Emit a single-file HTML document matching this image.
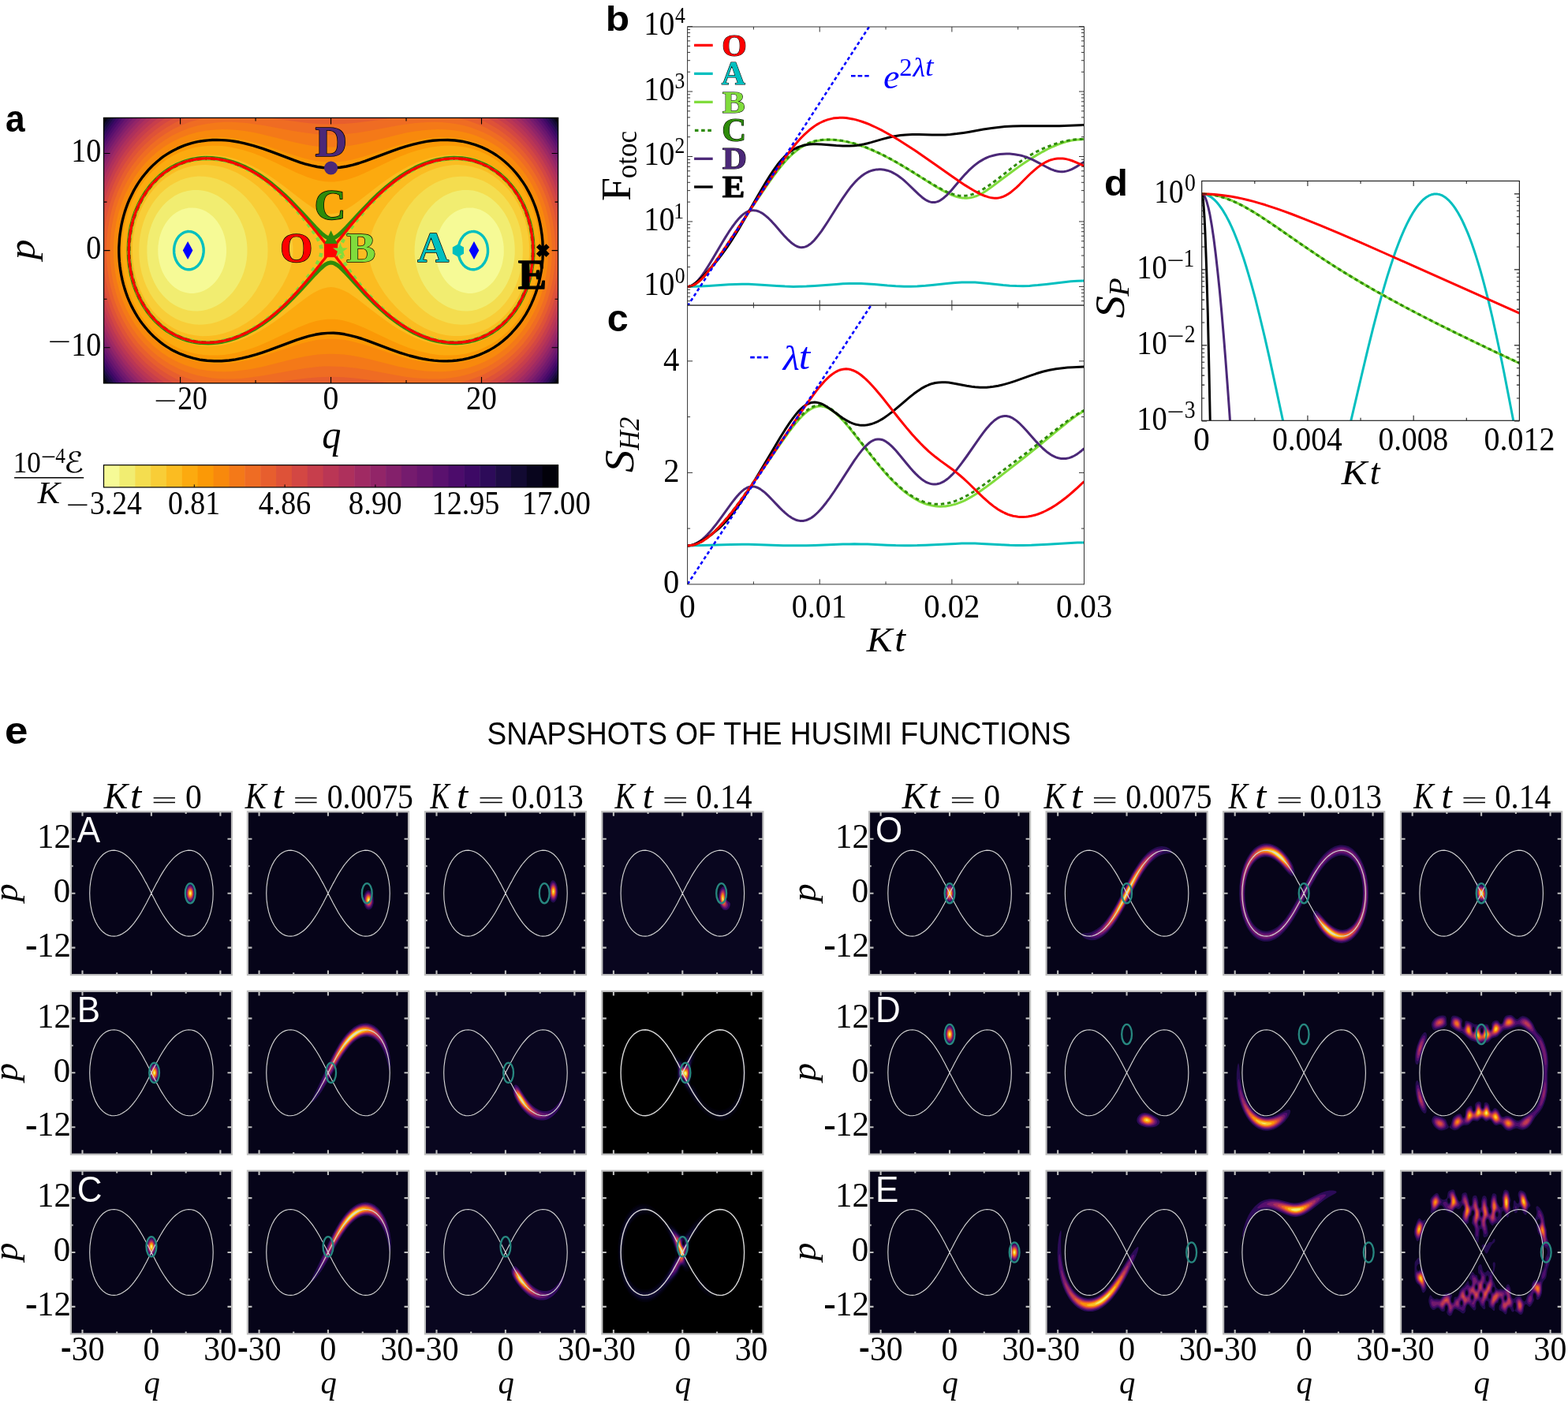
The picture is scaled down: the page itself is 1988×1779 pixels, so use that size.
<!DOCTYPE html>
<html lang="en"><head><meta charset="utf-8"><title>Figure</title>
<style>html,body{margin:0;padding:0;background:#fff;overflow:hidden}svg{display:block}</style></head>
<body><svg width="1988" height="1779" viewBox="0 0 1988 1779">
<rect width="1988" height="1779" fill="#fff"/>
<g id="pa">
<clipPath id="ca"><rect x="131.50" y="149.40" width="576.10" height="336.50"/></clipPath>
<g clip-path="url(#ca)">
<rect x="131.50" y="149.40" width="576.10" height="336.50" fill="#02010a"/>
<g transform="translate(131.50 149.40) scale(.1)" fill-rule="evenodd">
<path fill="#08051d" d="M20 15l10-15 5701 0 30 44 0 3277-30 44-5701 0-30-44 0-3277z"/>
<path fill="#120a32" d="M51 15l11-15 5637 0 62 89 0 3187-62 89-5637 0-62-89 0-3187z"/>
<path fill="#1e0c45" d="M84 15l11-15 5571 0 95 136 0 3093-95 136-5571 0-95-136 0-3093z"/>
<path fill="#2d0b59" d="M118 15l12-15 5501 0 70 95 60 90 0 2995-60 90-70 95-5501 0-70-95-60-90 0-2995 60-90z"/>
<path fill="#3d0965" d="M154 15l12-15 5429 0 90 120 76 116 0 2893-76 116-90 120-5429 0-90-120-76-116 0-2893 75-114z"/>
<path fill="#4c0c6b" d="M192 15l12-15 5353 0 54 68 60 82 90 140 0 2785-90 140-60 82-54 68-5353 0-54-68-60-82-90-140 0-2785 90-140 45-62z"/>
<path fill="#5a116e" d="M231 15l13-15 5273 0 64 78 64 87 56 82 60 98 0 2675-60 98-56 82-64 87-64 78-5273 0-64-78-64-87-56-82-60-98 0-2675 45-75 60-90 60-82z"/>
<path fill="#69166e" d="M273 15l13-15 5189 0 76 91 75 99 74 110 61 104 0 2557-61 104-74 110-75 99-76 91-5189 0-76-91-75-99-74-110-61-104 0-2557 61-104 71-105 67-90z"/>
<path fill="#751b6e" d="M317 15l14-15 5099 0 91 105 90 118 75 113 75 130 0 2433-75 130-75 113-90 118-91 105-5099 0-91-105-90-118-75-113-75-130 0-2433 75-130 74-111 79-105z"/>
<path fill="#84206b" d="M365 15l14-15 5003 0 56 60 53 61 59 74 44 60 88 136 79 141 0 2301-15 29-75 131-90 135-91 117-52 60-56 60-5003 0-56-60-53-61-59-74-44-60-88-136-79-141 0-2301 75-135 45-72 45-67 94-123 56-66z"/>
<path fill="#922568" d="M416 15l15-15 4899 0 71 73 56 62 49 60 60 79 59 87 46 74 45 79 45 88 0 2161-45 88-81 138-40 61-54 75-97 120-58 63-56 57-4899 0-71-73-56-62-49-60-60-79-59-87-46-74-45-79-45-88 0-2161 45-88 44-78 46-74 45-67 60-81 51-64 54-61z"/>
<path fill="#a02a63" d="M471 15l16-15 4787 0 67 64 75 80 68 81 67 88 60 89 57 94 48 89 45 93 0 2009-60 122-45 81-45 73-48 72-57 77-59 73-53 60-57 60-63 60-4787 0-67-64-75-80-68-81-67-88-60-89-57-94-48-89-45-93 0-2009 45-93 48-89 57-94 58-87 62-81 60-73 75-81z"/>
<path fill="#ae305c" d="M531 15l18-15 4663 0 84 76 75 76 75 85 75 97 69 102 64 105 55 105 52 115 0 1843-45 100-45 88-45 80-55 87-50 72-60 78-60 71-60 65-60 59-69 61-4663 0-84-76-75-76-75-85-75-97-69-102-64-105-55-105-52-115 0-1843 45-100 60-116 60-101 60-89 75-99 75-88 75-78z"/>
<path fill="#ba3655" d="M598 15l19-15 4527 0 106 90 91 89 90 102 75 97 75 112 65 111 60 120 55 132 0 1659-55 132-65 129-47 81-58 90-60 83-60 75-60 68-74 75-65 60-73 60-4527 0-106-90-91-89-90-102-75-97-75-112-65-111-60-120-55-132 0-1659 55-132 60-120 65-111 75-112 75-97 89-101 91-89z"/>
<path fill="#c73e4c" d="M674 15l21-15 4371 0 110 84 106 96 59 60 45 51 91 115 44 62 45 70 75 134 65 139 55 146 0 1451-31 86-37 90-37 79-45 86-53 90-60 90-67 90-60 72-75 80-75 71-75 63-80 60-4371 0-110-84-106-96-59-60-45-51-91-115-44-62-45-70-75-134-65-139-55-146 0-1451 55-146 63-135 75-135 77-116 90-116 90-100 105-99 60-50z"/>
<path fill="#d34743" d="M761 15l24-15 4191 0 69 45 71 52 60 49 60 53 60 59 60 65 57 68 48 63 45 65 45 72 45 79 41 81 34 75 31 75 29 82 30 97 0 1205-37 119-40 105-47 105-56 108-60 101-63 91-72 93-75 84-79 79-86 74-80 61-90 60-4191 0-69-45-71-52-60-49-60-53-60-59-60-65-57-68-48-63-45-65-45-72-45-79-41-81-34-75-31-75-29-82-30-97 0-1205 30-97 29-82 31-75 60-127 75-133 45-69 45-63 46-58 59-70 48-51 57-56 60-53 60-49 60-44z"/>
<path fill="#de5238" d="M867 15l28-15 3971 0 70 39 75 46 75 53 72 57 63 56 60 59 60 66 60 72 57 78 48 72 46 78 44 83 45 97 36 90 31 91 27 90 22 90 4 20 0 891-19 80-20 75-24 76-27 75-60 141-34 69-41 73-60 96-75 104-75 90-85 88-83 75-97 75-95 63-100 57-3971 0-70-39-60-36-60-41-105-82-48-42-57-55-90-98-45-55-45-60-80-123-70-128-32-67-32-75-28-75-29-91-25-90-19-80 0-891 26-110 27-90 31-91 36-90 45-97 45-85 45-76 60-90 60-79 60-71 60-63 75-71 75-63 75-55 75-49z"/>
<path fill="#e75e2e" d="M1004 15l37-15 3679 0 111 49 105 56 75 47 61 43 74 58 60 54 60 59 60 65 53 65 52 71 45 67 51 87 39 75 42 90 33 82 30 86 26 88 22 90 26 135 16 135 0 361-15 127-17 98-20 90-25 90-28 88-35 93-40 90-38 75-42 75-70 109-45 62-44 54-91 101-90 84-105 83-105 69-60 35-60 30-111 49-3679 0-111-49-105-56-105-67-90-69-90-80-90-93-75-91-75-106-60-99-60-116-52-120-42-121-37-135-25-120-14-90-10-90 0-361 15-127 23-128 30-120 37-118 42-108 48-106 60-111 60-96 60-83 75-91 75-79 90-82 90-70 95-63 100-56z"/>
<path fill="#ef6c23" d="M1219 15l68-15 808 0 335 47 150 18 165 13 151 3 150-5 150-13 165-20 305-43 808 0 132 32 125 43 70 30 60 29 108 61 72 48 60 46 60 50 60 56 53 56 52 60 59 75 46 67 45 72 45 82 38 79 32 75 34 91 23 75 25 90 19 90 15 90 11 90 7 90 3 90-2 91-5 90-10 90-13 90-18 90-23 90-27 90-27 76-31 75-36 79-45 86-45 75-45 67-45 61-45 56-60 66-50 50-55 50-60 49-60 44-60 40-60 35-72 38-66 30-72 28-75 25-75 21-72 16-808 0-335-47-150-18-150-12-151-4-150 4-150 12-150 18-335 47-808 0-132-32-125-43-70-30-60-29-108-61-102-70-90-74-90-87-75-84-75-99-63-97-59-105-56-120-46-121-36-120-28-120-22-135-13-135-4-136 6-135 13-120 23-135 29-120 32-105 46-121 56-120 59-105 63-97 75-99 75-84 90-87 90-74 102-70 93-53 108-52 117-44z"/>
<path fill="#f47918" d="M1430 60l100-6 90 0 90 4 105 9 105 13 105 16 390 72 150 24 165 18 150 5 76-1 90-6 165-18 150-25 375-69 195-28 90-8 90-5 90-1 90 3 90 8 90 13 90 19 90 25 79 28 86 36 90 46 75 46 60 41 60 46 60 52 60 58 60 66 45 54 45 61 45 67 45 76 38 72 35 75 30 76 32 90 22 75 22 90 15 75 14 90 8 75 5 90 2 91-3 90-7 90-12 90-12 75-20 90-20 75-29 90-28 76-33 75-36 75-38 68-45 73-48 69-57 73-45 51-60 62-60 55-60 49-60 43-75 48-71 40-64 30-75 32-75 26-75 21-75 17-75 13-90 11-90 5-105 1-90-4-105-9-105-13-105-16-390-72-150-24-165-18-151-5-75 1-90 6-165 18-150 25-375 69-195 28-90 8-90 5-90 1-90-3-90-8-90-13-90-19-90-25-79-28-86-36-90-46-75-46-90-63-90-76-90-90-75-88-75-105-60-99-59-117-50-121-40-120-31-123-24-132-14-135-5-136 5-135 14-135 24-132 31-123 40-120 49-119 54-107 62-105 64-91 75-91 90-93 90-78 90-65 105-64 105-51 105-41 120-35 110-22z"/>
<path fill="#f8890c" d="M1412 150l88-3 105 2 90 7 105 13 105 18 110 23 385 96 150 32 90 15 75 10 90 7 75 2 76-2 90-7 75-10 90-15 150-32 385-96 110-23 90-15 105-14 90-8 90-3 90 2 90 7 75 10 75 14 90 24 75 25 75 31 75 36 60 34 60 38 60 44 48 39 57 50 54 55 51 57 45 56 45 63 41 64 35 60 38 75 34 75 29 76 25 75 22 75 17 75 15 75 13 90 7 75 4 90 1 76-4 90-7 78-12 87-17 90-16 70-23 80-22 67-30 78-30 69-36 72-39 69-45 70-45 63-45 56-60 67-60 59-60 51-60 47-60 41-60 36-75 39-75 32-60 23-75 23-75 18-75 13-75 10-105 7-105-1-105-7-105-12-105-18-125-25-385-96-150-32-90-15-75-10-90-7-76-2-75 2-90 7-75 10-90 15-150 32-385 96-110 23-90 15-105 14-90 8-90 3-90-2-90-7-75-10-75-14-90-24-75-25-75-31-75-36-60-34-90-59-90-71-90-86-75-85-75-101-60-96-60-115-45-106-42-123-31-120-23-120-14-120-6-135 3-121 11-120 22-135 29-120 39-120 42-106 59-120 61-102 60-85 75-91 81-82 84-73 90-65 90-54 105-51 105-40 105-29 105-20z"/>
<path fill="#fb9906" d="M1294 255l116-8 120 1 120 11 120 20 120 28 120 34 110 35 280 95 150 44 75 18 75 15 75 9 60 4 76 1 75-5 75-9 90-18 75-19 90-26 371-124 154-46 90-23 90-18 90-15 75-8 90-5 90 1 90 7 90 13 80 18 85 26 90 35 75 36 60 34 60 39 55 41 50 41 52 49 53 54 45 53 45 58 41 60 34 55 30 54 36 71 26 61 29 75 24 75 20 72 17 78 14 75 9 75 7 75 3 75-1 76-3 75-7 75-11 75-14 75-17 75-21 75-21 63-30 77-30 68-30 59-45 79-39 60-44 60-49 60-48 52-54 53-51 44-60 46-60 40-60 36-60 30-75 33-75 26-60 17-75 17-75 11-105 9-120 0-120-10-135-22-120-28-120-34-110-35-280-95-150-44-75-18-75-15-75-9-60-4-76-1-75 5-75 9-90 18-75 19-90 26-371 124-154 46-90 23-90 18-90 15-75 8-90 5-90-1-90-7-90-13-80-18-85-26-90-35-75-36-90-53-90-65-75-64-75-76-75-91-60-86-58-99-47-96-40-100-35-106-29-119-21-120-12-120-3-121 6-120 13-120 23-120 28-105 40-118 45-105 48-93 57-92 65-88 70-82 75-73 75-63 90-62 90-51 90-42 105-36 105-27z"/>
<path fill="#fcaa0f" d="M1256 361l64-6 60-2 120 4 60 7 71 12 129 30 130 41 126 49 135 60 294 140 135 56 75 25 75 19 75 12 60 4 61-1 75-9 75-16 75-23 75-28 75-32 342-162 153-66 90-33 90-29 84-22 81-17 90-14 90-6 90-1 90 7 90 14 75 18 90 30 75 32 53 27 52 30 46 30 59 44 45 38 45 42 45 47 45 52 36 47 39 56 31 49 33 60 30 61 26 60 29 75 19 60 17 60 17 75 14 75 9 75 6 75 3 75-5 136-7 75-11 75-15 75-15 60-17 60-26 75-48 114-30 60-38 67-39 60-44 60-51 60-53 56-53 49-52 43-60 43-60 37-60 32-60 27-75 28-60 18-60 14-75 12-60 6-60 3-60 0-75-4-60-7-71-12-129-30-130-41-126-49-135-60-294-140-135-56-75-25-75-19-75-12-60-4-61 1-75 9-75 16-75 23-75 28-75 32-342 162-153 66-90 33-90 29-84 22-81 17-90 14-90 6-90 1-90-7-90-14-75-18-90-30-75-32-90-48-75-49-75-59-75-70-75-84-58-77-56-90-48-91-39-90-38-105-28-105-21-105-14-105-7-120 3-121 9-105 17-105 25-109 31-101 44-112 45-92 57-97 63-88 60-71 65-66 70-61 75-55 90-54 90-42 90-33 90-24z"/>
<path fill="#fbbc21" d="M1179 481l81-10 75-3 75 3 75 9 75 13 75 19 89 29 76 30 75 34 79 41 77 45 94 60 146 105 279 216 105 71 60 32 60 25 60 14 45 4 46-4 60-14 45-18 60-31 60-37 60-42 299-231 83-60 89-60 99-60 83-45 97-45 90-35 90-28 105-23 105-14 90-2 90 5 90 14 90 23 90 33 57 27 48 26 90 60 45 36 45 40 75 78 37 45 38 52 61 98 29 55 30 65 24 61 21 60 32 120 22 120 11 120 2 75-2 61-5 75-6 60-22 120-32 120-45 120-30 66-30 57-35 58-40 60-45 57-45 51-45 45-60 53-45 34-60 40-60 34-60 28-60 23-60 19-60 14-60 11-75 7-75 1-75-4-75-9-75-15-75-20-75-24-90-36-82-39-68-37-75-44-85-54-146-105-279-216-105-71-60-32-60-25-60-14-45-4-46 4-60 14-45 18-60 31-60 37-60 42-299 231-83 60-89 60-99 60-83 45-97 45-90 35-90 28-105 23-105 14-90 2-90-5-90-14-90-23-90-33-75-36-75-45-75-55-64-56-58-60-62-75-56-82-48-84-42-89-35-91-28-90-24-105-15-105-8-90-1-106 6-105 13-105 18-90 29-105 32-90 43-96 45-83 50-77 55-72 60-67 60-57 75-59 75-49 75-39 75-32 90-28z"/>
<path fill="#f8cd37" d="M1193 601l97-4 90 6 90 16 48 12 57 18 103 42 92 49 90 58 95 73 96 90 82 91 70 90 67 105 48 90 25 60 17 45 18 60 10 45 11 90 0 91-11 90-23 90-16 45-25 60-54 105-57 90-68 90-79 91-77 75-90 75-86 60-103 59-102 46-90 30-93 21-90 11-90 2-90-9-90-18-90-31-75-34-78-47-72-54-75-69-60-68-60-84-50-86-43-90-34-90-29-105-21-105-11-105-3-106 5-105 14-105 23-105 33-105 41-101 45-86 53-84 59-75 68-72 75-63 75-51 75-41 90-36 90-24zM4400 601l56-4 45 0 90 7 90 17 90 28 90 40 75 45 75 56 72 66 63 71 60 84 50 86 43 90 39 105 28 105 19 105 10 105 2 106-8 120-17 105-25 105-36 106-45 101-45 81-60 87-64 76-71 69-75 58-75 47-75 36-90 32-90 21-90 10-90 0-45-3-60-9-90-20-93-31-87-38-94-52-90-60-93-75-79-75-82-91-70-90-67-105-48-90-25-60-17-45-18-60-10-45-11-90 0-91 11-90 23-90 34-90 44-90 64-105 66-90 77-91 75-75 87-75 88-64 93-56 92-45 100-37 90-24z"/>
<path fill="#f4dd4f" d="M1113 751l87-9 75 2 75 10 90 23 75 29 75 37 75 48 70 55 64 60 66 76 54 75 53 90 35 75 33 90 23 90 14 90 4 90-4 91-14 90-19 75-31 90-33 75-51 90-53 75-63 75-61 61-73 60-74 49-75 39-78 32-87 24-75 11-75 4-75-5-75-14-75-23-75-33-60-34-60-43-60-53-55-59-50-65-45-71-45-89-30-76-28-90-19-90-12-90-4-90 3-106 11-90 18-90 26-90 28-75 37-78 43-72 47-67 60-68 60-56 60-45 60-36 75-36 70-23zM4428 751l88-8 75 1 75 10 75 19 75 29 74 39 61 42 60 50 60 61 57 73 48 75 38 75 37 89 28 91 19 90 12 90 4 90-3 106-11 90-18 90-26 90-35 90-37 75-46 75-52 70-60 65-60 53-60 43-75 42-75 31-75 21-75 12-75 3-90-7-75-15-75-24-75-32-75-41-75-53-60-50-60-60-61-73-53-75-43-75-35-75-33-90-23-90-14-90-4-91 4-90 14-90 19-75 31-90 33-75 42-75 50-75 61-75 58-61 70-60 63-45 76-44 75-34 75-25z"/>
<path fill="#f1ed71" d="M1128 916l72 0 60 7 60 14 60 21 60 29 54 35 58 45 47 45 51 60 42 60 34 60 29 63 27 72 19 75 13 75 6 75-1 76-7 75-14 75-21 75-29 75-30 60-36 60-44 60-48 54-56 51-49 37-60 36-60 27-60 20-60 12-60 5-60-2-60-8-60-17-60-24-48-25-57-39-45-38-45-46-45-56-31-47-33-60-33-75-25-75-18-75-11-75-5-75 0-76 7-75 12-75 17-66 23-69 26-60 31-60 40-62 45-56 45-46 45-38 60-41 54-28 51-19 60-17zM4550 916l71-1 60 7 60 15 60 22 60 30 49 33 56 46 45 46 45 56 31 47 33 60 33 75 25 75 18 75 11 75 5 75 0 76-7 75-12 75-20 75-26 75-31 68-30 53-45 66-45 52-45 43-45 36-60 38-60 28-60 21-60 12-60 5-60-2-60-8-60-16-60-24-60-31-60-41-53-45-45-45-48-60-34-50-39-70-26-60-22-60-19-75-13-75-6-75 1-76 7-75 14-75 16-60 27-72 29-63 34-60 42-60 45-53 53-52 52-41 53-35 52-26 60-24 60-16z"/>
<path fill="#f6fa96" d="M1080 1142l45-2 45 3 45 10 45 16 36 18 39 25 43 35 30 30 32 40 24 35 25 45 21 45 20 60 11 45 8 45 6 60 0 61-4 45-7 45-14 60-14 45-19 45-24 45-29 45-34 42-30 31-38 32-37 25-39 20-39 15-42 11-45 6-45 0-45-6-39-11-36-13-33-17-42-27-30-25-30-29-30-35-30-43-28-51-17-38-15-41-15-56-11-60-5-45-1-61 2-45 9-60 9-45 13-45 17-45 22-45 26-45 24-34 36-41 32-30 37-28 30-19 45-21 45-14zM4604 1142l32-2 45 2 45 8 45 14 45 21 30 19 37 28 38 36 30 35 30 43 28 51 17 38 15 41 15 56 11 60 5 45 1 61-2 45-9 60-9 45-13 45-24 60-23 45-27 44-30 38-30 32-42 36-33 23-42 22-33 13-45 13-45 6-45 0-45-6-42-11-33-12-36-18-39-25-43-35-30-30-32-40-24-35-25-45-21-45-16-45-12-45-9-45-7-60-1-61 2-45 8-55 11-50 13-45 18-45 21-45 27-45 30-40 31-35 33-30 41-30 30-18 45-21 45-14z"/>
</g>
<path d="M263.9,177.9 258.4,178.5 253.4,179.2 248.4,180.2 243.4,181.4 238.4,182.9 233.9,184.4 229,186.4 224.5,188.4 219.9,190.7 215.4,193.2 211.1,195.9 206.9,198.7 203,201.7 199,205 195.2,208.4 191.5,212 188,215.7 184.5,219.8 181,224.1 177.8,228.4 174.8,232.9 172,237.5 169.2,242.4 166.7,247.4 164.3,252.4 162,257.9 160,263.3 158.3,268.4 156.7,273.9 155.3,279.4 154,285.2 153,290.9 152.1,296.9 151.5,302.4 150.8,313.9 150.8,319.9 151,325.9 151.4,331.9 152,337.5 152.8,343.4 153.8,348.9 155,354.7 156.4,360.4 158,365.9 159.8,371.4 161.8,376.9 164,382.1 166.4,387.4 169,392.4 171.5,396.9 174.5,401.9 177.5,406.4 180.5,410.5 184,414.9 187.5,419 191.1,422.9 195,426.7 199,430.3 203,433.6 206.9,436.6 211.4,439.6 215.9,442.4 220.4,444.9 228.4,448.7 236.4,451.7 244.9,454.2 253.4,456.1 262.4,457.3 271.4,457.8 280.9,457.7 290.4,457 298.4,455.9 306.9,454.2 315.4,452.2 324.4,449.7 332.4,447.1 340.9,444.2 375.8,431.1 384.3,428.3 391.8,426.1 399.8,424.3 407.8,423 415.3,422.4 422.8,422.3 429.8,422.8 436.8,423.8 443.8,425.3 451.8,427.4 458.8,429.5 466.3,432.1 494.8,442.9 506.7,447.1 519.2,451 531.2,454 537.7,455.3 544.2,456.4 550.2,457.1 556.2,457.6 562.2,457.9 567.7,457.8 573.7,457.5 579.2,457 586.7,455.9 593.7,454.4 600.7,452.4 607.2,450.1 613.7,447.3 620.2,444.1 626.2,440.6 632.2,436.6 637.6,432.4 643.4,427.4 648.6,422.2 653.6,416.7 658.1,411.2 662.6,404.9 666.8,398.4 670.6,391.5 673.6,385.4 676.6,378.5 679.1,371.9 681.4,364.9 683.4,357.9 685,350.4 686.3,343.4 687.3,335.9 688,328.4 688.3,320.9 688.2,313.4 687.9,305.9 687.2,298.4 686.1,290.9 684.7,283.4 683.1,276.4 681.1,269.4 678.8,262.4 676.1,255.5 673.2,248.9 670.1,242.9 666.5,236.4 662.6,230.4 658.7,224.9 654.3,219.4 649.9,214.4 645.1,209.6 640.1,205 635.2,201 629.7,197 624.2,193.5 618.7,190.4 610.7,186.6 602.7,183.6 594.2,181.1 585.7,179.2 576.7,178 567.7,177.5 558.2,177.6 548.7,178.3 540.7,179.4 532.2,181.1 523.7,183.1 514.7,185.6 506.7,188.2 498.2,191.1 463.3,204.2 454.8,207 447.3,209.2 439.3,211 431.3,212.3 423.8,212.9 416.3,213 409.3,212.5 402.3,211.5 394.8,209.9 386.8,207.8 380.3,205.8 372.8,203.2 344.9,192.6 333,188.4 320.9,184.6 309.4,181.6 303.4,180.3 297.4,179.3 291.4,178.4 285.9,177.9 280.4,177.6 274.9,177.4 269.4,177.5 263.9,177.9" fill="none" stroke="#000" stroke-width="3.40" stroke-linejoin="round"/>
<path d="M260.4,200.4 255.9,200.6 251.4,201.1 246.9,201.8 242.9,202.6 238.4,203.7 234.4,204.9 230.4,206.4 226.4,208 222.4,209.9 218.4,212 214.5,214.4 210.9,216.8 207.4,219.4 203.9,222.2 197.5,228.2 194,231.9 191,235.4 185.5,242.7 180.5,250.6 176,259.2 172,268.4 168.8,277.9 166.2,287.9 164.5,297.7 163.4,307.9 163.1,318.4 163.5,328.4 164.7,338.9 166.5,348.5 169.1,358.4 170.7,363.4 172.5,368.1 176.5,377.2 181,385.5 183.5,389.6 186.4,393.9 189.4,397.9 192.2,401.4 195.3,404.9 198.5,408.1 202,411.4 205.4,414.4 212.4,419.6 216.1,421.9 219.9,424.1 223.9,426.1 227.9,427.9 232.9,429.9 237.9,431.5 242.9,432.7 247.9,433.7 252.9,434.4 258.4,434.8 263.9,434.9 269.4,434.7 274.9,434.2 280.4,433.4 285.9,432.2 291.4,430.8 296.9,429.1 302.4,427 307.9,424.7 313.4,422.1 322.4,417.3 331.7,411.4 341.4,404.4 350.7,396.9 360.8,387.9 371,377.9 381.1,367.4 399.3,347.6 405.8,341 409.8,337.5 412.8,335.3 415.8,333.8 418.3,333.1 419.8,333 421.3,333.2 422.8,333.6 424.3,334.2 427.8,336.3 431.3,339.1 434.8,342.4 439.3,347 463.7,373.4 475.2,384.9 482.7,391.9 490.2,398.4 497.1,403.9 504.5,409.4 511.7,414.2 518.7,418.4 526.2,422.4 533.2,425.6 540.3,428.4 547.7,430.8 554.7,432.6 561.7,433.8 569.7,434.7 577.7,434.9 585.7,434.5 593.7,433.3 601.2,431.5 608.8,428.9 616.2,425.7 623.2,421.8 629.7,417.4 636.1,412.3 642.1,406.6 647.7,400.4 653.1,393.4 657.6,386.4 662,378.4 665.6,370.5 667.8,364.9 669.7,359.4 671.4,353.4 672.9,347.4 674,341.4 674.9,335.4 675.6,328.9 675.9,322.9 676,316.9 675.8,310.4 675.4,303.9 674.6,297.9 673.7,291.9 672.4,285.9 670.9,279.9 669,273.9 667.1,268.4 664.6,262.4 662.1,257.1 659.4,251.9 656.4,246.9 653.1,242 649.6,237.3 646.1,233.1 642.1,228.7 638.1,224.8 634.2,221.3 629.7,217.9 625.2,214.8 620.7,212 616.2,209.6 611.2,207.4 606.2,205.4 601.2,203.8 596.2,202.6 591.2,201.6 586.2,200.9 580.7,200.5 575.7,200.4 570.2,200.6 564.7,201.1 559.2,201.9 553.7,203 548.2,204.4 542.7,206.1 537.2,208.1 531.7,210.3 526.3,212.9 517,217.9 508.2,223.4 499,229.9 490.2,236.9 479.9,245.9 469.1,256.4 458.5,267.4 439.3,288.3 432.3,295.3 428.3,298.6 425.3,300.6 422.3,301.9 420.8,302.2 419.3,302.3 416.8,301.9 413.8,300.6 410.8,298.6 407.8,296.2 404.3,292.9 399.8,288.3 382.5,269.4 374.4,260.9 367.5,253.9 360.8,247.4 352.4,239.9 344.6,233.4 336.7,227.4 328.4,221.7 319.9,216.6 311.4,212.2 302.9,208.5 294.3,205.4 285.9,203.1 277.4,201.5 268.9,200.6 260.4,200.4" fill="none" stroke="#2e8b0a" stroke-width="5.10" stroke-linejoin="round"/>
<path d="M260.4,201.4 255.4,201.6 250.4,202.2 245.8,202.9 240.9,204 235.9,205.4 231.4,206.9 226.9,208.7 222.4,210.8 217.9,213.2 213.6,215.9 209.4,218.8 205.4,221.9 201.5,225.3 198,228.7 194.5,232.4 191,236.4 187.9,240.4 184.8,244.9 181.9,249.4 179.1,254.4 176.5,259.4 174.5,263.9 172.5,268.9 170.5,274.5 168.8,279.9 167.4,285.4 166.1,291.4 165.2,296.9 164.5,302.4 163.9,308.4 163.7,314.4 163.6,319.9 163.9,325.9 164.3,331.4 165,337.1 165.9,342.9 167,348.4 168.5,354.2 170,359.4 171.9,364.9 174,370.2 176.3,375.4 178.8,380.4 181.3,384.9 184,389.2 187,393.6 190.2,397.9 193.6,401.9 197,405.6 200.9,409.4 204.4,412.6 208.4,415.8 212.4,418.6 216.8,421.4 220.9,423.7 225.4,425.9 229.9,427.8 234.4,429.5 238.9,430.8 243.9,432 248.9,432.9 253.9,433.5 258.9,433.9 263.9,433.9 268.4,433.7 273.4,433.3 278.4,432.6 283.4,431.6 288.4,430.4 293.4,429 298.4,427.3 303.4,425.3 308.4,423.1 313.4,420.6 318.5,417.9 323.4,415 328.2,411.9 333.3,408.4 343.1,400.9 349.1,395.9 354.6,390.9 360.4,385.4 366.3,379.4 371.9,373.4 377.6,366.9 383.1,360.4 388.6,353.4 393.5,346.9 397.7,340.9 400.9,335.9 403.5,331.4 405.4,327.4 406.7,323.9 407.4,320.4 407.6,317.4 407.4,314.4 406.5,310.9 405,306.9 403,302.9 400,297.9 396.3,292.4 392,286.4 386.7,279.4 381,272.4 375.4,265.9 369.6,259.4 363.9,253.4 358.3,247.9 352.5,242.4 346.8,237.4 340.6,232.4 335.4,228.4 330.5,224.9 325.4,221.5 320.4,218.5 315.4,215.7 310.4,213.2 305.4,210.9 300.4,208.8 295.4,207 290.4,205.4 285.4,204.1 280.4,203.1 275.4,202.3 270.4,201.7 265.4,201.4 260.4,201.4M574.7,201.4 570.2,201.6 565.2,202.1 560.2,202.8 555.2,203.8 550.2,205 545.2,206.5 540.2,208.2 535.2,210.2 530.3,212.4 525.2,214.9 520.6,217.4 515.6,220.4 505.8,226.9 496,234.4 490,239.4 484.5,244.4 478.7,249.9 472.8,255.9 467.2,261.9 461.5,268.4 456,274.9 450.5,281.9 445.6,288.4 441.4,294.4 438.2,299.4 435.6,303.9 433.7,307.9 432.4,311.4 431.7,314.9 431.5,317.9 431.7,320.9 432.6,324.4 434.1,328.4 436.1,332.4 439.1,337.4 442.4,342.4 447.1,348.9 452,355.4 457.7,362.4 463.2,368.9 469.1,375.4 474.7,381.4 480.3,386.9 486.1,392.4 491.8,397.4 497.8,402.4 503,406.4 507.9,409.9 513.2,413.4 518,416.4 523.2,419.3 528.2,421.9 533.2,424.2 538.2,426.3 543.2,428.1 548.2,429.7 553.2,431.1 558.2,432.1 563.2,433 568.2,433.5 573.2,433.9 578.2,433.9 583.2,433.7 588.2,433.2 593.2,432.4 597.7,431.5 602.7,430.1 607.2,428.6 611.7,426.8 616.2,424.7 620.7,422.3 624.7,419.9 629.2,416.9 633.2,413.8 637.1,410.4 640.6,407.1 644.1,403.5 647.7,399.4 651.1,395 654.1,390.7 657.1,386 659.6,381.6 662.1,376.8 664.6,371.4 666.6,366.4 668.6,360.9 670.3,355.4 671.7,349.9 673,343.9 673.9,338.4 674.6,332.9 675.2,326.9 675.4,320.9 675.5,315.4 675.2,309.4 674.8,303.9 674.1,298.2 673.2,292.4 672.1,286.9 670.6,281.1 669.1,275.9 667.2,270.4 665.1,265.1 662.8,259.9 660.3,254.9 657.6,250.1 654.7,245.4 651.6,241 648.5,236.9 645.1,233 641.6,229.2 638.1,225.8 634.2,222.3 630.2,219.2 626.2,216.3 621.7,213.5 617.7,211.3 613.2,209.2 608.7,207.3 604.2,205.7 599.7,204.4 594.7,203.2 589.7,202.3 584.7,201.7 579.7,201.4 574.7,201.4" fill="none" stroke="#80dc3c" stroke-width="4.40" stroke-dasharray="5 5.5" stroke-linejoin="round"/>
<path d="M236.4,293.8 234.4,294.4 232.9,295 229.8,296.9 226.9,299.5 224.4,303 222.5,306.9 221.2,311.4 220.6,315.9 220.7,320.4 221.4,325 222.9,329.4 224.9,333.1 227.4,336.3 228.9,337.7 230.4,338.9 233.4,340.6 234.9,341.1 236.9,341.6 238.4,341.8 240.4,341.7 242.4,341.5 244.4,340.9 246.4,340 247.9,339.1 249.6,337.9 251.2,336.4 252.5,334.9 253.9,333 255.1,330.9 256,328.9 257.4,324.4 258.1,319.9 258.2,317.4 258.1,314.9 257.3,310.4 255.8,305.9 254.8,303.9 253.6,301.9 252.1,299.9 250.7,298.4 249,296.9 247.4,295.8 245.6,294.9 243.9,294.2 242.4,293.8 240.4,293.6 238.4,293.5 236.4,293.8M596.7,293.8 594.7,294.4 593.2,295 590.1,296.9 588.7,298.1 587.2,299.7 584.7,303.2 582.9,306.9 581.6,311.4 581,315.9 581,320.4 581.8,324.9 583.2,329.1 585.2,332.9 587.7,336.2 589.2,337.6 590.7,338.8 592.5,339.9 594.2,340.7 596.2,341.3 597.7,341.6 599.7,341.8 601.2,341.7 603.1,341.4 604.7,340.9 606.7,340.1 608.2,339.2 610,337.9 611.6,336.4 614.2,333.1 616.2,329.4 617.7,324.9 618.2,322.4 618.5,319.9 618.5,317.4 618.4,314.9 617.7,310.3 616.2,305.9 615.2,303.8 614,301.9 612.7,300.1 611.2,298.5 609.3,296.9 607.7,295.8 606,294.9 604.2,294.2 602.7,293.8 600.7,293.5 598.7,293.6 596.7,293.8" fill="none" stroke="#00bfbf" stroke-width="3.40" stroke-linejoin="round"/>
<path d="M675.7,317.6 675.7,312.5 675.4,307.3 674.9,302.1 674.2,297 673.4,291.9 672.4,286.9 671.1,282 669.8,277.1 668.2,272.4 666.5,267.7 664.6,263.2 662.6,258.8 660.4,254.5 658.1,250.4 655.7,246.4 653.1,242.6 650.5,238.9 647.7,235.4 644.8,232.1 641.8,228.9 638.8,225.9 635.6,223.1 632.4,220.4 629.1,217.9 625.8,215.6 622.4,213.5 619,211.6 615.5,209.8 612.1,208.2 608.6,206.8 605,205.5 601.5,204.4 597.9,203.4 594.4,202.6 590.8,202 587.3,201.5 583.8,201.2 580.2,200.9 576.7,200.9 573.3,200.9 569.8,201.1 566.3,201.4 562.9,201.8 559.6,202.4 556.2,203 552.9,203.7 549.6,204.6 546.3,205.5 543.1,206.6 539.9,207.7 536.8,208.9 533.7,210.2 530.6,211.6 527.6,213 524.6,214.5 521.6,216.1 518.7,217.7 515.8,219.4 513,221.2 510.1,223 507.4,224.9 504.6,226.8 501.9,228.7 499.3,230.7 496.6,232.8 494,234.9 491.5,237 488.9,239.1 486.4,241.3 484,243.6 481.5,245.8 479.1,248.1 476.7,250.4 474.3,252.7 472,255.1 469.7,257.5 467.4,259.9 465.1,262.3 462.9,264.7 460.7,267.2 458.5,269.6 456.3,272.1 454.1,274.6 452,277.1 449.8,279.6 447.7,282.2 445.6,284.7 443.5,287.3 441.4,289.8 439.4,292.4 437.3,295 435.3,297.5 433.2,300.1 431.2,302.7 429.1,305.3 427.1,307.9 425.1,310.5 423.1,313.1 421.1,315.7 419,318.3 417,320.9 415,323.5 413,326.1 411,328.7 408.9,331.3 406.9,333.9 404.9,336.5 402.8,339 400.8,341.6 398.7,344.2 396.6,346.8 394.5,349.3 392.4,351.9 390.3,354.4 388.2,356.9 386.1,359.4 383.9,361.9 381.7,364.4 379.5,366.9 377.3,369.4 375.1,371.8 372.8,374.2 370.6,376.6 368.3,379 365.9,381.4 363.6,383.7 361.2,386.1 358.8,388.4 356.4,390.6 353.9,392.9 351.4,395.1 348.9,397.2 346.4,399.4 343.8,401.5 341.2,403.6 338.5,405.6 335.8,407.6 333.1,409.5 330.3,411.4 327.6,413.2 324.7,415 321.9,416.7 319,418.4 316,420 313,421.6 310,423 307,424.4 303.9,425.8 300.8,427 297.6,428.2 294.4,429.3 291.1,430.3 287.9,431.1 284.6,431.9 281.2,432.6 277.9,433.2 274.5,433.7 271,434.1 267.6,434.3 264.1,434.4 260.6,434.4 257.1,434.3 253.6,434 250,433.6 246.5,433 242.9,432.3 239.4,431.4 235.8,430.4 232.3,429.2 228.8,427.8 225.3,426.3 221.8,424.6 218.4,422.8 215,420.7 211.6,418.5 208.3,416.1 205.1,413.6 201.9,410.8 198.8,407.9 195.8,404.9 192.8,401.6 190,398.2 187.3,394.6 184.7,390.8 182.2,386.9 179.8,382.9 177.6,378.7 175.5,374.3 173.5,369.9 171.7,365.3 170.1,360.6 168.6,355.8 167.3,350.9 166.2,345.9 165.3,340.9 164.5,335.8 163.9,330.6 163.6,325.4 163.4,320.3 163.4,315 163.6,309.9 163.9,304.7 164.5,299.5 165.3,294.4 166.2,289.4 167.3,284.4 168.6,279.5 170.1,274.7 171.7,270 173.5,265.4 175.5,261 177.6,256.6 179.8,252.4 182.2,248.4 184.7,244.5 187.3,240.7 190,237.1 192.8,233.7 195.8,230.4 198.8,227.4 201.9,224.5 205.1,221.7 208.3,219.2 211.6,216.8 215,214.6 218.4,212.5 221.8,210.7 225.3,209 228.8,207.5 232.3,206.1 235.8,204.9 239.4,203.9 242.9,203 246.5,202.3 250,201.7 253.6,201.3 257.1,201 260.6,200.9 264.1,200.9 267.6,201 271,201.2 274.5,201.6 277.9,202.1 281.2,202.7 284.6,203.4 287.9,204.2 291.1,205 294.4,206 297.6,207.1 300.8,208.3 303.9,209.5 307,210.9 310,212.3 313,213.7 316,215.3 319,216.9 321.9,218.6 324.7,220.3 327.6,222.1 330.3,223.9 333.1,225.8 335.8,227.7 338.5,229.7 341.2,231.7 343.8,233.8 346.4,235.9 348.9,238.1 351.4,240.2 353.9,242.4 356.4,244.7 358.8,246.9 361.2,249.2 363.6,251.6 365.9,253.9 368.3,256.3 370.6,258.7 372.8,261.1 375.1,263.5 377.3,265.9 379.5,268.4 381.7,270.9 383.9,273.4 386.1,275.9 388.2,278.4 390.3,280.9 392.4,283.4 394.5,286 396.6,288.5 398.7,291.1 400.8,293.7 402.8,296.3 404.9,298.8 406.9,301.4 408.9,304 411,306.6 413,309.2 415,311.8 417,314.4 419,317 421.1,319.6 423.1,322.2 425.1,324.8 427.1,327.4 429.1,330 431.2,332.6 433.2,335.2 435.3,337.8 437.3,340.3 439.4,342.9 441.4,345.5 443.5,348 445.6,350.6 447.7,353.1 449.8,355.7 452,358.2 454.1,360.7 456.3,363.2 458.5,365.7 460.7,368.1 462.9,370.6 465.1,373 467.4,375.4 469.7,377.8 472,380.2 474.3,382.6 476.7,384.9 479.1,387.2 481.5,389.5 484,391.7 486.4,394 488.9,396.2 491.5,398.3 494,400.4 496.6,402.5 499.3,404.6 501.9,406.6 504.6,408.5 507.4,410.4 510.1,412.3 513,414.1 515.8,415.9 518.7,417.6 521.6,419.2 524.6,420.8 527.6,422.3 530.6,423.7 533.7,425.1 536.8,426.4 539.9,427.6 543.1,428.7 546.3,429.8 549.6,430.7 552.9,431.6 556.2,432.3 559.6,432.9 562.9,433.5 566.3,433.9 569.8,434.2 573.3,434.4 576.7,434.4 580.2,434.4 583.8,434.1 587.3,433.8 590.8,433.3 594.4,432.7 597.9,431.9 601.5,430.9 605,429.8 608.6,428.5 612.1,427.1 615.5,425.5 619,423.7 622.4,421.8 625.8,419.7 629.1,417.4 632.4,414.9 635.6,412.2 638.8,409.4 641.8,406.4 644.8,403.2 647.7,399.9 650.5,396.4 653.1,392.7 655.7,388.9 658.1,384.9 660.4,380.8 662.6,376.5 664.6,372.1 666.5,367.6 668.2,362.9 669.8,358.2 671.1,353.3 672.4,348.4 673.4,343.4 674.2,338.3 674.9,333.2 675.4,328 675.7,322.8 675.7,317.7z" fill="none" stroke="#ff0000" stroke-width="3.40" stroke-linejoin="round"/>
<polygon points="238.1,306.1 244.4,317.6 238.1,329.1 231.8,317.6" fill="#0000ff"/>
<polygon points="601.0,306.1 607.3,317.6 601.0,329.1 594.7,317.6" fill="#0000ff"/>
<polygon points="580.9,309.4 588.0,313.5 588.0,321.8 580.9,325.8 573.8,321.8 573.8,313.5" fill="#00bfbf"/>
<polygon points="419.6,292.3 428.6,310.9 410.6,310.9" fill="#2e8b0a"/>
<rect x="410.9" y="309.0" width="17.2" height="17.2" fill="#ff0000"/>
<polygon points="431.5,307.6 433.7,314.6 441.0,314.6 435.1,318.8 437.4,325.7 431.5,321.5 425.6,325.7 427.9,318.8 422.0,314.6 429.2,314.6" fill="#80dc3c"/>
<circle cx="419.6" cy="213.0" r="8.6" fill="#4b2878"/>
<polygon points="684.1,309.2 688.3,313.4 692.5,309.2 696.7,313.4 692.5,317.6 696.7,321.8 692.5,326.0 688.3,321.8 684.1,326.0 679.9,321.8 684.1,317.6 679.9,313.4" fill="#000"/>
</g>
<text transform="matrix(0.56183 0 0 0.53992 399.52 197.87)" font-family="'Liberation Serif', serif" font-size="100" font-weight="bold" fill="#4b2878" stroke="#000" stroke-width="2.6" paint-order="stroke" stroke-linejoin="round">D</text>
<text transform="matrix(0.55565 0 0 0.53829 398.46 278.26)" font-family="'Liberation Serif', serif" font-size="100" font-weight="bold" fill="#2e8b0a" stroke="#000" stroke-width="2.6" paint-order="stroke" stroke-linejoin="round">C</text>
<text transform="matrix(0.53333 0 0 0.52491 355.07 332.28)" font-family="'Liberation Serif', serif" font-size="100" font-weight="bold" fill="#ff0000" stroke="#000" stroke-width="2.6" paint-order="stroke" stroke-linejoin="round">O</text>
<text transform="matrix(0.55582 0 0 0.52776 439.33 332.07)" font-family="'Liberation Serif', serif" font-size="100" font-weight="bold" fill="#80dc3c" stroke="#000" stroke-width="2.6" paint-order="stroke" stroke-linejoin="round">B</text>
<text transform="matrix(0.55319 0 0 0.55000 529.35 332.20)" font-family="'Liberation Serif', serif" font-size="100" font-weight="bold" fill="#00bfbf" stroke="#000" stroke-width="2.6" paint-order="stroke" stroke-linejoin="round">A</text>
<text transform="matrix(0.54561 0 0 0.52977 656.65 365.80)" font-family="'Liberation Serif', serif" font-size="100" font-weight="bold" fill="#000000" stroke="#000" stroke-width="2.6" paint-order="stroke" stroke-linejoin="round">E</text>
<path d="M133.11 485.90v-4.0M133.11 149.40v4.0M228.59 485.90v-8.0M228.59 149.40v8.0M324.07 485.90v-4.0M324.07 149.40v4.0M419.55 485.90v-8.0M419.55 149.40v8.0M515.03 485.90v-4.0M515.03 149.40v4.0M610.51 485.90v-8.0M610.51 149.40v8.0M705.99 485.90v-4.0M705.99 149.40v4.0M131.50 440.75h8.0M707.60 440.75h-8.0M131.50 379.20h4.0M707.60 379.20h-4.0M131.50 317.65h8.0M707.60 317.65h-8.0M131.50 256.10h4.0M707.60 256.10h-4.0M131.50 194.55h8.0M707.60 194.55h-8.0" stroke="#000" stroke-width="1.1" fill="none"/>
<rect x="131.50" y="149.40" width="576.10" height="336.50" fill="none" stroke="#000" stroke-width="1.3"/>
<rect x="131.50" y="589.70" width="20.37" height="28.20" fill="#f6fa96"/>
<rect x="151.37" y="589.70" width="20.37" height="28.20" fill="#f1ed71"/>
<rect x="171.23" y="589.70" width="20.37" height="28.20" fill="#f4dd4f"/>
<rect x="191.10" y="589.70" width="20.37" height="28.20" fill="#f8cd37"/>
<rect x="210.96" y="589.70" width="20.37" height="28.20" fill="#fbbc21"/>
<rect x="230.83" y="589.70" width="20.37" height="28.20" fill="#fcaa0f"/>
<rect x="250.69" y="589.70" width="20.37" height="28.20" fill="#fb9906"/>
<rect x="270.56" y="589.70" width="20.37" height="28.20" fill="#f8890c"/>
<rect x="290.42" y="589.70" width="20.37" height="28.20" fill="#f47918"/>
<rect x="310.29" y="589.70" width="20.37" height="28.20" fill="#ef6c23"/>
<rect x="330.16" y="589.70" width="20.37" height="28.20" fill="#e75e2e"/>
<rect x="350.02" y="589.70" width="20.37" height="28.20" fill="#de5238"/>
<rect x="369.89" y="589.70" width="20.37" height="28.20" fill="#d34743"/>
<rect x="389.75" y="589.70" width="20.37" height="28.20" fill="#c73e4c"/>
<rect x="409.62" y="589.70" width="20.37" height="28.20" fill="#ba3655"/>
<rect x="429.48" y="589.70" width="20.37" height="28.20" fill="#ae305c"/>
<rect x="449.35" y="589.70" width="20.37" height="28.20" fill="#a02a63"/>
<rect x="469.21" y="589.70" width="20.37" height="28.20" fill="#922568"/>
<rect x="489.08" y="589.70" width="20.37" height="28.20" fill="#84206b"/>
<rect x="508.94" y="589.70" width="20.37" height="28.20" fill="#751b6e"/>
<rect x="528.81" y="589.70" width="20.37" height="28.20" fill="#69166e"/>
<rect x="548.68" y="589.70" width="20.37" height="28.20" fill="#5a116e"/>
<rect x="568.54" y="589.70" width="20.37" height="28.20" fill="#4c0c6b"/>
<rect x="588.41" y="589.70" width="20.37" height="28.20" fill="#3d0965"/>
<rect x="608.27" y="589.70" width="20.37" height="28.20" fill="#2d0b59"/>
<rect x="628.14" y="589.70" width="20.37" height="28.20" fill="#1e0c45"/>
<rect x="648.00" y="589.70" width="20.37" height="28.20" fill="#120a32"/>
<rect x="667.87" y="589.70" width="20.37" height="28.20" fill="#08051d"/>
<rect x="687.73" y="589.70" width="19.87" height="28.20" fill="#02010a"/>
<path d="M246.30 617.90v-3.5M361.10 617.90v-3.5M475.90 617.90v-3.5M590.70 617.90v-3.5" stroke="#000" stroke-width="1" fill="none"/>
<rect x="131.50" y="589.70" width="576.10" height="28.20" fill="none" stroke="#000" stroke-width="1.2"/>
</g>
<g id="pbcd">
<clipPath id="cb"><rect x="871.60" y="34.00" width="502.90" height="353.10"/></clipPath>
<g clip-path="url(#cb)">
<path d="M871.6,363.4 880,363.3 888.4,363 898.8,362.4 924,360.7 932.4,360.4 940.7,360.2 949.1,360.3 957.5,360.7 965.9,361.2 984.8,362.5 995.2,363.1 1005.7,363.4 1014.1,363.3 1022.5,363.1 1032.9,362.5 1060.2,360.4 1068.6,359.8 1077,359.5 1083.2,359.4 1091.6,359.6 1100,360 1108.4,360.6 1125.1,362.1 1135.6,362.8 1146.1,363.2 1154.5,363.2 1162.9,362.9 1173.3,362.2 1181.7,361.4 1202.7,359.3 1211.1,358.6 1219.4,358.1 1227.8,358 1236.2,358.1 1244.6,358.7 1253,359.4 1271.8,361.5 1280.2,362.2 1288.6,362.6 1297,362.7 1305.4,362.4 1309.5,362.1 1315.8,361.6 1326.3,360.5 1347.3,357.9 1357.7,356.8 1366.1,356.3 1374.5,356.1" fill="none" stroke="#00bfbf" stroke-width="3.00" stroke-linejoin="round"/>
<path d="M871.6,363.4 873.7,363.3 875.8,362.8 877.9,362.1 880,361.1 882.1,359.9 884.2,358.5 886.3,356.8 888.4,354.9 890.5,352.8 892.6,350.6 896.7,345.8 900.9,340.5 905.1,334.9 909.3,329.1 917.7,316.9 928.2,301.3 959.6,253.8 972.2,235.3 978.5,226.4 982.7,220.7 988.9,212.6 993.1,207.5 997.3,202.8 1001.5,198.5 1005.7,194.5 1009.9,191 1014.1,188 1018.3,185.3 1022.5,183.1 1026.7,181.3 1028.8,180.6 1032.9,179.3 1037.1,178.4 1041.3,177.7 1043.4,177.5 1047.6,177.2 1051.8,177.2 1056,177.3 1060.2,177.7 1064.4,178.2 1068.6,178.8 1074.9,180.1 1079,181.1 1083.2,182.2 1087.4,183.5 1093.7,185.6 1097.9,187.1 1102.1,188.8 1106.3,190.6 1112.6,193.4 1121,197.5 1131.4,203 1139.8,207.8 1150.3,214 1158.7,219.2 1177.5,231.1 1185.9,236.3 1194.3,241.1 1200.6,244.4 1204.8,246.4 1206.9,247.3 1211.1,248.8 1213.2,249.5 1217.3,250.5 1219.4,250.9 1221.5,251.1 1223.6,251.2 1225.7,251.2 1227.8,251.1 1229.9,250.8 1232,250.4 1234.1,249.9 1236.2,249.2 1238.3,248.5 1240.4,247.5 1242.5,246.5 1246.7,244.2 1250.9,241.5 1257.2,237.1 1282.3,218.2 1290.7,212.1 1297,207.7 1305.4,202.2 1313.7,197.1 1322.1,192.3 1328.4,189 1334.7,186 1341,183.4 1347.3,181.1 1351.5,179.8 1355.6,178.8 1357.7,178.3 1361.9,177.6 1364,177.3 1368.2,176.9 1374.5,176.6" fill="none" stroke="#80dc3c" stroke-width="3.00" stroke-linejoin="round"/>
<path d="M871.6,363.4 873.7,363.3 875.8,362.8 877.9,362.1 880,361.1 882.1,359.9 884.2,358.4 886.3,356.7 888.4,354.8 890.5,352.7 894.6,348 898.8,342.9 903,337.4 907.2,331.6 911.4,325.6 917.7,316.4 928.2,300.6 957.5,255.8 965.9,243.3 972.2,234.1 978.5,225.1 982.7,219.4 988.9,211.3 993.1,206.3 997.3,201.6 1001.5,197.4 1005.7,193.5 1009.9,190.1 1014.1,187.2 1018.3,184.6 1022.5,182.5 1026.7,180.8 1028.8,180.1 1032.9,178.9 1037.1,178 1041.3,177.4 1043.4,177.2 1047.6,177 1051.8,177 1056,177.1 1060.2,177.5 1064.4,178 1068.6,178.6 1072.8,179.4 1077,180.4 1081.1,181.4 1085.3,182.6 1091.6,184.6 1095.8,186.1 1100,187.7 1104.2,189.4 1110.5,192.2 1118.9,196.2 1123,198.3 1129.3,201.6 1137.7,206.3 1148.2,212.5 1156.6,217.6 1175.4,229.3 1183.8,234.4 1190.1,238 1196.4,241.3 1200.6,243.3 1202.7,244.2 1206.9,245.8 1209,246.4 1213.2,247.5 1215.2,247.9 1217.3,248.2 1219.4,248.3 1221.5,248.4 1223.6,248.3 1225.7,248.1 1227.8,247.8 1229.9,247.3 1232,246.7 1234.1,246 1236.2,245.2 1240.4,243.3 1242.5,242.2 1246.7,239.8 1253,235.8 1257.2,232.9 1261.3,229.8 1267.6,225 1284.4,211.7 1290.7,207 1294.9,204 1301.2,199.8 1307.4,196.1 1313.7,192.7 1320,189.6 1324.2,187.7 1328.4,186 1334.7,183.6 1338.9,182.1 1343.1,180.8 1349.4,179.2 1355.6,177.9 1361.9,177 1368.2,176.6 1374.5,176.6" fill="none" stroke="#2e8b0a" stroke-width="3.00" stroke-linejoin="round" stroke-dasharray="4.5 3.8"/>
<path d="M871.6,363.4 873.7,363.2 875.8,362.6 877.9,361.6 880,360.2 882.1,358.4 884.2,356.4 886.3,354 888.4,351.4 890.5,348.6 892.6,345.7 894.6,342.6 898.8,336 903,329.1 915.6,307.8 919.8,300.9 924,294.2 928.2,288 932.4,282.3 934.5,279.7 936.6,277.3 938.7,275.1 940.7,273.1 942.8,271.4 944.9,269.9 947,268.7 949.1,267.8 951.2,267.2 953.3,266.8 955.4,266.7 957.5,266.9 959.6,267.3 961.7,268 963.8,269 965.9,270.1 968,271.5 970.1,273.1 972.2,274.8 974.3,276.7 976.4,278.8 978.5,280.9 982.7,285.5 991,295.2 995.2,299.9 999.4,304.2 1001.5,306.2 1003.6,308 1005.7,309.6 1007.8,311 1009.9,312.1 1012,313 1014.1,313.5 1016.2,313.7 1018.3,313.6 1020.4,313.1 1022.5,312.4 1024.6,311.2 1026.7,309.8 1028.8,308.1 1030.9,306.2 1032.9,304 1035,301.5 1037.1,298.9 1041.3,293.3 1045.5,287.1 1049.7,280.7 1062.3,260.7 1068.6,251.1 1072.8,245.1 1074.9,242.2 1079,236.7 1081.1,234.2 1085.3,229.6 1087.4,227.5 1089.5,225.6 1091.6,223.8 1093.7,222.2 1095.8,220.8 1097.9,219.5 1100,218.4 1102.1,217.4 1104.2,216.6 1106.3,216 1108.4,215.5 1110.5,215.1 1112.6,214.9 1114.7,214.8 1116.8,214.8 1118.9,215 1121,215.3 1123,215.7 1125.1,216.2 1127.2,216.9 1129.3,217.7 1131.4,218.7 1133.5,219.8 1135.6,221 1137.7,222.3 1139.8,223.7 1144,226.9 1146.1,228.7 1150.3,232.5 1160.8,242.6 1165,246.6 1169.1,250.2 1171.2,251.8 1173.3,253.2 1175.4,254.4 1177.5,255.4 1179.6,256.1 1181.7,256.5 1183.8,256.6 1185.9,256.4 1188,255.9 1190.1,255.1 1192.2,254 1194.3,252.6 1196.4,251 1198.5,249.2 1200.6,247.3 1204.8,242.9 1209,238.1 1219.4,225.8 1223.6,221.1 1227.8,216.7 1229.9,214.7 1234.1,210.9 1236.2,209.1 1240.4,206 1242.5,204.6 1246.7,202.1 1248.8,201 1253,199.2 1255.1,198.4 1259.3,197.2 1263.4,196.2 1267.6,195.6 1271.8,195.2 1276,195 1280.2,195.1 1282.3,195.2 1286.5,195.7 1290.7,196.4 1294.9,197.3 1297,197.9 1301.2,199.2 1305.4,200.8 1309.5,202.7 1315.8,205.9 1326.3,211.5 1330.5,213.6 1332.6,214.6 1334.7,215.4 1336.8,216.2 1338.9,216.8 1341,217.3 1343.1,217.6 1345.2,217.7 1347.3,217.7 1349.4,217.5 1351.5,217.1 1353.5,216.6 1355.6,215.9 1357.7,215.1 1359.8,214.1 1364,211.9 1368.2,209.3 1374.5,205.3" fill="none" stroke="#4b2878" stroke-width="3.00" stroke-linejoin="round"/>
<path d="M871.6,363.4 873.7,363.2 875.8,362.6 877.9,361.6 880,360.3 882.1,358.8 884.2,357 886.3,355.1 890.5,351 894.6,346.7 898.8,342.3 905.1,335.3 911.4,327.7 915.6,322.2 921.9,313.4 926.1,307.2 932.4,297.3 936.6,290.4 942.8,279.7 961.7,246.7 968,236 972.2,229 976.4,222.3 980.6,216.1 982.7,213.1 986.8,207.5 991,202.5 993.1,200.2 995.2,198.1 997.3,196.1 999.4,194.3 1001.5,192.6 1003.6,191.1 1005.7,189.8 1007.8,188.6 1009.9,187.5 1012,186.6 1014.1,185.8 1016.2,185.1 1020.4,184 1024.6,183.3 1026.7,183.1 1030.9,182.8 1035,182.8 1041.3,183 1047.6,183.5 1060.2,184.6 1068.6,185 1072.8,185.1 1077,185.1 1083.2,184.7 1089.5,183.9 1095.8,182.7 1100,181.7 1104.2,180.6 1118.9,176.4 1127.2,174.2 1131.4,173.2 1135.6,172.4 1141.9,171.5 1148.2,170.9 1152.4,170.7 1156.6,170.5 1165,170.5 1181.7,171 1190.1,171.1 1198.5,170.9 1204.8,170.5 1213.2,169.6 1221.5,168.4 1227.8,167.4 1246.7,164 1257.2,162.4 1265.5,161.4 1273.9,160.6 1284.4,160 1294.9,159.7 1303.3,159.7 1328.4,159.8 1343.1,159.7 1355.6,159.3 1374.5,158.6" fill="none" stroke="#000000" stroke-width="3.00" stroke-linejoin="round"/>
<path d="M871.6,363.4 873.7,363.3 875.8,362.8 877.9,362.1 880,361.1 882.1,359.9 884.2,358.4 886.3,356.7 888.4,354.8 890.5,352.8 892.6,350.5 896.7,345.6 900.9,340.3 905.1,334.7 909.3,328.8 915.6,319.7 921.9,310.4 934.5,291.4 968,240.2 976.4,227.5 984.8,215.1 993.1,203.1 999.4,194.5 1005.7,186.4 1009.9,181.3 1014.1,176.6 1016.2,174.3 1020.4,170.1 1024.6,166.3 1026.7,164.5 1030.9,161.3 1035,158.4 1039.2,156 1043.4,154 1045.5,153.1 1049.7,151.6 1051.8,151.1 1056,150.1 1058.1,149.8 1062.3,149.4 1064.4,149.3 1068.6,149.3 1072.8,149.6 1077,150.2 1081.1,150.9 1085.3,151.9 1089.5,153.1 1093.7,154.5 1097.9,156 1102.1,157.7 1106.3,159.6 1110.5,161.5 1118.9,165.7 1123,168 1129.3,171.5 1139.8,177.8 1150.3,184.4 1160.8,191.3 1171.2,198.5 1183.8,207.2 1206.9,223.5 1215.2,229.3 1223.6,234.9 1229.9,238.8 1234.1,241.3 1238.3,243.6 1242.5,245.8 1244.6,246.8 1248.8,248.5 1250.9,249.2 1253,249.9 1255.1,250.4 1257.2,250.8 1259.3,251.1 1261.3,251.2 1263.4,251.2 1265.5,251 1267.6,250.6 1269.7,250 1271.8,249.3 1273.9,248.4 1276,247.3 1278.1,246.1 1280.2,244.7 1282.3,243.1 1286.5,239.6 1288.6,237.8 1292.8,233.8 1303.3,223.3 1307.4,219.3 1311.6,215.6 1315.8,212.1 1320,209.1 1324.2,206.5 1326.3,205.3 1328.4,204.3 1330.5,203.4 1332.6,202.7 1334.7,202.1 1336.8,201.6 1338.9,201.2 1341,201 1343.1,200.9 1345.2,200.9 1347.3,201 1349.4,201.2 1351.5,201.6 1355.6,202.6 1359.8,204 1361.9,204.8 1366.1,206.6 1374.5,210.4" fill="none" stroke="#ff0000" stroke-width="3.00" stroke-linejoin="round"/>
<path d="M871.6,388.2 1206.9,-127.4" fill="none" stroke="#0000ff" stroke-width="2.60" stroke-linejoin="round" stroke-dasharray="4.3 3.3"/>
</g>
<clipPath id="cc"><rect x="871.60" y="387.10" width="502.90" height="353.80"/></clipPath>
<g clip-path="url(#cc)">
<path d="M871.6,691.9 880,691.8 890.5,691.6 926.1,690.5 940.7,690.2 949.1,690.3 957.5,690.5 993.1,691.7 1003.6,691.8 1014.1,691.8 1022.5,691.7 1032.9,691.4 1068.6,690 1077,689.9 1083.2,689.8 1091.6,689.9 1100,690.1 1125.1,691.2 1135.6,691.6 1146.1,691.7 1154.5,691.7 1162.9,691.6 1173.3,691.2 1211.1,689.4 1219.4,689.1 1227.8,689 1236.2,689.1 1244.6,689.4 1269.7,690.8 1280.2,691.3 1288.6,691.5 1297,691.5 1307.4,691.3 1317.9,690.8 1328.4,690.2 1349.4,688.9 1357.7,688.4 1366.1,688.1 1374.5,688" fill="none" stroke="#00bfbf" stroke-width="3.00" stroke-linejoin="round"/>
<path d="M871.6,691.9 873.7,691.8 875.8,691.6 877.9,691.2 880,690.7 882.1,690.1 884.2,689.3 886.3,688.4 888.4,687.4 890.5,686.2 894.6,683.6 896.7,682.1 900.9,678.8 903,676.9 907.2,673.1 909.3,671 913.5,666.6 919.8,659.5 926.1,651.9 932.4,643.9 940.7,632.7 949.1,621.1 957.5,609.2 991,560.6 999.4,548.9 1005.7,540.6 1009.9,535.4 1014.1,530.6 1018.3,526.3 1020.4,524.3 1022.5,522.5 1024.6,520.9 1026.7,519.5 1028.8,518.2 1030.9,517.1 1032.9,516.3 1035,515.7 1037.1,515.3 1039.2,515.1 1041.3,515.1 1043.4,515.4 1045.5,515.9 1047.6,516.6 1049.7,517.5 1051.8,518.6 1053.9,519.9 1056,521.3 1058.1,522.9 1060.2,524.7 1062.3,526.6 1064.4,528.6 1068.6,533 1072.8,537.7 1077,542.7 1085.3,553.2 1100,572.2 1108.4,582.9 1114.7,590.6 1121,598 1125.1,602.7 1129.3,607.2 1135.6,613.5 1141.9,619.3 1146.1,622.8 1148.2,624.5 1152.4,627.6 1154.5,629.1 1158.7,631.8 1160.8,633 1165,635.3 1167.1,636.3 1171.2,638 1175.4,639.5 1177.5,640.1 1181.7,641.1 1185.9,641.8 1188,642 1192.2,642.2 1196.4,642.1 1198.5,641.9 1202.7,641.3 1204.8,640.9 1209,639.9 1211.1,639.3 1215.2,637.9 1217.3,637.1 1221.5,635.3 1223.6,634.3 1227.8,632.1 1234.1,628.5 1240.4,624.4 1248.8,618.6 1259.3,610.7 1273.9,599.4 1299.1,579.8 1315.8,566.4 1345.2,542.1 1351.5,537 1355.6,533.7 1361.9,529 1366.1,526.1 1370.3,523.4 1374.5,521" fill="none" stroke="#80dc3c" stroke-width="3.00" stroke-linejoin="round"/>
<path d="M871.6,691.9 873.7,691.8 875.8,691.6 877.9,691.2 880,690.7 882.1,690.1 884.2,689.3 886.3,688.4 888.4,687.3 890.5,686.2 894.6,683.4 896.7,681.9 900.9,678.5 903,676.7 907.2,672.7 909.3,670.6 913.5,666.2 919.8,659 926.1,651.3 932.4,643.2 940.7,631.9 949.1,620.1 957.5,608.1 982.7,571.2 991,559.1 999.4,547.3 1005.7,539 1009.9,533.8 1014.1,529 1018.3,524.7 1020.4,522.7 1022.5,520.9 1024.6,519.3 1026.7,517.9 1028.8,516.7 1030.9,515.6 1032.9,514.8 1035,514.2 1037.1,513.9 1039.2,513.7 1041.3,513.8 1043.4,514.1 1045.5,514.7 1047.6,515.4 1049.7,516.3 1051.8,517.5 1053.9,518.8 1056,520.3 1058.1,521.9 1062.3,525.6 1064.4,527.7 1068.6,532.1 1072.8,536.8 1077,541.8 1085.3,552.4 1100,571.4 1106.3,579.5 1114.7,589.8 1121,597.2 1127.2,604.1 1133.5,610.6 1139.8,616.5 1144,620.1 1146.1,621.8 1150.3,625 1152.4,626.5 1156.6,629.3 1160.8,631.7 1162.9,632.8 1167.1,634.7 1171.2,636.3 1173.3,637 1177.5,638.1 1181.7,638.8 1183.8,639.1 1188,639.3 1192.2,639.3 1194.3,639.1 1198.5,638.6 1202.7,637.8 1204.8,637.3 1209,636 1211.1,635.3 1215.2,633.7 1217.3,632.8 1221.5,630.8 1227.8,627.5 1234.1,623.7 1238.3,621 1242.5,618.1 1250.9,612.1 1259.3,605.9 1299.1,576 1315.8,563.1 1343.1,541.6 1353.5,533.6 1359.8,529.1 1364,526.3 1368.2,523.7 1370.3,522.5 1374.5,520.3" fill="none" stroke="#2e8b0a" stroke-width="3.00" stroke-linejoin="round" stroke-dasharray="4.5 3.8"/>
<path d="M871.6,691.9 873.7,691.7 875.8,691.4 877.9,690.9 880,690.2 882.1,689.3 884.2,688.2 886.3,686.9 888.4,685.5 890.5,683.8 892.6,682 894.6,680.1 896.7,678 900.9,673.4 903,671 907.2,665.8 913.5,657.4 924,642.8 928.2,637.1 932.4,631.8 934.5,629.3 936.6,626.9 938.7,624.8 940.7,622.8 942.8,621.1 944.9,619.7 947,618.5 949.1,617.7 951.2,617.1 953.3,616.9 955.4,616.9 957.5,617.3 959.6,618 961.7,618.9 963.8,620.1 965.9,621.6 968,623.2 970.1,624.9 974.3,628.9 978.5,633.2 988.9,644.1 993.1,648.2 995.2,650.1 997.3,651.9 999.4,653.6 1001.5,655.1 1003.6,656.5 1005.7,657.7 1007.8,658.7 1009.9,659.5 1012,660 1014.1,660.4 1016.2,660.5 1018.3,660.4 1020.4,660.1 1022.5,659.5 1024.6,658.7 1026.7,657.7 1028.8,656.5 1030.9,655 1032.9,653.4 1035,651.5 1037.1,649.5 1039.2,647.3 1041.3,645 1043.4,642.5 1047.6,637.2 1051.8,631.6 1058.1,622.5 1064.4,612.9 1077,593.4 1083.2,583.9 1087.4,578 1089.5,575.1 1093.7,569.9 1095.8,567.5 1097.9,565.3 1100,563.3 1102.1,561.5 1104.2,560 1106.3,558.8 1108.4,557.9 1110.5,557.2 1112.6,556.9 1114.7,556.9 1116.8,557.2 1118.9,557.7 1121,558.6 1123,559.8 1125.1,561.2 1127.2,562.8 1129.3,564.6 1131.4,566.6 1135.6,571 1139.8,575.9 1150.3,588.7 1154.5,593.7 1158.7,598.4 1160.8,600.6 1165,604.6 1167.1,606.4 1169.1,608.1 1171.2,609.5 1173.3,610.8 1175.4,611.9 1177.5,612.7 1179.6,613.4 1181.7,613.8 1183.8,614 1185.9,614 1188,613.7 1190.1,613.3 1192.2,612.6 1194.3,611.7 1196.4,610.6 1198.5,609.3 1200.6,607.7 1202.7,606.1 1204.8,604.2 1206.9,602.2 1209,600 1213.2,595.2 1215.2,592.6 1219.4,587.2 1225.7,578.5 1238.3,560.3 1242.5,554.3 1246.7,548.6 1250.9,543.3 1253,540.9 1255.1,538.5 1257.2,536.4 1259.3,534.5 1261.3,532.7 1263.4,531.2 1265.5,529.9 1267.6,528.9 1269.7,528.2 1271.8,527.7 1273.9,527.5 1276,527.6 1278.1,527.9 1280.2,528.5 1282.3,529.4 1284.4,530.5 1286.5,531.9 1288.6,533.4 1290.7,535.1 1292.8,537 1297,541.2 1301.2,545.7 1313.7,559.9 1317.9,564.3 1322.1,568.5 1326.3,572.1 1328.4,573.8 1330.5,575.3 1332.6,576.7 1334.7,577.9 1336.8,578.9 1338.9,579.8 1341,580.5 1343.1,581.1 1345.2,581.4 1347.3,581.6 1349.4,581.6 1351.5,581.4 1353.5,581.1 1355.6,580.6 1357.7,579.9 1359.8,579 1361.9,578 1364,576.8 1366.1,575.4 1368.2,573.9 1370.3,572.3 1374.5,568.6" fill="none" stroke="#4b2878" stroke-width="3.00" stroke-linejoin="round"/>
<path d="M871.6,691.9 873.7,691.7 875.8,691.4 877.9,691 880,690.3 882.1,689.5 884.2,688.6 888.4,686.4 892.6,684 896.7,681.3 900.9,678.5 905.1,675.3 909.3,671.9 911.4,670.1 915.6,666.1 917.7,664 919.8,661.8 924,657.1 928.2,651.9 930.3,649.2 934.5,643.6 940.7,634.6 947,625 953.3,615 959.6,604.6 982.7,565.8 988.9,555.3 995.2,545.2 1001.5,535.7 1005.7,529.8 1007.8,527.1 1009.9,524.5 1012,522.1 1014.1,519.9 1016.2,517.8 1018.3,516 1020.4,514.4 1022.5,513.1 1024.6,512 1026.7,511.1 1028.8,510.5 1030.9,510.2 1032.9,510.1 1035,510.2 1037.1,510.6 1039.2,511.1 1041.3,511.9 1043.4,512.9 1045.5,514 1047.6,515.2 1051.8,518 1064.4,527.3 1068.6,530.2 1072.8,532.8 1077,535.1 1079,536 1081.1,536.9 1083.2,537.6 1085.3,538.2 1087.4,538.6 1089.5,539 1091.6,539.2 1093.7,539.2 1095.8,539.2 1097.9,539 1100,538.7 1102.1,538.3 1104.2,537.8 1106.3,537.1 1108.4,536.4 1112.6,534.6 1114.7,533.5 1118.9,531.1 1121,529.8 1125.1,526.9 1131.4,522.1 1137.7,516.9 1150.3,506.2 1154.5,502.7 1158.7,499.3 1162.9,496.2 1167.1,493.4 1169.1,492.1 1173.3,489.9 1177.5,488 1179.6,487.2 1181.7,486.5 1183.8,486 1185.9,485.5 1190.1,484.9 1194.3,484.7 1198.5,484.8 1202.7,485.1 1206.9,485.7 1211.1,486.5 1225.7,489.3 1232,490.3 1236.2,490.8 1242.5,491.2 1246.7,491.3 1250.9,491.2 1255.1,490.8 1259.3,490.3 1265.5,489.2 1269.7,488.3 1276,486.6 1280.2,485.4 1286.5,483.3 1305.4,476.6 1313.7,473.8 1322.1,471.3 1326.3,470.3 1330.5,469.3 1334.7,468.5 1338.9,467.8 1343.1,467.2 1349.4,466.5 1353.5,466.1 1359.8,465.7 1374.5,465.1" fill="none" stroke="#000000" stroke-width="3.00" stroke-linejoin="round"/>
<path d="M871.6,691.9 873.7,691.8 875.8,691.6 877.9,691.2 880,690.7 882.1,690.1 884.2,689.3 886.3,688.4 888.4,687.4 890.5,686.2 892.6,684.9 896.7,682 898.8,680.4 903,676.8 905.1,674.9 909.3,670.8 915.6,664.1 921.9,656.8 926.1,651.6 930.3,646.3 938.7,635.1 949.1,620.6 959.6,605.6 970.1,590.2 1005.7,537.2 1016.2,521.7 1022.5,512.7 1026.7,506.8 1030.9,501.1 1035,495.6 1039.2,490.4 1041.3,488 1045.5,483.3 1049.7,479.1 1051.8,477.2 1053.9,475.5 1056,473.9 1058.1,472.5 1060.2,471.3 1062.3,470.2 1064.4,469.3 1066.5,468.7 1068.6,468.2 1070.7,467.9 1072.8,467.8 1074.9,467.9 1077,468.3 1079,468.8 1081.1,469.5 1083.2,470.4 1085.3,471.4 1087.4,472.6 1089.5,474 1091.6,475.5 1095.8,479 1097.9,480.9 1102.1,485 1106.3,489.5 1110.5,494.2 1114.7,499.2 1118.9,504.3 1139.8,530.8 1150.3,543.6 1156.6,550.9 1160.8,555.6 1167.1,562.3 1171.2,566.4 1177.5,572.3 1181.7,575.9 1185.9,579.3 1192.2,584.1 1204.8,593.2 1209,596.3 1213.2,599.6 1217.3,603 1221.5,606.7 1227.8,612.5 1242.5,626.9 1246.7,630.9 1250.9,634.7 1255.1,638.3 1259.3,641.6 1261.3,643.1 1265.5,646 1269.7,648.4 1273.9,650.5 1278.1,652.3 1280.2,653 1284.4,654.2 1286.5,654.6 1290.7,655.3 1292.8,655.4 1297,655.5 1301.2,655.3 1303.3,655 1307.4,654.3 1309.5,653.8 1313.7,652.7 1315.8,652 1320,650.4 1322.1,649.5 1326.3,647.5 1328.4,646.4 1332.6,644.1 1338.9,640.2 1345.2,635.8 1351.5,631 1355.6,627.6 1359.8,624 1366.1,618.4 1374.5,610.5" fill="none" stroke="#ff0000" stroke-width="3.00" stroke-linejoin="round"/>
<path d="M871.6,740.9 1206.9,231.4" fill="none" stroke="#0000ff" stroke-width="2.60" stroke-linejoin="round" stroke-dasharray="4.3 3.3"/>
</g>
<path d="M955.42 34.00v3.5M955.42 387.10v-3.5M955.42 387.10v3.5M955.42 740.90v-3.5M1039.23 34.00v6.5M1039.23 387.10v-6.5M1039.23 387.10v6.5M1039.23 740.90v-6.5M1123.05 34.00v3.5M1123.05 387.10v-3.5M1123.05 387.10v3.5M1123.05 740.90v-3.5M1206.87 34.00v6.5M1206.87 387.10v-6.5M1206.87 387.10v6.5M1206.87 740.90v-6.5M1290.68 34.00v3.5M1290.68 387.10v-3.5M1290.68 387.10v3.5M1290.68 740.90v-3.5M871.60 381.69h3.5M1374.50 381.69h-3.5M871.60 376.17h3.5M1374.50 376.17h-3.5M871.60 371.39h3.5M1374.50 371.39h-3.5M871.60 367.17h3.5M1374.50 367.17h-3.5M871.60 363.40h6.5M1374.50 363.40h-6.5M871.60 338.58h3.5M1374.50 338.58h-3.5M871.60 324.06h3.5M1374.50 324.06h-3.5M871.60 313.76h3.5M1374.50 313.76h-3.5M871.60 305.77h3.5M1374.50 305.77h-3.5M871.60 299.24h3.5M1374.50 299.24h-3.5M871.60 293.72h3.5M1374.50 293.72h-3.5M871.60 288.94h3.5M1374.50 288.94h-3.5M871.60 284.72h3.5M1374.50 284.72h-3.5M871.60 280.95h6.5M1374.50 280.95h-6.5M871.60 256.13h3.5M1374.50 256.13h-3.5M871.60 241.61h3.5M1374.50 241.61h-3.5M871.60 231.31h3.5M1374.50 231.31h-3.5M871.60 223.32h3.5M1374.50 223.32h-3.5M871.60 216.79h3.5M1374.50 216.79h-3.5M871.60 211.27h3.5M1374.50 211.27h-3.5M871.60 206.49h3.5M1374.50 206.49h-3.5M871.60 202.27h3.5M1374.50 202.27h-3.5M871.60 198.50h6.5M1374.50 198.50h-6.5M871.60 173.68h3.5M1374.50 173.68h-3.5M871.60 159.16h3.5M1374.50 159.16h-3.5M871.60 148.86h3.5M1374.50 148.86h-3.5M871.60 140.87h3.5M1374.50 140.87h-3.5M871.60 134.34h3.5M1374.50 134.34h-3.5M871.60 128.82h3.5M1374.50 128.82h-3.5M871.60 124.04h3.5M1374.50 124.04h-3.5M871.60 119.82h3.5M1374.50 119.82h-3.5M871.60 116.05h6.5M1374.50 116.05h-6.5M871.60 91.23h3.5M1374.50 91.23h-3.5M871.60 76.71h3.5M1374.50 76.71h-3.5M871.60 66.41h3.5M1374.50 66.41h-3.5M871.60 58.42h3.5M1374.50 58.42h-3.5M871.60 51.89h3.5M1374.50 51.89h-3.5M871.60 46.37h3.5M1374.50 46.37h-3.5M871.60 41.59h3.5M1374.50 41.59h-3.5M871.60 37.37h3.5M1374.50 37.37h-3.5M871.60 33.60h6.5M1374.50 33.60h-6.5M871.60 670.14h3.5M1374.50 670.14h-3.5M871.60 599.38h6.5M1374.50 599.38h-6.5M871.60 528.62h3.5M1374.50 528.62h-3.5M871.60 457.86h6.5M1374.50 457.86h-6.5" stroke="#333" stroke-width="1.00" fill="none"/>
<rect x="871.60" y="34.00" width="502.90" height="353.10" fill="none" stroke="#333" stroke-width="1.00"/>
<rect x="871.60" y="387.10" width="502.90" height="353.80" fill="none" stroke="#333" stroke-width="1.00"/>
<path d="M880.1 57.4H903.7" stroke="#ff0000" stroke-width="3.30"/>
<path d="M880.1 93.4H903.7" stroke="#00bfbf" stroke-width="3.30"/>
<path d="M880.1 129.4H903.7" stroke="#80dc3c" stroke-width="3.30"/>
<path d="M880.9 165.3H903.7" stroke="#2e8b0a" stroke-width="3.30" stroke-dasharray="4.6 3.6"/>
<path d="M880.1 201.3H903.7" stroke="#4b2878" stroke-width="3.30"/>
<path d="M880.1 237.0H903.7" stroke="#000000" stroke-width="3.30"/>
<path d="M1079.0 96.3H1101.7" stroke="#0000ff" stroke-width="2.60" stroke-dasharray="5.6 3"/>
<path d="M951.2 453.1H973.9" stroke="#0000ff" stroke-width="2.60" stroke-dasharray="5.6 3"/>
<clipPath id="cd"><rect x="1523.70" y="229.50" width="402.70" height="303.80"/></clipPath>
<g clip-path="url(#cd)">
<path d="M1523.7,245.9 1526.2,246.1 1527.9,246.4 1529.6,246.9 1531.3,247.6 1532.9,248.4 1534.6,249.4 1536.3,250.5 1538.8,252.6 1540.5,254.2 1542.2,255.9 1543.8,257.8 1545.5,259.9 1548.9,264.5 1551.4,268.4 1554.7,274.1 1558.1,280.5 1561.5,287.6 1564,293.3 1567.3,301.5 1570.7,310.3 1574,319.8 1576.6,327.3 1579.9,337.8 1582.4,346.1 1585.8,357.6 1588.3,366.7 1591.7,379.2 1597.5,402.5 1603.4,427.1 1609.3,453.1 1615.1,479.9 1627.7,538.6 1633.6,565.2 1635.3,572.6 1636.1,573.3 1702.4,573.3 1703.2,572.9 1707.4,556 1711.6,538.6 1727.6,470.5 1734.3,442.4 1741,415.3 1747.7,389.6 1751.9,374.3 1755.3,362.6 1758.6,351.4 1762,340.6 1766.2,327.9 1769.5,318.3 1772.9,309.3 1776.2,300.9 1780.4,291.1 1783.8,283.9 1786.3,279 1788,275.8 1791.3,270 1793.8,266.1 1795.5,263.6 1798.9,259.2 1800.6,257.2 1802.2,255.4 1803.9,253.7 1805.6,252.2 1808.1,250.3 1809.8,249.2 1811.5,248.2 1813.1,247.5 1814.8,246.8 1816.5,246.4 1818.2,246.1 1819.9,246 1822.4,246.1 1824,246.4 1825.7,246.8 1827.4,247.4 1829.1,248.2 1830.8,249.2 1832.4,250.3 1834.1,251.6 1835.8,253.1 1837.5,254.7 1840,257.5 1842.5,260.6 1845,264.1 1848.4,269.5 1850.9,273.9 1853.4,278.7 1855.9,284 1858.4,289.6 1861,295.6 1863.5,302 1866,308.8 1868.5,316 1871,323.6 1873.5,331.6 1876.9,342.9 1879.4,351.8 1881.9,361.1 1887,380.8 1892,402 1897,424.7 1901.2,444.5 1906.3,469.3 1911.3,495 1921.4,547.2 1926.4,572.5" fill="none" stroke="#00bfbf" stroke-width="3.00" stroke-linejoin="round"/>
<path d="M1523.7,245.9 1526.2,245.9 1529.6,246.1 1532.9,246.4 1536.3,246.9 1542.2,248 1545.5,248.8 1548.9,249.7 1552.2,250.7 1555.6,251.9 1562.3,254.5 1569,257.6 1576.6,261.4 1582.4,264.7 1589.1,268.6 1596.7,273.3 1604.2,278.2 1617.7,287.3 1647,307.7 1660.5,316.9 1674.7,326.4 1688.1,335.2 1701.6,343.7 1715,351.9 1728.4,359.9 1742.7,368.2 1760.3,378 1779.6,388.5 1799.7,399 1821.5,410.2 1844.2,421.4 1869.4,433.7 1896.2,446.5 1926.4,460.6" fill="none" stroke="#80dc3c" stroke-width="3.00" stroke-linejoin="round"/>
<path d="M1523.7,245.9 1526.2,245.9 1529.6,246.1 1532.1,246.3 1535.4,246.8 1541.3,247.8 1544.7,248.6 1548,249.5 1551.4,250.5 1554.7,251.7 1561.5,254.3 1568.2,257.3 1575.7,261.1 1581.6,264.4 1588.3,268.3 1595.9,273 1603.4,277.9 1616.8,287 1646.2,307.3 1659.6,316.4 1673.9,326 1687.3,334.7 1700.7,343.2 1714.1,351.4 1728.4,359.9 1742.7,368.1 1760.3,377.9 1779.6,388.4 1799.7,398.9 1821.5,410 1844.2,421.3 1869.4,433.5 1896.2,446.3 1926.4,460.4" fill="none" stroke="#2e8b0a" stroke-width="3.00" stroke-linejoin="round" stroke-dasharray="4.5 3.8"/>
<path d="M1523.7,245.9 1524.5,246.1 1525.4,246.6 1526.2,247.5 1527.1,248.7 1527.9,250.3 1528.7,252.3 1529.6,254.6 1530.4,257.3 1532.1,263.6 1533.8,271.3 1534.6,275.7 1536.3,285.4 1538.8,302.3 1541.3,322 1543.8,344.4 1546.4,369.2 1548.9,396.4 1551.4,425.7 1553.9,457 1556.4,490.1 1558.9,524.8 1562.3,573.3 1926.4,573.3" fill="none" stroke="#4b2878" stroke-width="3.00" stroke-linejoin="round"/>
<path d="M1523.7,245.9 1524.5,247.8 1525.4,253.6 1526.2,263.2 1527.1,276.6 1527.9,293.7 1528.7,314.3 1529.6,338.5 1531.3,396.8 1532.9,467.5 1534.6,549.4 1535.4,573.3 1926.4,573.3" fill="none" stroke="#000000" stroke-width="3.00" stroke-linejoin="round"/>
<path d="M1523.7,245.9 1529.6,246 1536.3,246.3 1542.2,246.7 1548.9,247.4 1554.7,248.2 1561.5,249.2 1568.2,250.5 1574.9,251.9 1581.6,253.5 1589.1,255.4 1596.7,257.6 1604.2,259.8 1611.8,262.3 1620.2,265.1 1628.6,268.1 1637.8,271.5 1655.4,278.3 1674.7,286.1 1697.4,295.7 1724.2,307.2 1754.4,320.5 1793,337.6 1926.4,397.1" fill="none" stroke="#ff0000" stroke-width="3.00" stroke-linejoin="round"/>
</g>
<path d="M1590.82 229.50v3.5M1590.82 533.30v-3.5M1657.93 229.50v6.5M1657.93 533.30v-6.5M1725.05 229.50v3.5M1725.05 533.30v-3.5M1792.17 229.50v6.5M1792.17 533.30v-6.5M1859.28 229.50v3.5M1859.28 533.30v-3.5M1523.70 533.90h6.5M1926.40 533.90h-6.5M1523.70 505.00h3.5M1926.40 505.00h-3.5M1523.70 488.10h3.5M1926.40 488.10h-3.5M1523.70 476.10h3.5M1926.40 476.10h-3.5M1523.70 466.80h3.5M1926.40 466.80h-3.5M1523.70 459.20h3.5M1926.40 459.20h-3.5M1523.70 452.77h3.5M1926.40 452.77h-3.5M1523.70 447.20h3.5M1926.40 447.20h-3.5M1523.70 442.29h3.5M1926.40 442.29h-3.5M1523.70 437.90h6.5M1926.40 437.90h-6.5M1523.70 409.00h3.5M1926.40 409.00h-3.5M1523.70 392.10h3.5M1926.40 392.10h-3.5M1523.70 380.10h3.5M1926.40 380.10h-3.5M1523.70 370.80h3.5M1926.40 370.80h-3.5M1523.70 363.20h3.5M1926.40 363.20h-3.5M1523.70 356.77h3.5M1926.40 356.77h-3.5M1523.70 351.20h3.5M1926.40 351.20h-3.5M1523.70 346.29h3.5M1926.40 346.29h-3.5M1523.70 341.90h6.5M1926.40 341.90h-6.5M1523.70 313.00h3.5M1926.40 313.00h-3.5M1523.70 296.10h3.5M1926.40 296.10h-3.5M1523.70 284.10h3.5M1926.40 284.10h-3.5M1523.70 274.80h3.5M1926.40 274.80h-3.5M1523.70 267.20h3.5M1926.40 267.20h-3.5M1523.70 260.77h3.5M1926.40 260.77h-3.5M1523.70 255.20h3.5M1926.40 255.20h-3.5M1523.70 250.29h3.5M1926.40 250.29h-3.5M1523.70 245.90h6.5M1926.40 245.90h-6.5" stroke="#222" stroke-width="1.10" fill="none"/>
<rect x="1523.70" y="229.50" width="402.70" height="303.80" fill="none" stroke="#222" stroke-width="1.20"/>
</g>
<g id="pe">
<defs><path id="lem" d="M180.3,103.4 180,95.3 179,87.5 177.5,80.1 175.4,73.3 172.9,67.3 170,62 166.8,57.7 163.4,54.2 159.8,51.7 156.3,50 152.7,49.1 149.1,48.9 145.6,49.4 142.2,50.4 138.9,52 135.8,54 132.7,56.4 129.8,59.1 127.1,62.1 124.4,65.2 121.8,68.6 119.4,72.2 117,75.8 114.7,79.6 112.5,83.4 110.4,87.4 108.2,91.3 106.2,95.3 104.1,99.3 102,103.4 100,107.4 97.9,111.4 95.9,115.4 93.7,119.4 91.6,123.3 89.4,127.2 87.1,130.9 84.7,134.6 82.3,138.1 79.7,141.5 77,144.7 74.3,147.7 71.4,150.4 68.3,152.7 65.2,154.7 61.9,156.3 58.5,157.4 55,157.8 51.4,157.7 47.8,156.8 44.3,155.1 40.7,152.5 37.3,149.1 34.1,144.7 31.2,139.5 28.7,133.4 26.6,126.6 25.1,119.2 24.1,111.4 23.8,103.4 24.1,95.3 25.1,87.5 26.6,80.1 28.7,73.3 31.2,67.3 34.1,62 37.3,57.7 40.7,54.2 44.3,51.7 47.8,50 51.4,49.1 55,48.9 58.5,49.4 61.9,50.4 65.2,52 68.3,54 71.4,56.4 74.3,59.1 77,62.1 79.7,65.2 82.3,68.6 84.7,72.2 87.1,75.8 89.4,79.6 91.6,83.4 93.7,87.4 95.9,91.3 97.9,95.3 100,99.3 102,103.4 104.1,107.4 106.2,111.4 108.2,115.4 110.4,119.4 112.5,123.3 114.7,127.2 117,130.9 119.4,134.6 121.8,138.1 124.4,141.5 127.1,144.7 129.8,147.7 132.7,150.4 135.8,152.7 138.9,154.7 142.2,156.3 145.6,157.4 149.1,157.8 152.7,157.7 156.3,156.8 159.8,155.1 163.4,152.5 166.8,149.1 170,144.7 172.9,139.5 175.4,133.4 177.5,126.6 179,119.2 180,111.4 180.3,103.4z" fill="none" stroke="#d4d4d4" stroke-width="1.15"/>
<path id="lem2" d="M180.3,103.4 180,95.3 179,87.5 177.5,80.1 175.4,73.3 172.9,67.3 170,62 166.8,57.7 163.4,54.2 159.8,51.7 156.3,50 152.7,49.1 149.1,48.9 145.6,49.4 142.2,50.4 138.9,52 135.8,54 132.7,56.4 129.8,59.1 127.1,62.1 124.4,65.2 121.8,68.6 119.4,72.2 117,75.8 114.7,79.6 112.5,83.4 110.4,87.4 108.2,91.3 106.2,95.3 104.1,99.3 102,103.4 100,107.4 97.9,111.4 95.9,115.4 93.7,119.4 91.6,123.3 89.4,127.2 87.1,130.9 84.7,134.6 82.3,138.1 79.7,141.5 77,144.7 74.3,147.7 71.4,150.4 68.3,152.7 65.2,154.7 61.9,156.3 58.5,157.4 55,157.8 51.4,157.7 47.8,156.8 44.3,155.1 40.7,152.5 37.3,149.1 34.1,144.7 31.2,139.5 28.7,133.4 26.6,126.6 25.1,119.2 24.1,111.4 23.8,103.4 24.1,95.3 25.1,87.5 26.6,80.1 28.7,73.3 31.2,67.3 34.1,62 37.3,57.7 40.7,54.2 44.3,51.7 47.8,50 51.4,49.1 55,48.9 58.5,49.4 61.9,50.4 65.2,52 68.3,54 71.4,56.4 74.3,59.1 77,62.1 79.7,65.2 82.3,68.6 84.7,72.2 87.1,75.8 89.4,79.6 91.6,83.4 93.7,87.4 95.9,91.3 97.9,95.3 100,99.3 102,103.4 104.1,107.4 106.2,111.4 108.2,115.4 110.4,119.4 112.5,123.3 114.7,127.2 117,130.9 119.4,134.6 121.8,138.1 124.4,141.5 127.1,144.7 129.8,147.7 132.7,150.4 135.8,152.7 138.9,154.7 142.2,156.3 145.6,157.4 149.1,157.8 152.7,157.7 156.3,156.8 159.8,155.1 163.4,152.5 166.8,149.1 170,144.7 172.9,139.5 175.4,133.4 177.5,126.6 179,119.2 180,111.4 180.3,103.4z" fill="none" stroke="#d8d8d8" stroke-width="1.40"/>
<path id="etk" d="M14.6 0v5.5M14.6 206.8v-5.5M58.3 0v2.8M58.3 206.8v-2.8M102.0 0v5.5M102.0 206.8v-5.5M145.8 0v2.8M145.8 206.8v-2.8M189.5 0v5.5M189.5 206.8v-5.5M0 172.3h5.5M204.1 172.3h-5.5M0 137.8h2.8M204.1 137.8h-2.8M0 103.4h5.5M204.1 103.4h-5.5M0 68.9h2.8M204.1 68.9h-2.8M0 34.5h5.5M204.1 34.5h-5.5" fill="none" stroke="#bdbdbd" stroke-width="2.10"/>
<rect id="efr" x="0" y="0" width="204.10" height="206.75" fill="none" stroke="#bdbdbd" stroke-width="2.20"/>
<clipPath id="ce"><rect x="0" y="0" width="204.10" height="206.75"/></clipPath></defs>
<g transform="translate(89.90 1029.30)">
<rect width="204.10" height="206.75" fill="#060419"/>
<g clip-path="url(#ce)"><g transform="scale(.1)" fill-rule="evenodd">
<path fill="#240c4f" d="M1489 1149l14 8 10 2 10-2 10-4 10-9 12-15 9-20 7-20 5-30 1-20-1-30-5-30-11-30-12-20-10-10-15-9-10-1-10 1-10 5-10 8-11 16-13 30-8 40-1 40 9 50 13 30z"/>
<path fill="#4d0d6c" d="M1513 1139l10-2 10-6 10-10 8-12 11-30 5-40-1-20-4-30-11-30-8-12-10-11-10-5-10-2-10 2-10 5-10 11-7 12-11 30-5 40 0 20 5 30 11 30 7 12 10 10 10 6z"/>
<path fill="#721a6e" d="M1497 1119l6 4 10 2 10-2 10-7 10-12 7-15 6-20 3-20-1-40-8-30-7-15-10-13-10-7-10-2-10 2-10 7-10 13-10 25-6 30 0 30 6 30 10 25z"/>
<path fill="#972766" d="M1499 1109l4 3 10 2 10-2 10-8 14-25 6-30 1-20-2-20-9-30-10-15-10-8-10-3-10 3-14 13-10 20-6 30-1 20 4 30 8 20 9 15z"/>
<path fill="#bc3754" d="M1500 1099l3 3 10 2 10-3 10-9 10-20 5-23 0-30-7-30-8-14-6-6-4-3-10-3-10 3-12 13-9 20-4 20 0 30 4 20 9 20z"/>
<path fill="#da4e3c" d="M1500 1089l3 3 10 3 10-3 11-13 5-10 4-20 0-30-4-20-6-12-7-8-3-3-10-4-10 4-10 11-5 12-5 20-1 20 3 20 7 20z"/>
<path fill="#f06f20" d="M1500 1079l3 3 10 4 10-4 10-14 6-19 0-30-6-20-10-14-10-4-10 4-3 4-7 10-5 20 0 30 5 20z"/>
<path fill="#fb9706" d="M1501 1069l2 3 10 5 10-5 8-13 3-10 1-20-4-20-8-13-10-5-10 4-7 14-3 10 0 30z"/>
<path fill="#fac62d" d="M1503 1059l10 8 10-7 5-11 1-10-1-20-5-11-10-7-10 6-4 12-2 20z"/>
<path fill="#f1f179" d="M1509 1049l4 4 5-4 5-10 0-10-5-10-5-4-4 4-5 10 0 10z"/>
</g>
<use href="#lem"/>
<ellipse cx="151.33" cy="103.38" rx="6.41" ry="12.63" fill="none" stroke="#27877f" stroke-width="2.30"/>
</g>
<use href="#etk"/><use href="#efr"/>
</g>
<g transform="translate(313.95 1029.30)">
<rect width="204.10" height="206.75" fill="#060419"/>
<g clip-path="url(#ce)"><g transform="scale(.1)" fill-rule="evenodd">
<path fill="#240c4f" d="M1521 1239l12 4 10-1 10-4 10-6 10-11 8-12 8-20 8-30 2-20-1-30-2-20-7-30-8-20-18-27-10-8-10-5-10-2-10 1-10 4-10 8-14 19-13 30-6 30-2 20 3 40 10 40 16 30 16 16z"/>
<path fill="#4d0d6c" d="M1521 1219l12 4 10-1 10-4 10-9 10-15 7-15 5-20 3-20-1-40-11-40-10-20-13-14-10-6-10-2-10 1-10 5-14 16-14 30-6 40 1 30 10 40 13 24 10 11z"/>
<path fill="#721a6e" d="M1531 1209l12-1 10-5 13-14 12-30 3-30-3-40-11-30-14-20-10-7-10-2-10 2-10 6-9 11-6 10-9 30-3 30 3 30 10 30 14 20 10 7z"/>
<path fill="#972766" d="M1515 1189l8 6 10 3 10-1 10-6 10-12 5-10 7-30 0-20-2-20-9-30-11-17-10-8-10-3-10 2-10 7-6 9-9 20-5 20-1 20 4 30 7 22z"/>
<path fill="#bc3754" d="M1532 1189l11-2 10-7 8-11 7-20 2-20-2-30-6-20-5-10-8-10-6-5-10-3-10 2-10 8-5 8-7 20-4 30 4 30 8 20 4 6 10 10z"/>
<path fill="#da4e3c" d="M1530 1179l3 1 10-2 10-9 9-20 3-20-2-30-7-20-13-16-10-3-10 2-10 11-3 6-6 20-2 20 2 20 6 20 13 17z"/>
<path fill="#f06f20" d="M1528 1169l5 2 10-2 9-10 5-10 4-20-1-20-7-23-10-14-10-4-10 4-6 7-5 10-5 20 0 20 5 20 11 17z"/>
<path fill="#fb9706" d="M1527 1159l6 3 10-3 10-17 3-13-1-20-2-10-10-17-10-4-10 4-4 7-7 20 0 20 2 10 9 17z"/>
<path fill="#fac62d" d="M1528 1149l5 3 10-5 7-18-1-20-3-10-3-5-10-6-10 6-5 15-1 10 4 20 2 5z"/>
<path fill="#f1f179" d="M1533 1139l10-10 1-10-3-10-8-8-6 8-3 10 2 10z"/>
</g>
<use href="#lem"/>
<ellipse cx="151.33" cy="103.38" rx="6.41" ry="12.63" fill="none" stroke="#27877f" stroke-width="2.30"/>
</g>
<use href="#etk"/><use href="#efr"/>
</g>
<g transform="translate(538.90 1029.30)">
<rect width="204.10" height="206.75" fill="#060419"/>
<g clip-path="url(#ce)"><g transform="scale(.1)" fill-rule="evenodd">
<path fill="#240c4f" d="M1616 1149l7 2 10-2 10-5 10-10 9-15 6-10 9-30 4-20 4-40-1-20-4-40-11-40-10-20-15-20-11-8-10-2-10 1-10 7-10 14-8 18-10 40-5 60 2 40 4 30 5 20 13 30 9 12z"/>
<path fill="#4d0d6c" d="M1606 1119l7 6 10 3 10-1 10-6 9-12 14-30 5-20 4-30 0-30-4-30-4-20-7-20-7-14-10-14-10-7-10-2-10 3-5 4-5 5-8 15-10 30-5 40-1 40 5 40 10 30z"/>
<path fill="#721a6e" d="M1614 1109l9 4 10-2 10-7 10-14 11-31 5-40-3-40-11-40-12-21-10-8-10-2-10 3-7 8-10 20-7 30-3 30 1 40 5 30 11 27z"/>
<path fill="#972766" d="M1620 1099l3 1 10-1 10-9 7-11 10-30 3-30-2-40-8-29-10-18-10-9-10-3-10 6-9 13-4 10-7 30-2 30 1 30 6 30 10 20 5 6z"/>
<path fill="#bc3754" d="M1623 1089l10-2 10-9 5-9 9-30 2-30-3-30-11-30-12-15-10-2-10 6-10 19-5 22-3 30 2 30 6 25 10 18z"/>
<path fill="#da4e3c" d="M1612 1069l11 9 10-1 10-12 3-6 7-30 1-30-6-30-5-12-10-12-10-2-10 8-4 8-7 20-2 20 2 40 5 20z"/>
<path fill="#f06f20" d="M1614 1059l9 9 10-2 11-17 6-30-2-30-5-18-10-15-10-2-10 10-2 5-7 30 1 30 4 20z"/>
<path fill="#fb9706" d="M1617 1049l6 7 10-1 8-16 4-20 0-20-6-20-6-12-10-2-10 14-4 20 1 30 3 14z"/>
<path fill="#fac62d" d="M1620 1039l3 4 10-2 6-22 0-20-3-10-3-8-10-3-6 11-4 20 3 20z"/>
<path fill="#f1f179" d="M1622 1019l1 4 8-4 2-5 0-7-10-9z"/>
</g>
<use href="#lem"/>
<ellipse cx="151.33" cy="103.38" rx="6.41" ry="12.63" fill="none" stroke="#27877f" stroke-width="2.30"/>
</g>
<use href="#etk"/><use href="#efr"/>
</g>
<g transform="translate(763.30 1029.30)">
<rect width="204.10" height="206.75" fill="#09061f"/>
<g clip-path="url(#ce)"><g transform="scale(.1)" fill-rule="evenodd">
<path fill="#320a5e" d="M1562 1248l11 0 10-3 10-6 11-10 7-10 10-20 5-20 0-10-2-10-7-10-24-16-10-14-3-10-5-30 2-50 0-20-7-30-7-14-10-11-10-4-10 0-10 4-15 15-12 20-7 20-10 50 0 50 9 50 10 30 11 20 14 19 10 9 10 7z"/>
<path fill="#62146e" d="M1537 1219l16 7 10 1 10-3 10-5 8-10 6-10 3-20-2-10-15-28-10-27-4-25-3-60-6-30-7-14-6-6-4-3-10-1-10 4-10 10-11 20-7 20-4 20-3 40 3 30 8 40 8 20 11 20 8 10z"/>
<path fill="#8f2469" d="M1548 1209l5 1 10 0 10-6 5-5 4-10 2-10-3-20-14-50-7-70-4-20-4-10-6-10-3-3-10-3-10 4-10 11-9 21-7 30-1 40 5 40 10 30 12 20 9 10z"/>
<path fill="#bc3754" d="M1535 1189l8 5 10 2 10-3 9-14 0-10-10-60-9-70-10-25-10-5-10 4-11 16-8 30-3 30 3 30 7 30 12 26z"/>
<path fill="#e05536" d="M1539 1179l4 3 10 0 4-3 6-10 1-10-16-110-5-17-10-8-10 4-10 17-5 24-1 30 4 30 6 20 6 13 10 13z"/>
<path fill="#f68013" d="M1531 1159l2 3 10 6 10-6 3-13-3-37-8-53-4-10-8-10-10 4-3 6-7 20-1 20 0 20 4 20 7 19z"/>
<path fill="#fbb61a" d="M1534 1149l9 2 5-12 1-10-6-51-10-22-10 5-4 18-1 20 5 32z"/>
<path fill="#f1ec6d" d="M1533 1129l6-10 1-10-7-31-6 11-2 10 1 10z"/>
</g>
<use href="#lem"/>
<ellipse cx="151.33" cy="103.38" rx="6.41" ry="12.63" fill="none" stroke="#27877f" stroke-width="2.30"/>
</g>
<use href="#etk"/><use href="#efr"/>
</g>
<g transform="translate(89.90 1256.90)">
<rect width="204.10" height="206.75" fill="#060419"/>
<g clip-path="url(#ce)"><g transform="scale(.1)" fill-rule="evenodd">
<path fill="#240c4f" d="M1032 1149l13 8 10 2 10-1 10-4 10-8 13-17 10-20 10-40 3-20 0-30-3-20-6-30-8-20-13-20-16-15-10-4-10-1-10 2-10 5-13 13-12 20-8 20-6 30-3 40 6 50 11 30 12 20z"/>
<path fill="#4d0d6c" d="M1034 1129l11 7 10 3 10-2 14-8 9-10 11-20 10-40 1-40-7-40-9-20-9-14-10-10-10-5-10-1-10 2-10 7-9 11-7 10-8 20-4 20-4 40 5 40 11 30z"/>
<path fill="#721a6e" d="M1040 1119l5 3 10 3 10-1 10-6 8-9 7-10 8-20 5-30-1-40-4-20-8-20-15-19-10-6-10-2-10 3-10 8-10 14-8 22-6 30 0 30 6 30 8 22 10 14z"/>
<path fill="#972766" d="M1043 1109l12 5 10-2 10-7 10-13 6-13 6-30 1-20-2-20-9-30-12-17-10-7-10-2-10 4-12 12-10 20-6 30 0 30 3 20 7 20 8 13z"/>
<path fill="#bc3754" d="M1043 1099l12 5 10-2 10-8 10-17 7-28 0-30-8-30-9-16-10-8-10-2-10 4-10 12-9 20-4 20 0 30 4 20 9 20z"/>
<path fill="#da4e3c" d="M1043 1089l12 6 10-2 5-4 5-6 7-14 5-20 0-30-5-20-7-15-5-5-5-4-10-3-10 5-9 12-5 10-4 20-1 20 3 20 6 19z"/>
<path fill="#f06f20" d="M1044 1079l11 7 10-3 10-11 7-23 0-30-5-20-12-15-10-2-11 7-9 14-3 16 0 30 3 15z"/>
<path fill="#fb9706" d="M1044 1069l11 8 10-4 10-14 2-10 2-20-4-20-10-15-10-3-11 8-4 10-5 18 2 22z"/>
<path fill="#fac62d" d="M1046 1059l9 7 10-4 6-13 2-10-2-20-4-10-2-4-10-4-10 9-4 19 2 20z"/>
<path fill="#f1f179" d="M1052 1049l3 4 6-4 4-5 1-5-1-15-10-9-7 14 0 10z"/>
</g>
<use href="#lem"/>
<ellipse cx="105.69" cy="103.38" rx="6.41" ry="12.63" fill="none" stroke="#27877f" stroke-width="2.30"/>
</g>
<use href="#etk"/><use href="#efr"/>
</g>
<g transform="translate(313.95 1256.90)">
<rect width="204.10" height="206.75" fill="#060419"/>
<g clip-path="url(#ce)"><g transform="scale(.1)" fill-rule="evenodd">
<path fill="#240c4f" d="M816 1408l20-12 30-29 30-36 44-63 62-99 163-288 40-64 40-57 49-62 49-49 25-20 29-20 41-20 34-10 21-2 30 0 30 6 20 6 36 20 25 20 29 30 20 27 19 32 30 63 20 55 10 34 30 124 10 14 6-19 4-30 1-40-2-50-4-40-8-50-20-80-13-40-17-40-30-60-35-50-21-24-20-20-40-29-20-11-30-12-30-7-20-2-29 1-20 3-20 4-30 11-40 21-20 13-50 41-49 51-47 60-40 60-46 80-43 80-48 100-105 230-90 189-13 30-5 20z"/>
<path fill="#4d0d6c" d="M895 1278l1 1 10-5 20-21 20-25 30-44 46-75 143-248 40-62 49-69 40-47 44-44 37-30 49-28 30-11 20-5 29-3 20 0 30 6 20 6 30 15 15 10 25 20 19 20 38 50 29 50 43 97 10 14 3-11 1-20-4-44-14-66-20-60-22-50-29-50-30-40-24-25-40-31-40-20-30-9-20-4-20-1-29 2-20 4-30 9-40 19-30 19-30 24-45 43-50 60-49 70-41 70-48 90-71 150-86 200-28 75-3 14z"/>
<path fill="#721a6e" d="M948 1179l8 0 10-10 30-40 39-63 130-218 40-61 40-56 39-48 42-44 38-31 44-29 21-10 27-10 27-5 20-2 40 3 20 5 25 9 18 10 27 19 34 31 33 40 42 64 10 10 3-4 1-10-4-27-10-36-18-47-20-40-19-30-22-29-19-21-21-19-20-15-40-21-40-12-20-2-29 0-40 8-20 6-30 14-40 25-50 42-42 44-53 70-39 60-50 90-59 120-57 130-38 100-8 30z"/>
<path fill="#972766" d="M993 1099l3 1 10-11 29-42 130-211 40-60 40-54 39-48 33-35 37-32 40-28 40-20 40-12 39-4 20 2 25 4 35 13 30 17 38 30 51 52 10 2 0-14-10-29-10-23-21-38-30-40-19-20-19-16-20-14-20-11-40-15-40-5-19 1-30 5-40 13-20 9-30 18-40 31-45 44-49 60-41 60-47 80-51 100-57 130-29 80-4 20z"/>
<path fill="#bc3754" d="M1026 1019l9 4 20-25 128-199 62-86 55-64 24-24 31-26 39-27 40-20 40-12 39-4 40 4 40 13 30 15 50 34 10 4 3-7-3-13-10-20-17-27-17-20-20-20-36-26-20-11-20-7-40-8-39 0-40 10-40 17-20 11-30 21-40 35-44 48-38 50-45 70-44 80-39 80-39 90z"/>
<path fill="#da4e3c" d="M1063 959l2 1 20-24 105-157 60-80 54-61 30-29 30-24 40-25 30-15 30-10 39-6 30 0 30 4 30 9 40 17 10 2 3-2 0-10-12-20-28-30-28-20-35-16-20-6-20-3-39 1-40 9-40 17-40 25-40 33-40 41-39 51-40 59-50 87-40 82-30 75-3 15z"/>
<path fill="#f06f20" d="M1094 889l1 7 10-7 10-12 97-138 48-60 46-50 48-43 50-33 20-10 30-12 29-7 30-3 40 1 40 6 10-1 2-8-7-10-22-20-33-17-30-8-30-3-39 4-30 9-30 13-40 26-33 26-37 38-35 42-35 50-31 50-38 70-30 67z"/>
<path fill="#fb9706" d="M1133 829l2 1 10-10 76-101 49-60 44-45 40-34 50-34 40-18 49-14 60-7 8-8-10-10-18-10-10-3-30-7-29 0-30 6-30 10-30 15-30 19-36 30-34 35-29 36-30 42-30 47-30 56-20 44-3 10z"/>
<path fill="#fac62d" d="M1172 759l3 3 10-10 52-63 53-60 34-32 30-25 30-21 30-18 40-18 48-16 8-10-17-7-19-3-21 0-29 7-30 11-20 10-40 28-40 36-49 58-22 30-28 47-20 39z"/>
<path fill="#f1f179" d="M1223 679l2 6 10-8 65-68 54-46 40-29 42-25 11-10-13-2-20 3-40 17-34 22-34 30-32 35-29 39z"/>
</g>
<use href="#lem"/>
<ellipse cx="105.69" cy="103.38" rx="6.41" ry="12.63" fill="none" stroke="#27877f" stroke-width="2.30"/>
</g>
<use href="#etk"/><use href="#efr"/>
</g>
<g transform="translate(538.90 1256.90)">
<rect width="204.10" height="206.75" fill="#09061f"/>
<g clip-path="url(#ce)"><g transform="scale(.1)" fill-rule="evenodd">
<path fill="#320a5e" d="M1418 1628l26 6 30 3 29-1 30-6 30-10 30-16 30-22 25-24 26-30 21-30 17-30 20-41 20-51 20-73 3-25-1-10-2-5-4 15-6 9-3 11-14 30-26 50-34 50-32 36-30 24-20 12-20 10-40 10-40 0-29-5-20-7-20-9-35-21-35-28-40-40-40-50-30-43-55-88-14-20-20-19-10-5-10 1-5 3-10 10-9 20-5 29 2 30 10 40 11 30 31 60 20 30 37 50 37 41 30 28 30 24 30 19 30 16z"/>
<path fill="#62146e" d="M1421 1608l23 4 20 2 29-2 20-4 27-10 19-10 24-20 6-10-6-7-70-4-39-10-40-17-40-26-20-16-30-28-40-46-40-54-53-82-26-36-10-10-10-7-10-2-10 4-10 16-5 25 1 20 6 30 10 30 13 30 17 30 26 40 23 30 28 33 30 29 30 25 30 20 30 17 30 11z"/>
<path fill="#8f2469" d="M1412 1588l32 3 24-3 14-10-4-10-54-36-30-22-50-46-30-34-30-39-89-131-20-21-10-6-10 1-10 12-4 22 1 20 6 30 21 50 23 40 21 30 23 30 28 31 30 27 20 16 30 19 20 11 20 8z"/>
<path fill="#bc3754" d="M1368 1558l16 5 20 1 10-6-3-10-67-71-40-48-30-41-79-116-20-19-10-3-10 7-4 11-1 20 3 20 6 20 22 50 25 40 39 49 39 39 40 30 20 12z"/>
<path fill="#e05536" d="M1334 1528l20 6 10-3 2-3-10-20-72-95-79-117-20-23-10-6-10 2-5 9-1 10 3 30 15 40 23 40 35 48 29 32 40 33z"/>
<path fill="#f68013" d="M1305 1498l9 4 10 1 3-5-2-10-11-20-109-162-20-20-10-2-4 4-3 10 2 20 9 30 21 40 25 36 29 34 30 26z"/>
<path fill="#fbb61a" d="M1282 1468l12 2 1-2-1-10-10-20-69-108-20-23-10-5-6 6-1 10 2 10 6 20 19 37 20 29 20 23 19 19z"/>
<path fill="#f1ec6d" d="M1251 1428l3 4 10-2-10-24-19-34-20-29-10-11-10-6-2 2-1 10 2 10 11 23 20 31 10 12z"/>
</g>
<use href="#lem"/>
<ellipse cx="105.69" cy="103.38" rx="6.41" ry="12.63" fill="none" stroke="#27877f" stroke-width="2.30"/>
</g>
<use href="#etk"/><use href="#efr"/>
</g>
<g transform="translate(763.30 1256.90)">
<rect width="204.10" height="206.75" fill="#000"/>
<g clip-path="url(#ce)"><g transform="scale(.1)" fill-rule="evenodd">
<path fill="#02010a" d="M1460 1638l23 4 30 1 20-2 30-7 30-12 20-11 30-22 20-18 21-23 23-30 31-50 28-60 12-30 18-60 20-89 11-90 3-90-5-90-11-80-10-50-11-40-11-33-20-48-10-20-20-32-20-22-7 5 7 30 24 70 18 70 12 70 8 90 1 60-3 59-10 77-10 48-20 68-20 49-29 55-30 41-30 30-30 22-40 19-40 9-39 0-30-5-20-6-20-8-30-16-40-30-24-23-26-28-39-54-30-50-33-67-13-20-4-6-10-6-20-4-9-14-2-10 1-24 7-16 8-30 1-30-5-60 4-40 5-25 34-85 12-50 3-30-1-20-4-20-4-6-10-3-10 4-20 14-40 43-35 48-21 40-2 10 8 26 0 13-6 11-4 2-8-12-1-10 2-20-3-10-12-10-30-20-107-86-10-7-6 3 0 10 6 20 60 156 10 36 2 28-1 30-8 50-5 50 2 24 7 16 3 3 10 4 20-1 10-4 10-9 9-23 7-10 4-3 9 3 5 20 1 30 2 10 9 20 43 60 73 109 64 80 62 66 30 26 30 24 30 19 30 16 30 12z"/>
<path fill="#040312" d="M1471 1618l42 3 40-6 40-15 30-18 30-25 30-33 26-36 28-50 22-50 17-50 18-70 11-59 7-75 1-65-1-40-10-72-4 12-3 20-10 120-9 60-11 50-11 39-18 50-22 50-16 30-25 38-20 24-30 28-30 21-30 15-30 10-30 4-39-2-40-9-40-17-40-25-30-26-40-45-29-42-30-51-43-82-7-11-10-9-20-11-10-14-4-15-1-20 13-70-1-80 2-40 1-13 10-36 15-41 11-40 4-40-4-20-6-8-10-1-10 5-30 26-24 28-13 20-11 20-6 20-1 30-4 20-11 9-10-9-10-33-9-14-40-28-20-11-20-6-6 2-4 4-2 6 1 20 21 80 7 50 0 30-6 90 2 20 7 15 10 8 10 0 10-4 16-19 12-10 11 3 10 24 6 33 8 20 12 20 44 58 63 91 37 46 30 33 39 41 30 28 30 24 30 22 50 28 30 11z"/>
<path fill="#07051b" d="M1492 1598l21 1 20-2 30-7 20-7 20-11 20-13 20-17 20-20 20-24 19-30 30-57 20-53 7-30 3-7 1-13-1-10-2 10-8 9-4 11-32 60-18 30-23 30-22 26-20 18-40 29-20 10-30 11-30 6-30 3-49-5-50-13-11-5-9-2-5 2 9 10 24 20 33 20 29 12zM1293 1478l8 0-5-10-27-40-34-56-60-117-19-26-21-17-10-13-7-20-3-30 13-80-1-70 3-40 5-36 18-64 7-40-2-20-3-7-10-4-10 4-20 15-30 36-9 16-7 20-5 30-5 20-4 7-10 6-10-7-17-36-12-13-20-13-20-8-10-1-10 6-3 9 0 20 13 78 1 22-2 90 2 30 2 10 6 10 11 6 10-2 16-14 14-6 9 4 10 16 13 46 10 20 47 60 60 86 30 36 30 31 39 36z"/>
<path fill="#0e092b" d="M1184 1348l11 4 1-4-1-13-10-29-20-42-10-13-20-19-10-12-10-26-3-15 1-40 9-50 2-20 1-116 16-84 4-30-1-10-5-10-4-3-10 2-10 6-23 25-16 30-13 50-8 13-10 4-12-7-17-30-10-11-10-7-20-8-10 1-7 5-3 7-2 13 7 90 0 90 5 25 10 13 10 2 20-10 10-2 9 4 10 14 15 44 15 27 20 23 29 29 41 59 20 23z"/>
<path fill="#1b0c41" d="M1082 1209l13 7 9-7 3-60 12-80 1-110 9-90-4-18-10-3-10 6-10 10-9 15-18 50-13 19-10 4-10-4-29-37-10-7-10-3-10 1-7 7-4 10-1 10 3 140 5 30 4 8 10 7 30-3 9 4 12 14 18 44 9 16 11 14z"/>
<path fill="#2d0b59" d="M1081 1189l4 2 10-8 15-84 4-30 2-170-2-10-9-9-10 7-10 16-16 36-14 15-10 3-10-3-29-30-10-5-10-1-10 9-5 22 0 100 2 20 5 20 8 10 10 4 20 1 10 5 10 10 29 56 10 11z"/>
<path fill="#450a69" d="M1074 1169l11 1 7-11 10-40 8-50 1-50-3-80-3-18-10-8-10 10-17 26-13 11-10 3-10-2-29-24-10-4-12 6-4 10-3 20-1 70 2 20 6 20 12 12 20 6 9 5 8 7 12 17 20 34z"/>
<path fill="#61136e" d="M1068 1149l7 5 10-4 10-26 8-35 4-40 0-30-3-50-4-20-5-10-10 1-20 20-10 7-10 2-10-2-29-18-10-1-10 13-5 28 0 50 7 30 8 11 29 15 10 9 30 43z"/>
<path fill="#7f1e6c" d="M1074 1139l1 0 10-7 2-3 9-30 5-30 2-30-1-30-3-30-4-15-10-8-30 17-10 2-10-2-29-12-10 4-7 14-3 30 1 30 5 20 5 10 9 7 19 12 10 9 30 37z"/>
<path fill="#a02a63" d="M1061 1119l4 4 10 3 10-11 8-26 5-30 1-30-3-30-5-20-6-9-10 1-18 8-12 2-10-1-19-6-10 0-10 12-3 13-1 30 4 20 10 17 29 24z"/>
<path fill="#c03a51" d="M1061 1109l4 4 10 1 10-15 6-20 3-20 0-30-1-20-6-20-2-5-10-4-30 7-29-4-10 4-6 12-3 20 2 20 3 10 6 10z"/>
<path fill="#de5238" d="M1059 1099l6 4 10-1 10-20 4-23 1-20-1-20-4-18-10-11-30 3-29 1-6 5-4 8-2 12 2 18 4 12 7 10z"/>
<path fill="#f2741c" d="M1056 1089l9 5 10-4 5-11 5-20 1-20-2-20-3-10-6-9-10-3-40 5-10 7-4 10 2 20 5 10 8 10z"/>
<path fill="#fb9d07" d="M1054 1079l11 5 8-5 5-10 2-10 2-20-3-20-4-8-10-6-31 4-9 4-4 6-2 10 2 10 5 10 17 20z"/>
<path fill="#f9cb35" d="M1052 1069l3 2 10 3 5-5 5-10 2-20-1-10-5-10-6-5-10-1-20 5-6 11 1 10 4 10z"/>
<path fill="#f2f27d" d="M1053 1059l2 2 10 0 5-12 0-10-3-10-2-3-10-4-10 4-3 3-2 10 4 10z"/>
</g>
<use href="#lem2"/>
<ellipse cx="105.69" cy="103.38" rx="6.41" ry="12.63" fill="none" stroke="#27877f" stroke-width="2.30"/>
</g>
<use href="#etk"/><use href="#efr"/>
</g>
<g transform="translate(89.90 1484.60)">
<rect width="204.10" height="206.75" fill="#060419"/>
<g clip-path="url(#ce)"><g transform="scale(.1)" fill-rule="evenodd">
<path fill="#240c4f" d="M998 1079l8 5 10 3 9 0 10-3 10-7 8-8 8-10 10-20 9-30 3-20 1-30-2-30-10-40-9-20-8-11-10-11-10-7-10-3-9 0-10 3-10 7-11 12-16 30-10 40-2 50 7 40 6 20 10 20z"/>
<path fill="#4d0d6c" d="M1000 1059l6 4 10 4 9 0 10-4 10-8 10-14 7-12 7-20 3-20 2-20-1-30-3-20-7-20-8-17-10-13-10-8-10-4-9 0-10 4-10 8-8 10-6 10-8 20-6 30 0 40 4 30 12 30 7 10z"/>
<path fill="#721a6e" d="M1006 1049l10 4 9 0 10-5 10-9 7-10 9-20 5-30 1-30-3-20-6-20-13-24-10-10-10-4-9 0-10 4-13 14-7 13-7 17-5 30 1 30 5 30 9 20 7 10z"/>
<path fill="#972766" d="M1010 1039l6 3 9 0 10-5 8-8 11-20 7-30 0-30-6-30-10-21-10-11-10-5-9 0-10 5-10 11-10 21-6 30 0 30 7 30 9 16 10 12z"/>
<path fill="#bc3754" d="M1010 1029l6 3 9 0 10-6 12-17 8-30 1-30-7-30-13-20-11-7-9 0-10 6-9 11-8 20-4 20 0 20 5 30 10 20z"/>
<path fill="#da4e3c" d="M1010 1019l6 4 9 0 10-7 10-17 5-20 1-30-4-20-12-21-10-7-9 0-11 8-9 16-6 24 0 20 3 20 8 20z"/>
<path fill="#f06f20" d="M1009 1009l7 4 9 0 7-4 7-10 7-20 1-20-3-20-9-20-10-8-9 0-10 8-6 10-5 20 1 31 6 19z"/>
<path fill="#fb9706" d="M1010 999l6 5 9 0 10-11 5-14 2-20-3-20-4-8-10-11-9 0-9 9-7 20-1 20 2 10 5 14z"/>
<path fill="#fac62d" d="M1012 989l4 4 9 0 10-17 2-17-1-10-4-10-7-8-9 0-7 8-4 10-1 20 2 10z"/>
<path fill="#f1f179" d="M1015 979l10 0 4-10 0-10-4-14-9 0-2 4-2 10 0 10z"/>
</g>
<use href="#lem"/>
<ellipse cx="102.05" cy="96.20" rx="6.41" ry="12.63" fill="none" stroke="#27877f" stroke-width="2.30"/>
</g>
<use href="#etk"/><use href="#efr"/>
</g>
<g transform="translate(313.95 1484.60)">
<rect width="204.10" height="206.75" fill="#060419"/>
<g clip-path="url(#ce)"><g transform="scale(.1)" fill-rule="evenodd">
<path fill="#240c4f" d="M804 1398l2 5 10 0 10-5 20-17 40-45 42-58 33-49 42-70 152-271 50-80 49-70 50-59 42-40 25-20 30-20 43-20 39-9 20-2 30 2 30 8 26 11 31 20 23 20 20 22 20 26 19 31 30 61 20 54 11 36 13 50 16 83 10 38 10-6 5-35 2-30-1-80-12-90-19-80-28-80-13-30-21-40-34-50-25-30-23-21-30-23-20-12-20-10-30-10-30-5-20-1-49 6-40 14-20 9-30 17-50 39-57 57-47 60-41 60-30 50-49 90-59 120-115 251-81 168-16 40z"/>
<path fill="#4d0d6c" d="M890 1268l6 8 10-7 30-35 30-43 56-92 133-231 50-78 49-69 50-57 40-38 20-17 30-20 39-20 31-9 19-4 30-2 20 2 20 4 27 9 23 12 26 18 22 20 19 20 36 50 32 60 44 105 10 10 2-15 0-30-7-50-11-50-19-60-20-50-27-50-28-40-29-33-40-34-30-18-20-8-40-11-20-2-29 0-20 3-30 8-30 12-20 10-30 19-20 16-50 45-46 53-50 70-37 60-49 90-64 130-75 170-50 120-10 29z"/>
<path fill="#721a6e" d="M945 1179l1 1 10-7 10-11 30-41 39-64 130-219 40-60 40-55 39-49 44-45 36-30 48-30 22-10 30-9 29-5 20-1 40 5 30 10 20 10 40 29 32 31 31 40 46 73 10 8 1-21-8-40-13-39-10-25-17-36-17-30-20-30-26-30-39-34-40-24-20-8-30-7-40-3-19 2-30 6-40 16-30 16-20 13-50 42-48 51-46 60-39 60-51 90-59 120-66 150-19 50-20 57-2 13z"/>
<path fill="#972766" d="M986 1089l0 4 10 0 20-24 39-62 120-195 40-59 39-53 40-46 30-29 30-26 43-30 42-20 44-11 40-2 40 7 40 16 32 20 35 30 52 55 5-5 0-10-5-17-10-26-25-47-29-40-35-35-20-16-20-12-20-9-30-10-40-5-39 3-30 8-20 8-30 14-20 13-40 30-42 41-42 50-49 70-42 70-48 90-46 100-39 96-10 27z"/>
<path fill="#bc3754" d="M1024 1019l1 5 10-8 20-26 115-181 65-92 29-37 30-34 30-29 30-26 48-32 42-19 39-10 40-2 40 6 30 11 40 21 50 35 5-2 0-10-3-10-12-23-18-27-17-20-21-20-34-23-40-18-40-8-20 0-29 3-40 11-40 19-40 27-40 34-41 45-46 60-45 70-49 90-38 80-40 95-10 31z"/>
<path fill="#da4e3c" d="M1060 949l5 3 20-24 106-159 59-80 54-60 30-28 30-24 30-20 40-20 40-12 29-4 30 0 30 4 30 9 40 17 10 2 5-4-3-10-13-20-30-30-30-20-21-10-18-5-20-5-20-2-39 3-40 11-40 19-40 27-40 35-40 43-39 52-35 52-46 80-39 80-30 73z"/>
<path fill="#f06f20" d="M1095 889l10-9 10-12 83-119 62-80 54-57 50-42 30-19 30-16 20-8 30-9 19-4 30-2 30 1 40 7 7-1 3-10-19-20-33-20-29-10-39-4-39 4-30 9-40 19-30 19-40 33-38 40-32 40-39 56-40 68-30 58-20 45-10 28z"/>
<path fill="#fb9706" d="M1133 819l2 1 10-10 76-101 50-60 43-44 40-34 40-28 40-20 20-8 29-8 62-8 8-6 2-4-12-10-30-11-30-4-29 1-30 7-30 12-30 16-30 21-30 26-30 31-29 36-30 41-30 47-30 55-20 43-2 9z"/>
<path fill="#fac62d" d="M1174 749l1 1 10-9 10-11 33-41 53-60 33-32 30-26 40-29 30-18 40-19 43-16-2-10-31-4-20 1-20 5-25 8-20 10-32 20-23 18-24 22-26 27-39 51-40 62-20 40z"/>
<path fill="#f1f179" d="M1240 649l5 5 79-77 40-33 52-35 10-10-12-1-9 1-21 9-22 11-28 20-30 27-30 32-29 40z"/>
</g>
<use href="#lem"/>
<ellipse cx="102.05" cy="96.20" rx="6.41" ry="12.63" fill="none" stroke="#27877f" stroke-width="2.30"/>
</g>
<use href="#etk"/><use href="#efr"/>
</g>
<g transform="translate(538.90 1484.60)">
<rect width="204.10" height="206.75" fill="#09061f"/>
<g clip-path="url(#ce)"><g transform="scale(.1)" fill-rule="evenodd">
<path fill="#320a5e" d="M1447 1638l27 2 29-1 30-6 20-7 30-14 20-13 26-21 24-24 22-26 20-30 18-30 19-40 20-52 10-33 10-44 0-24-3 13-7 6-14 34-32 60-28 40-36 40-29 24-20 12-20 9-20 7-20 4-40 1-29-5-33-12-37-20-28-20-32-27-40-42-40-49-67-92-22-25-20-17-10-5-10-1-10 2-10 6-13 21-6 19 0 20 4 30 11 30 16 30 32 50 31 40 34 40 30 32 30 27 30 24 40 25 30 14 30 11z"/>
<path fill="#62146e" d="M1407 1608l27 6 30 2 19-1 30-6 29-11 17-10 12-10 9-10-2-10-65-5-30-7-39-15-40-23-40-30-50-50-50-60-66-90-23-25-20-15-10-3-10 0-10 6-10 17-4 20 2 20 5 20 12 30 10 20 19 30 29 40 57 65 29 28 30 24 50 32 30 13z"/>
<path fill="#8f2469" d="M1399 1588l35 5 30-4 9-11-7-10-72-50-30-25-30-30-40-45-89-118-30-33-20-13-10-2-10 4-9 12-3 20 2 20 6 20 8 20 17 30 42 60 47 52 49 44 50 33 30 13z"/>
<path fill="#bc3754" d="M1358 1558l16 5 20 2 11-7-4-10-97-106-94-124-25-30-20-16-10-4-10 1-8 9-3 10 0 20 5 20 19 40 33 50 44 51 39 38 40 29 20 12z"/>
<path fill="#e05536" d="M1324 1528l20 6 10-2 2-4-4-10-13-20-144-189-20-19-10-6-10-1-8 5-4 10 0 10 7 30 15 30 26 40 34 41 29 30 40 32z"/>
<path fill="#f68013" d="M1296 1498l8 4 10 0 3-4-2-10-12-20-68-98-30-39-20-22-10-7-12-4-8 6-1 4 1 20 11 30 18 30 21 28 30 34 29 27z"/>
<path fill="#fbb61a" d="M1272 1468l2 2 10-1-1-11-17-30-31-47-40-51-10-9-10-5-8 2-3 10 6 20 15 30 10 15 20 26 20 21 19 17z"/>
<path fill="#f1ec6d" d="M1238 1428l7 4 6-4-3-10-11-20-12-19-20-25-10-10-10-6-2 0-2 10 3 10 10 20 21 28z"/>
</g>
<use href="#lem"/>
<ellipse cx="102.05" cy="96.20" rx="6.41" ry="12.63" fill="none" stroke="#27877f" stroke-width="2.30"/>
</g>
<use href="#etk"/><use href="#efr"/>
</g>
<g transform="translate(763.30 1484.60)">
<rect width="204.10" height="206.75" fill="#000"/>
<g clip-path="url(#ce)"><g transform="scale(.1)" fill-rule="evenodd">
<path fill="#02010a" d="M484 1658l24 6 30 3 29-1 30-5 30-9 40-20 30-19 20-16 30-26 31-33 174-200 21-30 11-20 6-20 6-32 10-14 10 2 3 5 16 29 10 9 20 10 20 1 10-3 10-7 19-20 6-9 2-10-3-20-7-20-15-30-12-19-10-7-10-3-7-11-3-6 0-19 10-17 13-8 6-10 8-20 10-40 13-110 10-25 10-15 30-32 23-28 34-50 49-80 27-50 9-20 6-20 0-10-5-10-4-2-10-2-20 6-20 11-29 22-40 38-44 47-33 40-42 60-11 12-10 9-18 9-21 2-13-2-17-10-10-11-27-39-23-26-20-16-46-28-25-20-78-84-90-83-40-31-40-21-29-9-40-4-30 3-30 8-30 14-30 20-30 27-35 40-20 30-18 30-32 70-18 50-12 40-18 80-12 90-5 90 2 90 5 70 9 60 8 39 21 80 29 80 29 60 25 40 14 20 25 30 23 24 40 30 20 12zM498 1499l-29-11-21-11-25-19-25-24-20-24-20-29-19-37-20-47-20-64-10-45-10-70-4-79 4-86 10-71 10-45 10-35 10-30 20-47 19-37 20-31 20-24 23-24 25-20 22-13 20-9 30-9 30-4 29 1 30 4 20 6 30 13 21 11 27 20 21 20 21 23 20 26 20 30 29 55 70 146 20 52 10 32 10 46 1 20-3 20-18 45-30 62-30 55-30 49-39 59-50 60-30 28-26 21-32 20-22 11-26 9-33 6-30 0zM956 1082l-5-3-5-10 2-10 8-6 4 16zM1385 1598l19 2 10-1 10-3 10-8 5-10-1-10-11-20-17-20-86-85-99-105-20-17-10-4-10 2-4 9-2 20 1 20 3 20 6 20 9 20 31 50 35 44 40 36 20 15 20 11 20 9zM1800 1139l2 9 10-87 0-62-10-100-5-10-5-33-2 23 8 100z"/>
<path fill="#040312" d="M517 1648l21 2 29-1 30-5 30-10 30-14 30-18 40-32 52-52 160-180 22-30 12-20 9-20 11-39 3-5 10-10 10 1 5 4 24 27 10 6 10 3 10 0 10-3 15-13 7-20-1-20-12-30-29-40-3-20 3-28 23-32 11-30 9-50 7-65 10-39 10-21 10-14 35-41 22-30 25-40 22-40 18-40 6-20-1-10-8-7-10 1-19 10-40 32-50 53-70 88-20 18-10 6-10 3-10 1-19-3-20-11-11-11-39-50-20-18-20-14-90-46-10 5 6 23 19 50 75 176 20 57 20 66 10 8 10 0 1 3 6 10 2 10-3 10-6 10-20-4-14 24-56 114-40 70-49 75-50 59-47 41-29 20-18 10-26 11-30 8-19 3-30 0-30-5-30-11-30-17-30-24-30-33-20-28-19-34-20-43-20-56-10-37-10-47-10-76-2-50 0-50 2-44 6-56 14-70 10-38 10-30 20-50 19-39 20-31 20-27 20-21 40-34 30-17 30-11 20-5 30-4 29-1 60 4 10-2 3-4-2-10-14-20-21-20-26-18-20-10-19-7-30-6-20 0-40 7-30 12-20 11-20 14-20 18-20 20-23 29-20 30-22 40-30 70-19 60-20 90-12 90-5 100 5 100 11 90 19 89 22 70 30 70 21 40 19 30 40 50 24 23 20 16 20 13 30 15 20 7zM1035 930l-10-2-1-9 1-12 10-1 3 13zM1337 1548l17 4 10-1 4-3 2-10-3-10-13-20-43-50-57-59-19-16-10-5-10 1-3 9 3 22 12 28 19 30 24 30 24 23 20 15z"/>
<path fill="#07051b" d="M490 1628l18 5 30 3 29-1 20-3 40-12 20-9 30-17 40-30 40-37 173-189 23-30 18-30 15-42 10-20 10-8 10 0 9 6 20 16 10 5 10 2 10-3 8-5 5-10 2-20-5-20-20-38-3-12-3-20 4-30 2-7 16-23 11-30 9-40 14-100 10-32 10-20 10-15 30-37 18-26 23-40 9-20 7-20 0-10-7-8-10 3-10 6-20 16-30 30-61 73-19 20-20 16-20 9-10 1-19-5-20-13-10-9-40-48-30-25-20-11-30-9-10-1-10 3-2 2-2 10 3 20 15 50 56 139 30 92 4 9 6 6 10 5 10 16 0 24-10 14-20 7-6 8-64 127-40 71-49 76-20 25-30 34-29 26-21 17-20 13-30 16-20 8-30 8-29 4-20-1-30-4-30-11-20-10-30-21-30-29-20-24-20-29-20-37-19-44-13-36-12-40-11-49-8-50-4-50-3-50 1-50 8-90 9-50 12-50 16-50 15-37 20-41 18-32 21-30 20-23 20-20 20-16 20-14 30-16 86-31 4-10-6-10-14-10-29-10-31-2-30 5-20 7-20 10-30 20-30 28-26 32-20 30-18 30-27 60-24 70-19 80-12 80-6 90 1 90 9 90 16 89 22 80 22 60 19 40 16 30 37 54 40 43 40 30 30 15zM1025 932l-2-13 2-18 10-2 4 10 1 10-2 10-3 5z"/>
<path fill="#0e092b" d="M516 1618l42 2 20-2 29-7 40-16 43-27 27-21 30-28 179-187 26-34 12-20 22-53 10-16 10-7 10-1 29 15 10 2 10-3 6-6 3-10 0-10-18-70 0-20 2-10 7-26 14-24 10-30 10-50 6-60 8-40 6-20 16-37 30-44 11-19 3-10-4-10-10 7-75 73-35 28-20 9-10 0-9-3-30-18-17-16-33-38-20-18-10-6-10-5-20-6-10-1-10 4-4 10-1 10 8 40 47 127 31 93 9 16 10 9 10 14 2 21-2 18-10 14-20 13-10 15-70 139-30 54-30 49-39 55-40 42-30 26-30 20-30 16-30 11-30 6-29 2-30-3-20-5-30-11-20-11-28-21-21-20-34-40-19-30-22-40-21-50-10-30-18-69-12-70-6-100 5-100 11-80 19-80 21-60 23-50 16-30 20-30 23-30 23-26 30-27 34-27 8-10-2-3-10-4-10 0-20 6-20 10-29 21-21 21-20 24-19 29-20 35-20 43-20 55-10 34-10 41-10 54-11 104-1 60 2 60 10 101 10 55 10 44 10 35 20 57 30 66 20 35 19 29 23 27 27 27 20 16 30 18 30 12zM1035 939l-10-2-4-18 0-10 4-16 10-3 5 9 3 10 0 10-2 10z"/>
<path fill="#1b0c41" d="M761 1458l6 6 20-15 79-69 50-49 34-43 12-20 21-49 13-18 10-6 10-1 29 4 10-7 4-12-6-60 1-30 1-8 10-28 15-34 8-30 17-140 1-20-1-6-5-4-5-1-10 4-26 17-23 20-1 2 0-2-10-4-5-6-39-30-55-56-10-7-20-10-10-1-10 2-8 12 0 20 4 20 8 30 59 170 10 20 17 22 4 18 0 20-4 17-10 13-20 18-13 22-87 175-34 64zM1025 942l-5-13-2-20 7-31 10-8 10 22 3 27-2 10-5 10-6 5z"/>
<path fill="#2d0b59" d="M840 1368l6 3 20-10 30-24 30-30 27-39 30-59 13-16 10-6 29-3 10-9 4-16 0-50 4-30 2-12 15-38 9-30 7-50 6-80-2-10-5-11-10 0-14 11-6 10-2 10 0 40-6 20-12 11-10-3-9-21-2-17 3-30-1-10-3-10-8-10-34-30-35-36-20-14-10-4-10-1-10 5-4 10-1 10 3 20 16 60 40 120 9 20 17 24 2 6 5 20 0 20-7 26-35 44-40 80-47 109-6 20z"/>
<path fill="#450a69" d="M875 1328l11-2 10-6 30-28 20-26 29-57 11-15 10-9 10-6 19-5 10-6 6-9 2-10 2-46 4-24 6-25 15-45 7-50 1-40-3-30-10 10-6 30-11 20-13 7-10-4-9-13-3-10-3-50-2-10-5-10-9-10-58-54-20-11-10-1-9 6-3 10 1 20 6 30 40 130 9 20 16 26 5 14 5 16 0 24-4 20-6 16-32 44-21 40-22 49-15 40-5 20-1 10z"/>
<path fill="#61136e" d="M895 1288l1 3 10 0 20-16 20-26 27-50 13-16 10-7 29-13 5-4 5-10 3-10 7-61 17-59 5-40-2-21-10-3-10 5-10 2-10-4-9-13-7-26-5-40-4-10-6-10-48-45-20-12-10-1-9 8-2 10 1 20 4 20 10 40 22 70 8 20 16 28 10 24 2 18 1 20-3 23-10 25-30 45-30 64-10 32z"/>
<path fill="#7f1e6c" d="M925 1248l1 1 10-9 10-14 14-27 16-20 14-10 26-11 11-9 7-20 10-60 10-40 5-30 0-10-4-13-10-5-10-2-10-5-9-12-9-23-6-40-8-20-17-20-20-17-20-13-10-2-10 11-1 11 5 40 23 80 8 20 25 52 5 28 1 20-4 30-10 30-32 56-10 24-5 20z"/>
<path fill="#a02a63" d="M978 1149l8 7 20-4 10-5 9-12 6-16 18-90 2-30-2-10-4-5-20-14-10-11-9-23-11-47-9-20-10-11-20-17-10-5-10-3-9 6-3 10 1 20 6 30 10 40 11 30 24 52 8 38 1 30z"/>
<path fill="#c03a51" d="M990 1139l6 4 10-1 10-6 9-16 19-91 2-20-2-10-5-10-14-12-14-18-8-20-9-40-9-20-9-13-10-9-10-6-10-4-10 3-3 9 1 30 15 60 27 63 8 27 5 40-2 50z"/>
<path fill="#de5238" d="M1002 1129l4 1 10-6 9-22 14-63 1-30-5-13-19-23-10-18-22-66-8-13-10-9-10-6-10 1-5 7-1 10 3 30 10 40 25 60 7 20 6 30 3 60 2 5z"/>
<path fill="#f2741c" d="M1001 1109l5 6 10-5 9-26 10-45 1-20-2-10-4-10-15-20-12-20-17-55-8-15-12-12-10-3-7 5-3 10 4 30 8 30 21 50 9 30 10 70z"/>
<path fill="#fb9d07" d="M1003 1089l3 9 10-3 11-36 3-20 1-20-2-10-5-10-15-20-11-20-12-41-9-19-11-11-5 1-5 2-2 8 2 24 10 34 13 32 10 30z"/>
<path fill="#f9cb35" d="M1004 1069l2 8 10 1 9-33 1-26-9-20-15-20-10-20-6-23-10-24-10-7-3 14 3 20 22 60z"/>
<path fill="#f2f27d" d="M1014 1059l2 0 4-20-1-20-3-11-10-13-10-9 0 20 10 48z"/>
</g>
<use href="#lem2"/>
<ellipse cx="102.05" cy="96.20" rx="6.41" ry="12.63" fill="none" stroke="#27877f" stroke-width="2.30"/>
</g>
<use href="#etk"/><use href="#efr"/>
</g>
<g transform="translate(1102.00 1029.30)">
<rect width="204.10" height="206.75" fill="#060419"/>
<g clip-path="url(#ce)"><g transform="scale(.1)" fill-rule="evenodd">
<path fill="#240c4f" d="M996 1149l10 6 10 3 9 0 10-3 10-6 10-11 12-19 11-30 4-20 2-30-1-30-3-20-8-30-10-20-7-10-10-10-10-7-10-3-9 0-10 3-10 7-10 10-17 30-10 40-2 50 6 40 6 20 10 20z"/>
<path fill="#4d0d6c" d="M998 1129l8 6 10 3 9 0 10-3 10-8 10-14 8-14 6-20 4-20 1-20-1-30-4-20-6-20-8-15-10-13-10-8-10-4-9 0-10 4-10 8-7 8-11 20-6 20-4 20-1 40 5 30 11 30z"/>
<path fill="#721a6e" d="M1004 1119l12 6 9 0 10-5 10-9 8-12 8-20 5-30 0-30-3-20-5-20-13-22-10-10-10-4-9 0-10 4-12 12-8 15-6 15-5 30 0 30 5 30 8 20 8 12z"/>
<path fill="#972766" d="M1006 1109l10 5 9 0 10-6 9-9 10-20 7-30 0-30-7-30-10-20-9-10-10-5-9 0-10 5-10 11-9 19-7 30 0 30 4 20 7 20 6 10z"/>
<path fill="#bc3754" d="M1007 1099l9 5 9 0 10-6 13-19 7-30 1-20-4-30-9-20-8-9-10-6-9 0-10 6-8 9-9 20-3 20-1 20 4 30 7 15z"/>
<path fill="#da4e3c" d="M1007 1089l9 5 9 0 10-6 10-18 6-21 0-30-5-20-11-19-10-7-9 0-10 7-10 17-6 22-1 20 3 20 8 20z"/>
<path fill="#f06f20" d="M1007 1079l9 6 9 0 10-8 9-18 2-10 1-20-3-20-9-19-10-8-9 0-10 8-9 19-2 10-1 20 2 13 5 17z"/>
<path fill="#fb9706" d="M1008 1069l8 7 9 0 10-11 6-16 1-20-4-20-3-7-10-10-9 0-8 7-5 10-3 10-1 10 1 20 3 10z"/>
<path fill="#fac62d" d="M1011 1059l5 6 9 0 10-16 2-10-2-20-10-16-9 0-10 16-2 20 2 10z"/>
<path fill="#f1f179" d="M1015 1049l1 2 9 0 1-2 3-10 0-10-4-12-9 0-1 2-3 10 0 10z"/>
</g>
<use href="#lem"/>
<ellipse cx="102.05" cy="103.38" rx="6.41" ry="12.63" fill="none" stroke="#27877f" stroke-width="2.30"/>
</g>
<use href="#etk"/><use href="#efr"/>
</g>
<g transform="translate(1326.55 1029.30)">
<rect width="204.10" height="206.75" fill="#060419"/>
<g clip-path="url(#ce)"><g transform="scale(.1)" fill-rule="evenodd">
<path fill="#240c4f" d="M549 1628l28 2 40-4 30-9 30-13 30-18 30-21 40-36 29-32 26-29 37-50 34-50 37-60 60-109 115-226 50-94 60-101 49-71 40-49 38-39 35-30 37-24 30-16 39-13 30-6 60-5 10-3 3-3 1-10-4-10-17-20-12-10-21-13-20-9-20-5-39-5-20 2-30 5-30 11-20 9-40 24-40 32-49 50-26 29-30 40-60 90-29 50-49 90-115 226-50 93-60 101-39 59-30 38-30 35-40 38-37 29-33 20-30 14-29 9-30 6-60 5-13 6-1 10 4 10 17 20 12 10 15 10 21 10z"/>
<path fill="#4d0d6c" d="M570 1598l27 4 30-3 30-8 40-19 30-20 40-33 29-30 36-41 58-80 61-100 60-109 144-281 50-87 40-62 49-67 50-56 30-28 30-23 85-56 5-10-4-10-19-10-17-3-20 0-30 5-40 14-40 23-40 31-39 39-36 41-58 80-61 100-60 110-134 262-40 72-40 66-59 84-30 36-30 32-30 28-30 24-85 55-5 10 4 10z"/>
<path fill="#721a6e" d="M621 1568l16 4 30-4 30-13 30-18 30-23 30-28 29-33 37-45 48-70 60-99 58-110 116-228 40-73 40-67 39-61 50-65 40-45 71-71 6-10-1-10-16-4-30 5-30 13-30 18-30 23-30 28-29 32-37 45-48 70-60 100-58 110-116 227-40 73-40 67-39 61-50 66-40 45-71 70-6 10z"/>
<path fill="#972766" d="M677 1528l0 3 10 7 10-3 30-14 30-21 30-27 29-32 30-36 34-47 39-60 52-89 154-300 70-127 40-64 29-44 95-125 5-10 0-2-10-7-20 6-20 10-20 14-30 25-49 53-54 71-39 60-52 90-154 300-70 126-40 65-29 44-30 41-59 73z"/>
<path fill="#bc3754" d="M726 1488l1 7 10 0 10-4 20-14 29-26 50-57 54-76 37-60 45-79 143-280 50-93 60-100 70-107 10-20-1-6-10-1-20 11-20 15-19 19-50 56-54 76-37 60-45 80-143 280-50 92-50 85-80 122z"/>
<path fill="#da4e3c" d="M770 1448l7 2 19-14 40-41 40-51 50-76 72-129 164-320 103-180 6-20-7-2-19 14-40 41-40 52-50 76-72 129-164 319-103 180z"/>
<path fill="#f06f20" d="M813 1398l3 1 20-17 30-36 40-56 50-83 60-111 125-247 74-140 14-30-1-10-3-1-20 18-30 35-40 57-50 82-60 111-125 248-74 139-14 30z"/>
<path fill="#fb9706" d="M852 1338l4 3 10-10 40-52 30-47 40-70 59-114 140-279 12-30 2-10-4-2-20 21-30 41-30 47-40 69-59 115-140 278-10 22z"/>
<path fill="#fac62d" d="M894 1268l2 5 10-11 20-27 40-66 30-54 59-117 70-144 20-45 2-10-2-4-20 23-20 30-60 105-49 97-70 142-30 66z"/>
<path fill="#f1f179" d="M952 1169l4 0 4-10 6-6 10-16 49-93 60-124 4-21-4-1-4 11-6 5-10 17-49 93-60 124z"/>
</g>
<use href="#lem"/>
<ellipse cx="102.05" cy="103.38" rx="6.41" ry="12.63" fill="none" stroke="#27877f" stroke-width="2.30"/>
</g>
<use href="#etk"/><use href="#efr"/>
</g>
<g transform="translate(1551.10 1029.30)">
<rect width="204.10" height="206.75" fill="#060419"/>
<g clip-path="url(#ce)"><g transform="scale(.1)" fill-rule="evenodd">
<path fill="#240c4f" d="M1435 1658l29 6 39 2 30-3 30-8 30-13 30-18 41-36 35-40 21-30 18-30 21-40 17-40 21-60 21-80 9-49 8-60 5-90-2-110-12-100-9-50-18-70-13-40-20-50-19-40-17-30-20-30-27-35-40-39-30-21-20-11-20-8-30-9-40-5-29 2-20 4-30 8-20 8-40 22-50 37-40 38-43 49-51 70-39 60-41 70-37 70-107 209-60 112-60 100-49 71-30 37-38 40-32 28-30 21-39 21-29 10-31 6-20 0-40-5-30-11-33-20-37-33-30-38-29-52-20-46-20-63-10-43-12-84-4-80 4-80 12-84 10-42 20-62 20-46 19-36 20-29 20-23 30-28 33-20 24-10 23-5 30-2 39 5 36 12 36 20 28 20 30 26 30 29 89 101 20 18 10 6 10 5 10 1 13-6 7-10 4-10 3-20-1-20-10-40-11-30-20-40-39-60-40-50-35-36-50-40-30-19-40-18-40-11-29-4-40 2-40 10-30 13-30 18-30 24-21 21-25 30-39 60-21 40-17 40-11 30-19 60-12 50-9 50-11 90-2 100 5 100 7 60 9 49 12 50 11 40 30 80 19 40 17 30 20 30 27 35 20 21 30 26 30 19 30 14 30 9 20 3 40 0 29-4 30-9 40-18 40-25 40-33 38-38 35-40 51-70 39-60 29-50 60-109 126-247 70-123 40-62 29-41 40-48 39-39 24-20 27-19 39-21 31-10 39-6 40 3 39 13 34 20 37 34 30 38 20 33 19 40 20 53 20 77 10 62 5 83 0 60-5 61-10 62-10 43-10 34-20 52-19 40-30 46-20 24-30 27-30 19-20 9-20 5-30 5-30-2-28-6-27-10-20-10-31-20-26-20-47-44-79-90-30-29-20-12-10-1-13 6-7 10-4 10-3 20 1 20 4 20 9 30 8 20 20 40 19 30 27 40 48 57 30 28 20 17 20 15 30 18 40 19z"/>
<path fill="#4d0d6c" d="M1458 1648l25 3 30-1 30-5 30-10 20-10 30-19 30-25 22-23 24-30 20-30 17-30 24-50 16-40 19-60 20-89 12-100 3-50 0-60-5-90-8-60-9-50-21-80-30-80-20-40-17-30-21-30-26-32-40-37-40-25-20-9-30-9-40-4-29 2-20 3-20 6-30 11-50 29-40 32-40 38-39 47-44 58-39 60-41 70-38 70-127 247-50 92-60 98-49 70-30 36-36 36-34 30-30 21-30 16-30 11-30 7-29 2-40-6-20-6-20-10-37-25-33-32-30-40-29-54-20-48-20-65-11-50-10-70-4-70 1-70 4-43 10-67 20-80 20-54 20-42 19-34 30-39 21-21 29-22 30-16 30-10 30-3 32 1 37 10 25 10 35 21 26 19 35 30 39 40 59 65 30 25 10 5 10 1 11-6 5-10 2-10-1-30-12-40-18-40-24-40-28-40-35-40-39-37-40-30-30-18-40-16-30-8-39-4-30 3-30 7-40 16-30 19-30 25-22 23-24 30-37 60-32 70-18 50-12 40-19 90-11 100-2 100 2 50 4 50 7 50 9 49 21 80 30 80 20 40 17 30 21 30 24 30 22 22 20 17 20 14 30 16 30 11 30 6 30 1 39-6 30-9 40-18 40-26 34-28 36-35 39-46 30-39 34-50 60-100 59-109 116-227 70-124 40-62 39-54 36-43 34-34 40-33 40-24 20-10 30-10 39-5 40 3 40 13 34 20 36 31 30 37 20 31 19 38 20 48 20 64 10 45 10 67 4 49 1 60-4 70-9 70-8 40-14 50-20 54-20 42-19 34-20 27-20 22-23 20-29 20-28 13-29 7-31 2-22-2-37-9-25-11-34-20-27-20-24-20-30-28-79-87-30-25-10-5-10-1-10 6-6 10-2 10 0 20 3 20 10 30 13 30 16 30 19 30 22 30 25 30 49 48 20 16 30 20 40 21 30 10z"/>
<path fill="#721a6e" d="M1460 1638l23 2 30-1 30-5 30-11 20-10 30-19 20-17 28-29 38-50 18-30 20-40 17-40 14-40 17-60 8-40 14-89 4-60 2-50-1-50-4-50-5-50-8-50-11-50-12-42-30-81-20-41-20-34-19-28-20-25-40-38-40-25-40-16-30-6-20-1-20 1-29 5-40 13-20 9-30 18-50 39-40 39-39 48-40 54-40 61-40 68-40 74-106 208-59 110-59 99-49 70-32 40-33 37-30 27-40 30-30 17-30 13-40 10-29 2-20-2-20-4-20-7-20-9-20-12-20-15-30-29-22-28-32-50-27-60-20-60-14-59-11-70-5-70 0-70 7-80 9-60 15-60 21-60 20-44 19-36 22-30 28-32 20-18 30-20 30-13 20-5 20-3 40 1 29 7 34 13 35 20 52 40 31 30 77 81 20 17 10 5 10 1 10-6 5-18-1-20-8-30-18-40-24-40-29-40-34-39-30-28-40-30-30-17-30-14-30-9-39-5-30 1-30 6-30 10-40 23-30 23-20 20-25 29-21 30-18 30-20 40-17 40-25 80-20 90-7 50-4 50-2 100 7 100 13 82 20 79 30 81 20 41 20 34 19 29 20 24 30 30 25 19 35 20 20 7 20 6 30 4 30 0 37-7 29-10 39-20 43-30 31-27 40-41 29-36 60-84 60-100 50-92 133-259 62-110 39-60 37-50 37-45 40-40 50-39 40-22 40-13 39-6 40 3 30 9 20 9 30 19 38 35 24 30 32 50 19 40 19 50 12 40 13 60 8 50 6 70 1 60-3 50-6 60-10 60-13 49-21 60-20 45-20 35-19 29-28 31-22 20-30 20-30 13-28 7-22 2-30-2-29-7-30-11-23-12-31-20-47-40-88-91-30-26-10-5-10-2-10 6-4 8-1 20 3 20 6 20 13 30 29 50 21 30 25 30 47 47 20 16 30 21 20 11 30 13 20 7z"/>
<path fill="#972766" d="M1451 1628l42 4 20-2 30-6 30-10 20-11 40-28 40-41 33-46 28-50 29-70 19-60 10-41 10-53 10-88 2-77-2-69-10-86-10-52-5-13-5-27-6-13-4-20-6-10-4-18-3 8 1 10 2 14 4 6 2 10 4 26 5 14 9 60 4 50 3 90-3 60-5 50-8 50-11 50-12 39-18 50-18 40-23 40-22 30-20 24-20 19-24 17-26 14-20 8-30 7-20 2-30-2-29-7-30-12-20-10-44-30-46-39-69-71-30-27-10-6-10-2-10 6-3 9 1 20 5 20 12 30 28 50 22 30 24 29 40 39 20 17 30 20 40 21 20 7zM277 1318l2 8 3-8-1-10-2-14-4-6-2-10-4-26-5-13-9-60-4-50-3-90 3-60 5-50 8-50 11-50 12-40 18-50 18-40 23-40 22-30 20-23 20-19 24-18 26-14 20-8 30-7 20-1 30 2 29 7 30 11 20 10 44 30 46 40 69 71 30 26 10 6 10 3 10-6 3-10 0-10-3-20-6-20-25-50-34-50-35-40-39-36-40-29-40-20-30-11-20-4-20-3-29 0-30 5-20 5-20 8-30 16-40 31-20 21-23 27-20 30-16 28-30 63-21 59-21 80-13 80-5 53-2 47 2 98 10 87 10 52 5 13 5 27 6 12 4 21 6 9z"/>
<path fill="#bc3754" d="M1440 1618l24 5 29 1 30-3 30-8 30-13 30-19 27-23 23-24 20-26 29-46 20-39 20-48 20-64 10-43 4-39-1-10-3-3-4 23-6 12-4 17-22 60-30 60-25 40-33 40-35 30-33 20-37 13-30 5-40-2-29-7-40-17-37-22-39-30-32-30-61-61-20-17-10-6-10-3-10 6-2 11 3 20 16 40 30 50 32 41 40 40 40 31 40 22 20 8zM256 849l3 2 4-22 6-13 4-17 31-80 21-40 25-40 33-40 35-30 33-20 37-13 30-4 40 2 39 10 40 19 30 18 36 28 32 30 61 61 30 24 10 3 10-6 2-12-3-20-7-20-14-30-18-30-22-30-26-30-21-21-30-26-20-14-20-12-30-15-20-7-30-8-29-2-20 0-40 8-20 7-23 10-17 11-26 19-39 40-35 50-29 55-20 49-10 29-20 77-3 30z"/>
<path fill="#da4e3c" d="M1429 1608l25 6 20 2 39-2 29-6 21-8 39-22 36-30 35-41 20-30 19-39 3-10-3-8-4 8-55 58-20 16-30 19-30 13-20 6-30 4-30-1-19-4-30-9-30-13-30-17-54-42-95-90-10-7-10-3-3 0-8 10 3 20 7 20 10 20 18 30 32 43 40 41 40 31 40 22zM825 709l4 0 8-10-3-20-7-20-10-20-18-30-22-30-20-24-40-38-40-29-40-20-30-10-20-4-39-3-40 6-35 12-34 20-36 30-34 40-30 50-10 20-3 10 3 8 4-8 55-58 20-16 30-19 30-13 20-5 30-4 30 1 19 3 30 9 30 13 30 18 54 41 85 82 20 15z"/>
<path fill="#f06f20" d="M1466 1608l27 0 20-2 30-8 24-10 31-20 23-20 15-20-3-5-50 19-40 9-40 1-29-5-20-6-40-17-40-25-50-40-79-73-10-7-10-3-5 2-3 10 2 10 6 20 11 20 18 30 16 20 37 40 37 31 40 24 40 17zM809 689l7 3 5-3 3-10-5-20-20-40-32-45-33-35-37-31-30-19-40-18-40-10-29-2-30 2-30 8-24 10-31 20-23 20-15 20 3 6 60-22 40-7 40 1 29 6 20 7 40 19 40 26 40 33 70 65z"/>
<path fill="#fb9706" d="M1449 1598l34 2 30-4 25-8 18-10 9-10-12-3-40-3-39-7-30-10-30-14-30-18-30-22-100-87-9-7-10-2-3 3-1 10 3 10 11 24 24 36 35 40 35 30 35 23 40 18zM795 669l11 3 3-3 1-10-3-10-11-23-19-31-21-26-30-30-29-24-30-19-30-14-30-9-20-4-29-1-21 1-34 10-18 10-9 10 12 4 40 2 39 8 30 9 30 14 30 18 30 22 90 79z"/>
<path fill="#fac62d" d="M1445 1588l33 0 19-10-18-10-15-5-40-18-40-24-40-30-70-61-20-13-3 1-3 10 6 16 10 17 29 37 30 30 31 23 30 18 30 12zM785 649l5 0 3-10-9-20-17-27-19-23-19-20-42-33-28-17-22-9-40-10-34-1-19 10 18 10 15 5 40 19 40 24 40 30 70 60z"/>
<path fill="#f1f179" d="M1411 1568l18 0-6-10-49-34-80-66-20-12-2 2 1 10 20 30 19 20 22 20 29 20 19 10zM763 619l4 2 2-2-1-10-13-20-18-22-30-28-29-20-21-10-27-10-18 0 6 10 49 35 80 66z"/>
</g>
<use href="#lem"/>
<ellipse cx="102.05" cy="103.38" rx="6.41" ry="12.63" fill="none" stroke="#27877f" stroke-width="2.30"/>
</g>
<use href="#etk"/><use href="#efr"/>
</g>
<g transform="translate(1776.10 1029.30)">
<rect width="204.10" height="206.75" fill="#060419"/>
<g clip-path="url(#ce)"><g transform="scale(.1)" fill-rule="evenodd">
<path fill="#240c4f" d="M1059 1159l6 4 10 4 10-6 5-22 0-60-2-50-7-40-10-30-6-14-10-13-10-5-29 1-20-9-20-15-10-3-10 5-4 13-1 50 4 80 5 30 10 30 6 13 10 14 10 4 29 0 20 9z"/>
<path fill="#4d0d6c" d="M1039 1129l16 5 10-1 5-4 5-10 5-30 0-40-3-30-7-30-14-30-11-11-10-3-29-5-20-6-10 0-5 5-5 10-5 40 2 50 8 40 14 30 11 10 10 4z"/>
<path fill="#721a6e" d="M1002 1109l14 4 19 4 20 0 10-8 4-10 3-20 1-30-5-40-6-20-11-20-6-7-10-5-39-8-10 1-10 9-6 20-2 40 3 30 8 30 11 20 6 6z"/>
<path fill="#972766" d="M1003 1099l13 5 19 3 10 0 10-5 8-13 4-30 0-20-5-30-7-19-6-11-14-12-10-4-19-3-10 1-10 4-3 4-7 19-2 21 2 30 6 30 10 20z"/>
<path fill="#bc3754" d="M1002 1089l14 7 9 2 10 1 10-2 10-10 6-18 1-20-1-20-8-30-8-14-10-9-19-7-10 0-10 2-10 9-6 19-1 20 3 30 6 20 8 13z"/>
<path fill="#da4e3c" d="M1017 1089l18 1 10-4 6-7 4-10 2-30-6-30-6-13-5-7-15-10-9-2-10 0-10 4-6 8-6 20 0 20 3 20 9 22 10 12z"/>
<path fill="#f06f20" d="M1012 1079l13 4 10-1 6-3 7-10 4-20-1-20-6-21-10-15-10-6-9-3-10 1-10 8-6 16-1 10 1 20 5 20 11 15z"/>
<path fill="#fb9706" d="M1010 1069l6 4 9 2 10-2 10-14 2-10-1-20-7-20-4-6-10-8-9-3-10 2-5 5-5 9-2 11 1 20 2 10 5 10z"/>
<path fill="#fac62d" d="M1009 1059l7 5 9 3 10-5 6-13 0-20-6-15-10-11-9-3-10 5-6 14 0 20 3 10z"/>
<path fill="#f1f179" d="M1011 1049l5 5 9 3 8-8 3-10-2-10-4-10-5-5-9-3-8 8-3 10 2 10z"/>
</g>
<use href="#lem"/>
<ellipse cx="102.05" cy="103.38" rx="6.41" ry="12.63" fill="none" stroke="#27877f" stroke-width="2.30"/>
</g>
<use href="#etk"/><use href="#efr"/>
</g>
<g transform="translate(1102.00 1256.90)">
<rect width="204.10" height="206.75" fill="#060419"/>
<g clip-path="url(#ce)"><g transform="scale(.1)" fill-rule="evenodd">
<path fill="#240c4f" d="M1013 669l12 1 10-3 12-8 16-20 9-20 6-20 6-40-2-50-11-40-10-20-7-10-9-8-10-7-10-3-9 0-10 3-10 7-16 18-10 20-6 20-7 40 2 50 10 40 9 20 8 11 10 11 10 6z"/>
<path fill="#4d0d6c" d="M1013 649l12 1 10-3 10-9 8-9 6-10 7-20 5-20 3-20-2-40-3-20-7-20-7-13-10-13-10-8-10-4-9 0-10 4-10 8-10 13-7 13-7 20-4 30 0 40 4 20 6 20 8 16 10 13 10 9z"/>
<path fill="#721a6e" d="M1002 629l14 8 9 0 14-8 9-10 7-13 6-17 4-20 2-30-6-40-9-20-7-10-10-10-10-4-9 0-10 4-10 10-12 20-8 30-2 30 6 40 7 20 9 14z"/>
<path fill="#972766" d="M1005 619l11 6 9 0 10-5 10-11 6-10 9-30 1-20 0-20-7-30-11-20-8-8-10-5-9 0-10 5-10 11-9 17-7 30 0 30 3 20 7 20 6 10z"/>
<path fill="#bc3754" d="M1005 609l11 6 9 0 10-5 10-14 9-27 2-30-5-30-9-20-7-7-10-6-9 0-10 6-7 7-9 20-4 20-1 20 4 30 7 17z"/>
<path fill="#da4e3c" d="M1005 599l11 7 9 0 10-7 10-17 4-13 2-30-2-20-8-20-6-7-10-7-9 0-10 7-10 17-6 20-1 20 3 20 4 13z"/>
<path fill="#f06f20" d="M1006 589l10 8 9 0 10-8 6-10 4-16 2-24-4-20-8-17-10-8-9 0-10 8-8 17-3 10 0 30 5 20z"/>
<path fill="#fb9706" d="M1007 579l9 9 9 0 10-11 6-18 1-20-2-10-5-15-10-10-9 0-7 5-3 5-5 15-2 10 1 20z"/>
<path fill="#fac62d" d="M1010 569l6 8 9 0 10-17 2-11-2-18-10-17-9 0-10 15-2 20 2 11z"/>
<path fill="#f1f179" d="M1014 559l2 3 9 0 2-3 2-10 0-10-4-10-10 0-3 10 0 10z"/>
</g>
<use href="#lem"/>
<ellipse cx="102.05" cy="54.56" rx="6.41" ry="12.63" fill="none" stroke="#27877f" stroke-width="2.30"/>
</g>
<use href="#etk"/><use href="#efr"/>
</g>
<g transform="translate(1326.55 1256.90)">
<rect width="204.10" height="206.75" fill="#07051b"/>
<g clip-path="url(#ce)"><g transform="scale(.1)" fill-rule="evenodd">
<path fill="#2b0b57" d="M1242 1718l32 7 40 2 40-3 30-9 20-9 22-18 11-20 2-10-2-10-10-20-20-20-33-23-40-22-30-12-30-8-29-2-30 6-10 4-20 12-15 15-8 10-10 20-3 10-1 20 1 10 8 20 19 20 29 17z"/>
<path fill="#57106e" d="M1269 1708l25 3 20 0 30-4 20-6 20-10 14-13 5-10 3-10-1-10-4-10-6-10-19-20-22-16-30-17-30-12-20-4-29-2-20 4-20 10-10 7-17 20-8 20-1 10 2 20 12 20 22 18 30 14z"/>
<path fill="#7f1e6c" d="M1273 1698l21 2 20 0 20-3 24-9 15-10 8-10 3-10 0-10-3-10-14-20-11-10-22-16-20-10-30-11-20-3-19 1-20 5-22 14-15 20-5 20 4 20 6 10 8 10 14 10 30 14z"/>
<path fill="#a82e5f" d="M1266 1688l18 3 20 0 30-6 16-7 11-10 6-10 1-10-3-10-5-10-9-10-27-21-20-10-20-7-20-3-19 2-20 6-17 13-7 10-4 10 0 20 8 17 13 13 27 14z"/>
<path fill="#cc4248" d="M1258 1678l16 4 20 1 31-5 18-10 8-10 2-10-2-10-5-10-9-10-11-10-32-16-30-6-19 1-10 4-13 7-9 10-5 10-1 10 1 10 4 10 13 14 20 11z"/>
<path fill="#ea632a" d="M1252 1668l12 4 20 3 30-4 10-4 11-9 4-10-1-10-5-10-9-10-13-10-17-8-10-4-20-2-19 2-10 5-9 7-6 10-3 10 2 10 6 11 10 9z"/>
<path fill="#f98e09" d="M1250 1658l24 8 20 0 10-2 14-6 7-10 0-10-5-10-6-6-20-14-20-6-20 1-12 5-7 7-6 13 1 10 7 10z"/>
<path fill="#fbbe23" d="M1252 1648l22 9 20-1 14-8 3-10-5-10-12-10-20-6-10 0-10 2-6 4-6 10 1 10z"/>
<path fill="#f1ef75" d="M1264 1638l10 4 10-1 4-3-5-10-9-2-10 2z"/>
</g>
<use href="#lem"/>
<ellipse cx="102.05" cy="54.56" rx="6.41" ry="12.63" fill="none" stroke="#27877f" stroke-width="2.30"/>
</g>
<use href="#etk"/><use href="#efr"/>
</g>
<g transform="translate(1551.10 1256.90)">
<rect width="204.10" height="206.75" fill="#060419"/>
<g clip-path="url(#ce)"><g transform="scale(.1)" fill-rule="evenodd">
<path fill="#240c4f" d="M535 1768l23 0 29-2 20-4 30-9 40-19 20-12 40-30 45-44 38-50 11-20 14-30 5-20 0-10-3-10-11-8-10 0-20 4-134 64-27 10-37 10-41 5-19 0-30-3-42-12-40-20-40-30-38-39-39-58-30-57-30-75-20-69-13-61-15-100-12-133-5-17-5-8-10 31-11 87-2 80 5 90 12 89 12 60 19 70 21 60 27 60 33 60 36 50 37 41 40 33 40 23 20 9 30 9z"/>
<path fill="#4d0d6c" d="M500 1748l38 6 29-1 20-2 30-7 20-7 30-14 20-12 30-21 20-18 24-24 16-20 14-20 15-30 5-20-1-10-4-4-10-4-19 2-120 47-40 11-50 7-39-2-35-7-27-10-38-20-38-30-32-32-29-39-30-49-30-62-20-52-24-75-26-105-10-12-4 47 2 50 6 59 10 60 12 50 17 60 23 60 19 40 22 40 27 40 25 32 30 31 30 24 30 19 40 18z"/>
<path fill="#721a6e" d="M501 1738l27 5 20 1 39-4 30-7 20-7 40-21 25-17 23-20 20-20 16-20 12-20 8-20 0-10-4-8-10-3-10 1-127 40-33 6-30 3-29-1-40-7-32-11-28-14-30-20-31-26-29-31-29-40-24-39-21-40-27-60-28-71-7-9-3-6-2 26 2 30 8 50 10 40 11 40 18 50 17 40 21 40 18 30 29 40 26 30 21 20 20 16 30 20 40 18z"/>
<path fill="#972766" d="M494 1728l34 6 39 1 40-8 40-15 40-24 35-30 23-30 10-20 0-10-8-8-10-1-20 3-93 26-37 5-29 2-30-2-26-5-31-10-23-10-30-18-29-22-22-20-27-30-23-30-20-30-58-103-4 3-1 10 3 30 20 70 29 70 34 60 38 50 40 39 20 15 30 18 30 13z"/>
<path fill="#bc3754" d="M544 1728l33-2 30-7 30-11 30-16 31-24 19-20 12-20 2-10-4-7-10-4-10 1-90 19-50 5-49-4-30-7-20-7-30-14-20-11-40-31-20-20-27-30-62-83-6 3 0 10 6 27 10 28 20 44 29 51 20 28 20 23 40 37 40 26 20 10 30 10 20 4z"/>
<path fill="#da4e3c" d="M513 1718l35 3 29-2 30-7 30-12 35-22 21-20 13-20-2-10-7-3-20 0-70 11-49 3-40-4-40-10-40-17-40-25-41-35-58-61-3 1-2 10 5 18 19 42 30 47 28 33 32 30 30 21 40 20z"/>
<path fill="#f06f20" d="M498 1708l30 5 30 1 29-4 20-6 30-13 20-13 19-20 4-10-3-5-10-4-10 0-60 5-39 1-40-3-30-7-40-15-30-16-30-20-59-45-2 9 13 30 20 30 28 33 30 27 20 14 30 15z"/>
<path fill="#fb9706" d="M489 1698l29 7 20 2 20-1 29-5 30-10 21-13 10-10 2-10-13-5-10-1-60 1-29-2-50-9-50-18-70-38-3 2 1 10 6 10 15 20 19 20 39 30 19 10z"/>
<path fill="#fac62d" d="M528 1698l30 0 38-10 16-10 1-10-16-3-49-4-40-6-40-10-50-18-10 1 5 10 9 10 24 20 17 10 25 11z"/>
<path fill="#f1f179" d="M496 1678l32 5 10-1 14-4-43-10-21-2-9 2 9 3z"/>
</g>
<use href="#lem"/>
<ellipse cx="102.05" cy="54.56" rx="6.41" ry="12.63" fill="none" stroke="#27877f" stroke-width="2.30"/>
</g>
<use href="#etk"/><use href="#efr"/>
</g>
<g transform="translate(1776.10 1256.90)">
<rect width="204.10" height="206.75" fill="#060419"/>
<g clip-path="url(#ce)"><g transform="scale(.1)" fill-rule="evenodd">
<path fill="#240c4f" d="M1364 1768l10 0 20-3 40-20 20-7 20 0 39 15 30 5 30-6 30-16 20-17 18-21 15-20 46-77 70-84 24-39 22-50 17-50 10-40 11-60 3-30 3-69-1-130 6-100 1-50-5-70-5-40-11-50-20-70-20-50-10-20-19-30-46-49-10-13-20-37-22-51-11-19-14-20-22-25-20-16-20-12-30-11-20-2-20 6-10 6-29 24-10 3-10-1-10-5-30-30-20-13-10-3-20-1-20 3-10 3-20 11-11 13-11 20-8 30-8 20-12 10-10 0-10-8-19-25-10-6-10-3-10 1-20 5-20 13-9 13-4 10-2 9 1 30-2 20-4 11-10 8-11-9-16-50-3-4-10-5-10-2-20 1-10 2-30 12-49-12-40-2-10-2-23-17-17-9-20-8-30-7-10 0-10 6-3 8-7 50-10 17-9 2-8-10-4-10-1-29 6-30 0-10-8-20-10-10-15-10-30-13-20-5-20-3-20 3-12 8-8 16-12 83 0 10 3 10 5 10 9 10 35 28 30 17 59 25 21 12 59 51 30 23 20 10 43 14 47 26 10 1 10-1 39-14 40 2 10-2 10-4 10-7 30-32 11-9 19-9 30-7 20-10 10-8 16-16 33-36 20-16 20-7 40-5 30-7 80-30 29-2 19 3 11 5 30 16 51 39 59 55 20 24 19 30 20 36 20 43 20 54 10 35 10 47 10 72 5 64 1 60-1 50-5 55-20 127-10 48-20 74-20 49-10 19-20 29-19 22-30 26-80 55-60 47-20 10-10 2-19-4-70-46-30-12-20-2-10 1-30 12-10 1-10-2-10-9-8-13-19-40-12-19-20-19-10-6-10-2-10 2-10 8-12 16-8 6-10 0-10-11-2-5-11-50-7-15-10-12-10-8-10-4-10-1-10 4-6 6-3 10-6 40-5 12-10 7-10-8-3-11-4-40-1-10-5-10-6-5-10-4-10-1-10 2-10 4-17 14-6 10-3 10-1 10 2 30-1 20-4 13-10 8-12-11-10-40-8-12-10-3-10 2-20 10-15 13-8 10-11 20-4 20-2 34-2 16-8 20-10 6-11-6-18-34-10-9-10-3-20 3-20 9-30 20-13 14-11 20-16 62-10 23-10 15-10-3-10-19-22-58-8-11-9-9-30-16-30-11-40-10-20-2-10 0-10 4-14 15-10 20-3 20 2 20 8 20 17 30 20 23 30 23 20 9 30 4 30-5 31-14 16-10 12-11 10-5 1 6 10 10 19 14 20 9 20 2 20-4 20-9 40-34 20-12 19-5 30 0 20-5 20-15 28-31 12-7 10-1 40 9 10-2 10-5 25-24 14-5 13 5 27 26 10 5 10 1 10-3 20-11 10-2 10 1 10 7 5 6 25 36 10 9 10 5 10 4 10 0 39-10 10 0 10 4 10 9 27 33 13 13 20 12zM916 511l-6-12-2-20 8-26 10-3 8 19 0 20-2 10-6 11zM1025 525l-9-14-2-12 2-18 9-17 10 8 5 27-5 21zM298 1548l11 1 1-1 9-8 4-12 3-20 1-20-6-40-87-279-15-30-10-7-10 1-8 16-5 20-2 60 2 39 7 50 12 60 18 60 23 50 23 35 20 20zM189 919l10 10 10 0 10-6 14-24 11-30 45-149 34-101 7-40 0-20-5-20-5-10-1-3-10-6-10 2-10 7-18 20-13 20-26 50-27 70-13 50-7 40-4 40-1 60 3 20zM414 489l14 5 10-1 40-10 60-21 25-13 13-10 6-10 2-19-6-70-3-10-8-13-9-7-20-5-20 1-30 6-30 12-10 6-20 14-15 16-19 30-3 10-3 19 2 20 5 20 9 20 4 7z"/>
<path fill="#4d0d6c" d="M504 1748l24-1 20-6 18-13 7-10 3-10 0-20-9-30-9-15-10-10-20-12-20-9-30-9-20-3-20 1-10 5-11 12-6 20 1 20 12 30 14 20 20 20 20 12 10 5zM1352 1748l22 3 20-4 10-4 40-24 20-8 10 0 9 3 40 20 20 4 20-2 10-3 20-10 10-7 20-18 24-30 46-84 19-31 40-42 20-25 20-33 16-35 17-50 11-40 12-80 3-69-4-130 8-100 1-50-3-60-5-40-8-40-16-60-22-57-17-33-13-18-20-21-22-21-18-23-10-19-32-78-11-19-14-20-12-14-20-18-20-12-20-8-20-3-20 4-18 11-32 26-9 2-10-2-10-7-30-31-20-15-20-6-10 0-20 3-20 10-10 10-12 20-19 50-9 12-10 5-10-2-8-6-21-21-10-8-10-3-10 0-10 2-10 4-8 7-8 10-5 9-11 60-8 15-10 5-10-5-4-5-6-10-10-23-10-13-10-4-10-1-10 3-10 7-6 11-3 40-4 20-7 12-10 4-9-8-4-8-4-20-3-30-3-10-7-10-9-5-10-3-10 0-10 3-6 5-4 10-5 30-5 19-10 14-10 0-10-13-3-10-2-20 2-40-3-10-6-10-8-7-10-7-20-7-10-1-10 2-10 8-20 56-10 14-9 7-10-7-6-18-4-20-3-59-3-10-6-10-18-17-20-9-30-6-20 4-10 8-10 20-4 20-2 30 4 19 5 10 17 20 30 23 30 14 20 4 30 2 10 9 32 38 27 26 20 15 20 12 44 17 46 25 10 3 20 1 39-12 40 1 10-3 20-13 30-30 10-7 10-6 40-12 20-11 20-18 39-46 10-9 20-8 50-6 30-7 30-13 40-23 19-7 20 3 30 13 30 18 37 27 75 60 21 20 16 22 16 28 24 55 20 51 11 34 13 50 9 50 11 80 5 70 1 50-4 60-12 80-14 74-20 92-19 63-16 40-22 40-17 20-25 20-100 64-70 56-10 6-10 3-9 0-10-3-10-7-50-41-30-16-20-4-10-1-20 5-20 8-10 1-10-2-10-7-10-13-31-59-18-18-10-6-10-2-10 3-20 16-10 6-10 0-10-8-6-11-14-41-9-19-11-11-10-4-10 2-3 3-7 10-10 30-6 10-4 4-10 5-10-5-8-14-11-39-7-11-3-3-10-4-10 2-10 6-7 9-7 20-4 30-4 20-8 16-7 4-3 1-10-4-10-15-10-21-10-11-10-2-10 3-10 7-10 9-14 23-5 20-8 50-3 10-10 18-10 5-9-3-30-39-10-6-10-1-10 1-20 8-23 17-16 20-9 20-10 50-1 20 2 10 5 10 12 10 10 4 10 2 20-2 20-10 50-42 19-11 10-2 30 2 20-5 20-14 22-22 18-11 10-2 10 1 20 5 10 0 10-2 10-6 19-15 11-5 9-2 10 2 9 5 21 18 10 5 10 1 10-2 30-10 10 1 10 6 10 10 20 27 10 10 10 6 10 4 20-1 29-8 10 0 10 3 13 10 37 43 10 8zM284 1508l5 3 10 0 8-13 2-5 1-25-7-40-21-70-43-131-10-25-10-16-10-3-7 16-3 10-2 39 5 60 11 60 11 40 21 50 14 24 10 14zM199 879l10 10 10-5 14-25 21-60 40-130 13-50 3-20 0-20-2-10-9-9-10 2-10 8-20 26-23 43-22 60-11 40-9 60-1 50zM431 469l17 2 40-8 40-15 14-9 12-10 8-10 4-9 2-30-6-30-5-10-9-9-10-4-20-3-30 6-30 13-20 14-11 13-13 20-4 10-4 19 0 10 5 20 6 10z"/>
<path fill="#721a6e" d="M1361 1738l13 1 10-2 20-8 16-11 21-20 4-10-1-10-4-10-15-20-31-26-20-10-10-3-20-1-10 2-30 12-10 3-10 0-10-8-10-13-28-56-11-16-10-9-10-6-10-1-10 2-20 14-10 5-10 0-10-8-10-15-20-49-10-11-10-4-10 4-19 34-7 10-4 4-10 3-10-4-9-13-10-25-10-19-10-5-10 1-10 9-5 9-15 60-10 16-10 5-10-4-30-40-10-4-10 3-10 6-10 12-8 16-6 20-9 50-7 23-7 17-1 10 10 10 8 3 10 3 10-1 10-2 10-6 40-34 10-5 10-2 30 4 10 0 10-2 30-18 10-5 9-2 10 2 9 5 21 16 10 4 10 2 40-10 10 1 10 5 10 9 30 36 10 6 10 4 20 0 29-10 10-1 10 0 10 7 41 51 19 14zM480 1728l18 6 10 1 20-2 12-5 13-10 6-10 3-10-1-20-4-10-9-16-20-18-20-9-30-9-20-2-10 2-10 5-6 7-4 7-2 13 3 20 8 20 11 15 16 15zM682 1728l15 2 10-1 20-10 35-31 26-30 4-10-33-50-12-10-10-2-10 0-20 8-20 16-13 18-11 30-4 20 0 20 3 10 5 10zM1530 1718l13 4 10 1 20-4 20-10 20-16 21-25 18-30 16-40 3-20-8-8-20 5-20 9-50 31-37 33-18 20-7 10-4 10 1 10 7 10zM274 1478l5 4 10 0 6-14 1-20-5-30-17-60-25-75-20-48-10-10-9 14-2 19 1 40 8 50 10 40 14 40 18 33 10 13zM1761 1448l1 9 10-5 10-12 10-17 20-46 14-49 9-50 5-59-1-40-7-37-10 21zM1832 939l0 2 10-11 2-51-2-48-10-63-10-40-20-57-20-37-10-13-10-8-7 6 1 10 43 140 9 40zM209 849l10 3 10-13 10-23 22-67 21-70 10-40 2-30-5-14-10 1-10 9-10 13-20 38-17 43-12 50-6 40 0 40zM970 629l16 7 10 1 10-1 39-10 30 0 20-4 20-13 30-31 10-7 10-5 40-11 20-12 15-14 16-20 28-45 10-7 40 1 30-1 20-5 20-7 20-12 16-14 7-9 3-10-2-10-19-30-15-16-10-7-20-7-10-1-20 4-20 12-12 15-9 20-19 53-10 14-10-1-10-6-39-37-10-3-10-1-10 3-10 6-10 12-8 19-12 50-10 16-10 4-10-5-10-12-20-32-10-6-10-1-10 5-7 11-11 50-4 10-8 11-10 3-9-7-9-17-9-40-5-10-7-8-10-4-10 0-10 8-20 56-10 11-10 1-10-10-5-14-4-20-3-40-3-10-5-9-10-10-10-6-10-3-10 0-10 5-10 14-21 59-2 10 6 20 24 30 33 28 20 11 40 17zM1670 509l4 0 6-10-3-20-6-20-18-40-14-19-16-18-30-22-20-7-10-2-20 2-10 5-10 9-8 13-3 10 4 10 9 10 108 80 20 13zM718 479l19 5 10-1 6-4 6-10 1-20-2-39-5-30-5-10-9-10-12-9-10-5-20-4-20 1-10 7-8 10-4 10-4 30 3 19 9 20 14 15 20 15zM432 449l6 4 10 3 30-3 30-10 20-10 10-7 13-16 5-20-2-20-3-10-7-10-6-6-10-4-10-1-20 1-30 11-20 14-14 15-6 10-7 20 0 19 3 10z"/>
<path fill="#972766" d="M1362 1728l12 1 10-2 20-10 10-9 8-10 5-10 0-10-8-20-8-10-17-15-20-11-10-3-20-1-20 7-19 13-8 10 1 10 14 30 15 20 17 14zM483 1718l15 5 10 1 10-1 13-5 12-10 5-10 1-10-1-10-10-20-10-10-10-7-30-12-20-2-10 1-10 5-4 5-5 10 1 20 8 18 9 12 11 11zM691 1718l16 0 20-9 23-21 16-20 5-10 2-10-2-10-4-10-10-17-10-10-10-4-10 0-20 8-16 13-14 20-6 20-3 30 2 10 5 10 12 9zM1552 1708l11 0 20-6 20-13 11-11 15-20 15-30 4-20-3-10-12-2-10 3-20 9-30 20-30 30-12 20-1 10 4 10 9 7zM1196 1658l9 4 10 1 10-2 28-13 9-10 1-10-2-10-26-59-10-15-10-10-10-6-10-2-10 3-30 17-10 0-10-6-10-15-21-47-9-11-10-4-10 5-19 30-9 10-12 5-10-4-9-11-20-38-10-7-10 2-10 13-15 50-5 12-10 14-10 4-10-3-30-37-10-5-10 2-10 8-10 14-5 11-7 30-9 60 1 10 10 11 10 2 10-2 10-5 40-33 10-5 10-3 10 0 20 5 10 0 10-2 32-18 17-5 10 1 30 20 10 5 10 1 10-1 30-9 10 1 10 4 10 9 28 34zM266 1448l3 4 10 1 2-5 2-20-3-20-11-41-20-60-10-24-10-15-10 9-1 11 2 30 6 40 12 40 8 20 13 23zM1799 1358l3 4 4-14 6-10 10-42 3-38-3-24-3 14-7 15-10 46-4 39zM216 809l3 8 10-7 10-20 20-59 11-42 8-40 0-10-9-8-10 10-10 15-10 21-12 32-8 32-4 28-1 20zM968 619l18 7 10 1 10-1 29-9 40 0 20-4 19-14 31-34 10-7 50-13 20-12 10-9 18-25 9-20 2-10-1-10-5-10-23-27-10-8-10-4-10 0-10 3-10 7-10 17-18 62-12 18-10 1-10-5-10-11-20-29-10-7-10 0-10 8-2 5-18 56-10 13-10 3-9-6-10-16-10-34-10-20-10-5-10 1-10 13-10 27-10 20-10 11-10 3-10-8-8-18-4-20-5-40-8-20-5-6-10-7-10-3-10 0-10 7-5 9-12 30-5 20 0 10 6 20 16 23 10 10 20 15 10 5 40 13zM1650 479l3 0 5-10-3-20-14-30-18-23-20-17-20-10-20-3-10 2-10 7-3 5-2 10 3 10 8 10 22 19 42 33 20 12 10 5zM722 469l15 1 10-7 2-4 2-10 1-20-1-19-3-20-11-19-10-9-20-8-20-1-13 7-7 8-5 12-2 20 4 19 11 20 12 12 20 13zM446 439l12 4 10 0 20-4 20-8 20-13 10-11 5-17 0-10-2-10-7-10-6-5-10-3-20 0-20 6-20 12-17 20-7 20 0 9 2 10zM1315 439l9 5 10 3 30 0 20-4 26-14 14-12 5-7 3-10 0-10-9-20-7-10-12-11-20-9-20 0-20 9-10 9-8 12-8 20-7 29 0 10z"/>
<path fill="#bc3754" d="M1359 1718l15 1 10-2 10-5 15-14 4-10 1-10-2-10-5-10-9-10-12-10-22-10-20 0-10 3-10 6-9 11-3 10 1 10 9 20 12 15 10 9zM486 1708l12 4 10 0 15-4 10-10 3-10-1-10-7-15-19-15-21-8-20 0-13 8-3 10 0 10 4 10 6 10 9 10zM696 1708l11 0 20-9 21-21 12-20 2-10-1-10-4-10-10-14-10-6-10-1-10 2-10 6-15 13-11 20-5 20 1 20 5 10 5 6zM1553 1688l10 4 10 0 12-4 18-13 14-17 10-20 1-10-5-10-10 0-20 9-26 21-15 20-2 10zM1194 1648l11 5 10 1 10-2 10-5 10-8 6-11 0-10-5-20-8-20-11-20-12-15-10-6-10-2-10 3-30 18-10 1-10-6-10-15-23-48-7-9-10-4-10 5-20 27-10 10-10 4-10-3-9-11-20-34-10-8-10 3-10 17-11 33-9 23-10 14-10 5-10-4-30-37-10-5-10 2-10 8-8 14-7 20-6 40-1 20 2 11 10 10 10 0 10-4 50-41 10-4 10 1 20 7 10 1 10-2 40-21 9-2 10 2 30 19 10 5 10 2 10-1 30-11 10-1 10 4 37 45zM255 1408l4 8 8-8-1-10-7-35-10-28-10-20-4 3-3 10 4 30 3 15 10 27zM229 769l10-10 11-30 8-40-9-4-10 20-10 37zM965 609l11 6 20 3 39-11 40 2 20-5 10-6 18-19 20-30 2-7 9-3-9-1-20-15-30-40-10-6-10 1-10 12-20 55-10 12-10 2-9-5-10-15-20-50-10-7-10 2-10 15-20 43-12 17-1 10 5 10 9 10zM873 559l13 3 10-2 4-11-9-40-6-40-7-20-8-10-4-3-10-3-10 1-10 10-7 15-6 20-1 20 6 20 8 12 20 19zM1155 539l30 3 20-5 20-13 13-15 6-10 9-20 1-10-2-10-12-20-15-15-10-5-10 0-10 3-10 10-9 17-13 50-8 26-4 4zM698 449l19 9 10 1 10-4 4-6 3-10 2-20-3-19-4-10-6-10-16-13-20-5-10 2-10 7-5 9-4 20 5 19 5 10 9 11zM1620 449l13 2 2-2 1-10-3-10-14-19-10-10-16-11-10-3-10 0-7 4-1 10 5 10 9 9 24 20zM467 429l11 0 20-6 10-4 12-9 7-10 3-10-1-10-7-10-14-6-20 2-20 11-10 9-8 14-2 10 2 9 8 8zM1326 429l8 6 10 3 20 0 20-5 20-11 11-12 4-10 1-10-3-10-5-10-10-10-8-6-10-4-20 0-10 3-10 7-9 10-5 10-7 20-1 19z"/>
<path fill="#da4e3c" d="M1357 1708l7 2 10 0 10-4 11-8 6-10 2-10-2-10-6-10-10-10-11-7-10-4-10-1-10 2-15 10-5 10 0 10 3 10 7 13 10 10zM494 1698l15 0 11-10 0-10-5-10-12-10-15-5-10 1-8 4-2 5-1 5 3 10 8 11zM707 1698l10-3 11-7 10-10 12-20 2-10-1-10-5-10-9-9-10-2-10 2-10 6-10 9-8 14-5 20 0 10 3 9 10 10zM1581 1658l2 8 10-5 3-3-2-10zM1192 1638l13 6 10 1 10-3 10-7 5-7 2-10-3-20-7-20-7-13-10-12-10-7-10-2-10 3-17 11-11 10-5 10 3 10 12 20 14 20zM856 1628l10-3 20-14 22-23 5-10-1-10-11-20-15-19-10-5-10 2-10 10-6 12-6 20-3 20 0 20 2 10 3 6zM958 1588l8 2 10-1 49-25 10 1 30 22 10 5 10 2 10-1 13-5 16-10 7-10-2-10-22-50-12-18-10-5-10 5-20 26-10 10-10 5-10-4-9-11-20-32-10-7-10 4-10 17-25 70 3 10zM985 609l11 1 10-3 19-11 10-2 30 7 20-1 10-3 10-8 17-20 7-20-1-10-6-10-27-36-10-6-10 2-10 14-20 53-10 13-10 2-9-7-10-16-20-46-10-9-10 3-10 15-17 38-3 10 0 10 4 10 16 16 10 7zM876 549l10-6 2-4-1-20-5-40-6-20-10-12-10-4-10 2-10 13-7 21 0 20 7 20 10 13 10 9 10 6zM1174 529l11 3 10 0 20-9 15-14 12-20 3-20-2-10-4-10-8-10-6-6-10-5-10-1-10 5-7 7-6 10-7 23-7 37 0 10zM699 439l18 9 10-1 8-8 3-10 0-19-8-20-13-13-10-3-10-1-10 4-8 13-2 10 5 19 6 10zM1335 419l9 7 10 3 20-2 17-8 11-9 5-10 1-10-2-10-7-10-15-10-10-2-10 1-10 4-10 9-10 18-3 20zM471 410l7 2 10 0 10-5 9-7 3-10-2-5-10-5-10 2-10 5-9 13z"/>
<path fill="#f06f20" d="M1358 1698l6 2 12-2 12-10 3-10-2-10-7-10-17-10-11-1-10 4-7 7-2 10 2 10 6 10zM695 1678l2 3 10 5 10-2 10-6 8-10 5-10 1-10-4-14-10-6-10 2-10 6-9 12-4 10-1 10zM1191 1628l14 8 10 0 10-4 4-4 5-10 1-10-5-20-11-20-4-6-10-8-10-1-10 3-10 8-5 4-4 10 0 10 3 10 12 20zM849 1608l7 8 10 0 10-6 13-12 8-10 4-10 0-10-3-10-12-18-10-6-11 4-9 10-4 10-5 30 0 10zM962 1578l14 2 10-3 28-19 10-10-2-10-18-30-8-13-10-7-10 5-3 5-7 16-11 34-2 10 1 10zM1064 1578l11 7 10 2 10-2 14-7 9-10 1-10-2-10-11-30-11-18-10-5-10 4-30 39-6 10 5 10zM976 599l10 2 13-2 13-10 2-10-28-65-10-10-10 3-10 17-10 25-2 10 1 10 5 10 9 10zM1057 589l18 5 10-1 10-4 11-10 12-20 2-10-1-10-5-10-19-27-10-6-10 3-6 10-19 50-3 10 0 10zM854 529l12 7 10-2 3-5 1-10-4-41-10-20-10-5-10 4-2 2-8 18-1 12 4 20 7 13zM1181 519l4 3 10 1 12-4 8-4 10-10 9-16 3-10 1-10-2-10-11-16-10-6-10-1-10 5-10 15-7 23-3 20 0 10zM702 429l5 4 10 2 10-5 2-11 0-9-4-10-8-11-10-4-10 1-4 4-5 10 1 10 4 9zM1344 410l10 7 10 1 10-2 10-4 11-12 1-10-4-10-8-8-10-3-10 1-10 6-10 14-2 10z"/>
<path fill="#fb9706" d="M1353 1678l11 6 11-6-3-10-8-5-10 2-3 3zM710 1668l7 1 10-11 0-10-10-3-4 3-7 10 1 6zM1190 1618l5 4 10 5 10 0 9-9 3-10-4-20-8-16-10-8-10-2-13 6-6 10-2 10 8 20zM855 1598l1 2 10 5 10-5 11-12 5-10 0-10-3-10-3-5-10-8-10 3-10 18-2 22zM1081 1578l14-1 12-9 4-10 0-10-6-20-10-18-10-6-10 5-10 12-10 17-2 10 3 10 7 10 12 9zM967 1568l9 3 10-2 16-11 7-10 2-10-3-10-12-22-10-7-10 6-10 25-4 18 0 10zM972 589l14 4 10-3 6-11 0-10-6-20-10-23-10-11-10 4-6 10-5 10-4 20 2 10 6 10zM1060 579l5 4 10 3 10-1 12-6 9-10 5-10 2-10-2-10-4-10-12-18-10-6-10 5-10 19-8 30-1 10zM855 519l11 4 4-4 3-10 0-10-4-20-3-7-10-7-10 7-4 17 4 19zM1186 509l9 4 10-1 10-6 12-17 3-10 0-10-5-14-10-9-10-1-10 7-5 7-5 14-3 16 0 10zM1362 400l2 1 10-1 2-10-2-3-10 1-2 2z"/>
<path fill="#fac62d" d="M1192 1608l13 8 10-4 2-4 1-10-3-10-10-13-10-2-7 5-3 6 1 14zM866 1588l10-3 4-7 0-10-4-7-10 4-1 3-2 10zM1077 1568l8 2 10-3 7-9 2-10-2-10-7-16-10-8-10 5-11 19-2 10 4 10zM975 1558l12 0 11-10 3-10-5-19-10-8-10 9-3 8-3 20zM972 579l4 2 10 1 3-3 4-10-1-10-6-20-10-12-10 5-7 17 0 10 3 10zM1065 569l10 8 10 0 10-6 8-12 3-10-2-10-9-17-10-7-10 6-7 18-4 20zM1193 499l2 2 10 0 10-7 3-5 3-10 0-10-6-11-10-2-10 10-4 13-1 10z"/>
<path fill="#f1f179" d="M1084 1558l10-10-1-10-8-11-10 8-2 13 2 4zM970 559l6 8 5-8-5-15-5 5zM1073 559l2 5 10 2 10-10 2-7-1-10-11-12-10 10-3 12z"/>
</g>
<use href="#lem"/>
<ellipse cx="102.05" cy="54.56" rx="6.41" ry="12.63" fill="none" stroke="#27877f" stroke-width="2.30"/>
</g>
<use href="#etk"/><use href="#efr"/>
</g>
<g transform="translate(1102.00 1484.60)">
<rect width="204.10" height="206.75" fill="#060419"/>
<g clip-path="url(#ce)"><g transform="scale(.1)" fill-rule="evenodd">
<path fill="#240c4f" d="M1817 1149l15 8 10 2 10-2 10-5 10-9 16-24 8-20 8-40 1-20-1-30-5-30-11-30-12-20-10-10-14-9-10-1-10 1-10 5-10 8-12 16-13 30-8 40-1 40 2 20 7 30 13 30z"/>
<path fill="#4d0d6c" d="M1842 1139l10-2 10-6 10-11 7-11 11-30 5-40-1-20-4-30-11-30-7-11-10-11-10-6-10-2-10 1-10 6-10 10-8 13-11 30-5 40 3 40 5 20 8 20 8 13 10 10 10 5z"/>
<path fill="#721a6e" d="M1825 1119l7 4 10 2 10-2 10-7 10-13 6-14 6-20 3-20-1-40-8-30-6-14-10-13-10-7-10-3-10 2-10 7-10 12-11 26-6 30 0 30 6 30 11 26z"/>
<path fill="#972766" d="M1827 1109l5 3 10 2 10-3 10-8 13-24 6-30 1-20-2-20-8-28-10-17-10-8-10-3-10 3-10 7-4 6-11 20-6 30 0 30 6 30 11 20z"/>
<path fill="#bc3754" d="M1828 1099l4 3 10 2 10-3 10-10 10-20 4-22 0-30-7-30-7-13-7-7-13-6-10 3-13 13-9 20-4 20 0 30 4 20 9 20z"/>
<path fill="#da4e3c" d="M1828 1089l4 3 10 3 10-4 10-12 5-10 4-20 0-30-4-20-5-11-7-9-3-3-10-4-10 3-10 11-6 13-5 20-1 20 3 20 7 20z"/>
<path fill="#f06f20" d="M1828 1079l4 4 10 3 10-4 10-15 5-18 0-30-5-18-10-15-10-5-10 4-10 13-6 21 0 30 6 20z"/>
<path fill="#fb9706" d="M1829 1069l3 4 10 4 10-6 10-22 1-20-4-20-7-13-10-5-10 4-8 14-3 10 0 30z"/>
<path fill="#fac62d" d="M1831 1059l11 7 10-7 4-10 1-10-1-20-4-11-10-7-10 6-5 12-2 20z"/>
<path fill="#f1f179" d="M1837 1049l5 4 8-14 0-10-8-14-5 4-5 10 0 11z"/>
</g>
<use href="#lem"/>
<ellipse cx="184.13" cy="103.38" rx="6.41" ry="12.63" fill="none" stroke="#27877f" stroke-width="2.30"/>
</g>
<use href="#etk"/><use href="#efr"/>
</g>
<g transform="translate(1326.55 1484.60)">
<rect width="204.10" height="206.75" fill="#07051b"/>
<g clip-path="url(#ce)"><g transform="scale(.1)" fill-rule="evenodd">
<path fill="#2b0b57" d="M487 1778l41 7 39 0 20-2 30-6 40-14 50-27 50-36 39-36 43-46 54-70 47-70 41-70 48-90 62-129 48-110 18-50 9-30 3-20-1-10-3-5-10 2-10 7-20 20-20 24-57 82-112 179-60 89-30 41-40 49-49 53-31 28-40 30-34 20-21 10-28 10-45 9-30 1-30-4-30-8-39-18-41-29-30-29-29-37-30-47-30-59-20-50-20-62-10-39-12-57-13-90-6-70-2-70 0-70 4-90-1-34-3 4-7 3-10 31-10 46-13 100-5 100 3 100 9 90 12 69 21 90 26 80 30 70 33 60 19 30 23 30 41 45 40 33 30 19 20 9z"/>
<path fill="#57106e" d="M515 1768l43 3 39-5 40-11 30-12 40-23 40-28 40-35 45-49 48-60 41-60 42-70 38-70 39-80 40-89 26-70 7-30 1-10-9-7-10 7-30 35-40 57-109 168-50 70-60 75-49 52-50 42-30 21-36 19-24 10-35 10-24 4-30 0-36-4-33-10-22-10-33-20-26-20-30-30-29-38-20-30-20-35-22-47-20-50-14-40-17-59-11-50-26-140-4 10-5 20-1 47 7 93 10 69 13 60 19 70 25 70 23 50 27 50 20 30 31 40 34 36 40 31 30 18 40 16z"/>
<path fill="#7f1e6c" d="M522 1758l36 2 39-5 40-11 30-12 40-23 40-28 40-36 35-37 41-50 35-50 44-70 39-70 40-80 34-80 16-49 2-10-3-10-5-2-10 9-20 23-159 230-50 63-50 56-55 50-44 31-35 19-24 10-31 9-20 4-29 2-30-2-20-3-30-9-30-14-27-17-23-17-24-23-41-50-38-60-39-80-31-80-6-19-3-1-7-11 0 20 9 61 21 81 17 49 21 50 20 40 24 40 21 30 26 32 30 29 30 24 30 18 30 13 30 10z"/>
<path fill="#a82e5f" d="M517 1748l31 3 39-3 40-9 40-16 40-22 30-22 30-25 37-36 35-40 45-60 39-60 29-50 36-70 28-60 19-55 2-14-2-7-10 5-19 22-140 194-50 61-39 43-45 41-45 33-49 27-41 15-21 5-28 3-30 0-20-2-41-11-23-10-26-14-40-30-44-46-31-40-54-84-2 4 2 21 10 32 20 49 30 58 20 30 22 30 38 40 24 20 25 17 40 20 20 6z"/>
<path fill="#cc4248" d="M509 1738l39 4 29-1 40-7 30-10 30-14 30-17 40-30 30-26 37-39 33-40 29-40 33-50 37-63 30-59 20-48 6-30-6-2-20 21-122 161-42 50-38 40-37 34-40 30-40 24-40 18-40 11-39 5-40-3-40-9-40-18-35-22-36-30-48-46-4 6 2 10 21 40 30 44 34 36 26 23 30 20 37 17z"/>
<path fill="#ea632a" d="M504 1728l34 6 29 0 30-3 30-8 39-15 31-17 30-20 30-24 39-39 30-33 30-39 40-58 30-51 30-59 11-30 1-10-2-4-10 7-10 11-101 126-34 40-34 35-38 35-32 25-30 20-30 16-30 13-40 11-29 4-40 0-30-4-30-9-30-12-50-26-10 0 0 2 6 10 14 20 19 20 24 20 37 23 20 9z"/>
<path fill="#f98e09" d="M504 1718l24 5 30 3 29-2 30-6 30-10 24-10 35-20 27-20 34-28 29-30 30-35 30-39 30-45 30-52 10-22 2-9 0-10-2-1-20 20-78 91-58 60-53 45-50 33-30 15-30 12-49 12-50 2-30-3-40-7-9 1 4 10 25 20 19 10z"/>
<path fill="#fbbe23" d="M523 1708l25 5 19 1 20 0 30-5 30-9 20-9 41-23 51-40 28-27 29-34 30-40 30-48 4-11-4-9-99 102-40 35-30 23-50 31-50 23-30 9-31 6-37 10z"/>
<path fill="#f1ef75" d="M614 1688l13 2 10-1 30-10 22-11 30-20 37-30 21-20 31-40-2-10-49 44-40 32-40 27z"/>
</g>
<use href="#lem"/>
<ellipse cx="184.13" cy="103.38" rx="6.41" ry="12.63" fill="none" stroke="#27877f" stroke-width="2.30"/>
</g>
<use href="#etk"/><use href="#efr"/>
</g>
<g transform="translate(1551.10 1484.60)">
<rect width="204.10" height="206.75" fill="#07051b"/>
<g clip-path="url(#ce)"><g transform="scale(.1)" fill-rule="evenodd">
<path fill="#2b0b57" d="M239 859l3-20 7-9 4-21 29-80 23-50 28-50 28-40 27-30 35-30 35-21 30-13 40-9 30-2 39 2 21 3 39 11 52 19 87 38 60 19 30 6 30 1 20-1 30-5 30-10 29-13 50-30 40-28 151-116 68-45 82-45 14-10 6-10-7-10-5-3-20-6-20-3-40 2-50 9-49 17-40 17-130 67-43 20-56 20-40 7-40 1-40-5-21-3-138-35-70-9-40 1-39 6-30 9-30 13-20 10-30 21-40 35-40 48-20 30-19 33-31 67-19 54-10 34-10 43-10 60z"/>
<path fill="#57106e" d="M851 559l25 6 20 2 30 1 20-2 40-11 49-23 40-25 40-30 150-127 30-30 5-10-5-10-11-2-20 1-39 10-60 24-97 47-47 20-29 10-46 10-40 2-42-3-52-9-105-25-40-6-30-2-40 1-30 5-39 12-31 15-30 19-31 30-6 10 8 9 50-12 40-5 39 0 40 6 40 11 30 11 129 56z"/>
<path fill="#7f1e6c" d="M853 549l43 8 40 0 20-4 30-8 39-19 50-32 67-55 62-59 15-20 5-10-9-11-10 1-20 4-40 14-121 52-38 12-50 9-40 1-32-3-56-10-81-17-60-8-30-1-30 3-16 4-27 10-13 9 2 10 24 10 50 16 30 11 149 68z"/>
<path fill="#a82e5f" d="M849 539l37 9 40 1 40-7 40-15 49-29 25-19 35-30 39-39 14-20 2-10-5-5-10-1-20 4-129 47-40 10-40 5-40 0-30-3-109-20-50-7-40 1-26 8-1 10 12 10 16 10 129 66 39 17z"/>
<path fill="#cc4248" d="M883 539l33 3 30-3 30-8 40-18 37-24 46-40 25-30 4-9-3-6-10-2-10 1-119 35-30 6-30 3-30 1-30-2-129-19-20-1-23 3-7 10 7 10 44 30 36 20 42 21 40 14z"/>
<path fill="#ea632a" d="M869 529l27 5 30 0 30-4 31-11 37-20 28-20 30-30 7-10 2-10-6-3-20 0-89 22-50 6-50 0-109-12-20 2-10 3-3 2 3 10 10 10 28 20 51 26z"/>
<path fill="#f98e09" d="M861 519l25 6 30 2 20-1 30-7 25-10 33-20 23-20 8-10 2-10-12-4-10 0-69 12-50 5-40-1-70-4-27 2-4 10 8 10 13 10 37 20z"/>
<path fill="#fbbe23" d="M905 519l31-1 34-9 21-10 15-10 11-10 6-10-7-6-10-1-80 7-100 1-10 5-3 4 8 10 15 10 30 13z"/>
<path fill="#f1ef75" d="M904 509l23 0 38-10 15-10 1-10-25-2-58 2-32 5-10 5 11 10z"/>
</g>
<use href="#lem"/>
<ellipse cx="184.13" cy="103.38" rx="6.41" ry="12.63" fill="none" stroke="#27877f" stroke-width="2.30"/>
</g>
<use href="#etk"/><use href="#efr"/>
</g>
<g transform="translate(1776.10 1484.60)">
<rect width="204.10" height="206.75" fill="#060419"/>
<g clip-path="url(#ce)"><g transform="scale(.1)" fill-rule="evenodd">
<path fill="#240c4f" d="M614 1838l13 0 10-4 10-10 20-49 10-15 10-6 10 0 8 4 42 24 30 24 10 4 9-1 10-6 10-14 4-11 5-40 6-20 5-12 10-9 10 0 10 7 20 26 30 32 10 7 10 1 10-7 7-15 1-20-1-30 3-21 10-20 10-4 10 5 5 10 15 40 39 43 10 5 10-2 4-6 3-10-3-50 6-26 10-13 12-1 8 8 4 12 6 50 6 10 24 16 30 29 10 1 4-6 2-10 2-40 6-20 6-11 10-8 10-2 9-9 9-30 11-12 10 5 7 17 1 10-2 10-6 20-17 20-2 10-2 30 2 10 7 10 32 15 10 8 20 21 10 8 10 0 10-15 10-51 10-15 10-2 14 11 16 34 10 8 10-2 13-10 4-10-7-7-5-13-5-30 2-20 7-20 1-2 10-6 10 9 6 29-1 20-5 24-9 16 4 10 25 17 29 24 10 5 10 0 12-6 8-9 6-11 6-20 8-53 10-25 10-8 10 3 30 27 10 2 10-5 17-21 27-50 2-10-1-10-5-14-3-16-1-20 4-16 10-10 9 2 8 14 5 20 1 30 3 10 3 4 10 4 10-2 10-8 7-8 17-30 13-40 3-40 0-60 6-30 9-20 25-30 6-10 7-20 14-90 25-69 5-20 6-40 0-40-3-67-7-73-7-30-16-39-10-38-3-83-17-60-16-110-9-30-19-40-26-38-20-20-10-5-10 2-8 11-1 10 9 50 0 20-6 30-16 40 2 20 10 33 5 7 8 70 11 40 9 20 27 35 10 22 5 23 5 50 5 20 5 12 10 9 20 5 10 6 6 8 8 20 1 30-5 19-15 31-6 20-7 70-9 40-13 29-17 30-8 20-5 20-4 50-6 19-10 12-10 3-10-4-20-15-10-1-9 5-10 9-9 12-6 10-7 20-8 58-10 32-10 15-20 23-8 12-9 20-13 43-10 14-10 1-10-7-10-13-20-39-10-8-10-3-20 4-19 7-10 7-20 17-10 1-10-6-10-15-6-23-2-60-5-30-12-30-5-8-10-10-10-1-10 8-23 41-7 9-10 6-10 0-20-6-10 0-19 5-10 0-10-5-17-19-6-10-12-40-15-28-7-22-3-20 0-20 2-20 5-20 13-32 11-57 2-30-3-12-7-8-3-3-10 2-8 11-2 10 0 10 5 40-1 19-6 20-9 10-9 6-10 1-10-4-14-13-6-7-10 2-10 15-10 9-10 3-10-4-10-11-7-17-13-57-9-15-10-1-10 7-13 17-4 10-1 20 3 49 3 10 12 10 10 13 2 7 3 20-5 24-10 9-10-3-10-20-7-30-3-4-21-6-12-10-17-23-10-2-10 7-12 18-8 20-6 20-2 20 10 10 8 4 10 14 4 22-4 24-10 11-10-2-8-13-4-10-8-34-10 6-43 58-36 32-16 18-10 20-14 50-10 16-10 6-20 0-10 3-9 55-11 14-11-4-5-10-4-14 0-17 12-39 1-10-4-10-9-9-10-5-10-4-20-1-20 3-19 7-10 7-10 9-30 43-10 7-10 2-30-8-30 4-10-3-15-12-15-21-10-10-10 2-7 19-6 20-3 20 0 20 4 20 8 30 8 20 16 22 10 8 10 5 10 1 10-2 30-22 10-2 10 2 10 8 20 26 10 8 10 3 10-1 10-3 5-3 5-10 2-30 5-20 2-5 10-6 10 8 5 23-2 20-9 30 1 10 8 20 7 9 10 8zM767 1705l-10-13-2-14 2-15 10-13 10 6 3 12 1 10-1 10-3 12zM826 1569l-3-11 0-20 3-11 10-6 10 13 2 14 0 10-4 10-8 7zM906 1630l-10-6-4-16 0-10 4-12 10-6 7 8 3 6 1 14-2 10zM956 1499l-9-11-2-10 1-13 3-7 7-8 10 7 3 21-3 14zM1016 1598l-10-10-2-20 2-10 10-11 9 8 3 13-3 21zM1055 1485l-7-17 2-20 5-13 10-2 4 5 4 10 0 20-8 16zM1085 1398l-4-10-2-10 0-20 6-23 10-8 10 6 6 15 2 20-1 10-7 18-3 2-7 5zM1125 1622l-10-6-4-18 4-25 10-11 11 6 4 20-5 25zM1175 1539l-10-1-6-10-3-20 2-10 7-19 10-7 11 6 4 10 0 10 0 10-5 18zM1324 1636l-7-8-3-8-1-12 3-10 8-11 10 5 4 16 0 10-4 13zM1742 682l-6-3-10-10-2-10 1-20 3-10 6-10 8-7 10 0 10 11 2 6 2 10-2 20-2 8-10 13zM273 1538l6 8 10 1 10-8 15-21 9-20 2-30-8-80-13-60-12-40-23-54-10-15-10 10-6 19-6 10-8 8-10 2-11-10-5-10-2-9 0-20 7-20 11-13 10-4 10 0 3-3 2-10-2-30-5-20-8-16-10-1-37 47-7 20-2 139 2 40 9 40 8 20 14 20 23 19 10 11 11 20 18 50zM1083 1049l2 1 10-4 10-16 35-71 15-26 10-10 20-15 6-9 4-10 0-10-4-10-6-10-10 7-12 23-8 11-10 5-20-1-10 4-20 29-10 7-10 1-12-6-8-7-10-3-11 10-8 10-3 10 5 10 17 21 30 54zM972 909l4 6 5-6 2-10 12-80 1-50 5-20 5-10 10-5 9 6 10 18 5 21 3 40 2 11 10 15 10-1 30-12 7-13 4-20 0-20-12-80-9-27-3-23 3-23 10-13 10 1 4 5 6 10 11 30 19 26 10 10 10-2 14-14 16-10 30-8 20-9 13-13 7-10 7-20 3-20 1-40 4-20 4-10 10-10 10 2 10 10 8 18 12 36 10 13 10 3 10-8 29-94 0-10-7-30-2-20 0-10 9-39 1-10-2-10-10-30-10-50-8-21-10-10-10-5-20-4-10 3-6 7-6 10-14 50-6 30 0 20 6 50 0 19-4 22-10 14-10 0-10-8-19-33-10-21-7-33-4-50-2-10-5-10-12-10-10-4-10 0-10 4-10 16-19 74-1 39-4 40 12 40 0 20-8 18-10 1-10-19-1-40-2-10-7-9-10-27-1-63-5-20-8-20-6-8-10-5-10-2-10 3-11 12-17 60 1 39-1 20-3 10-8 13-10-2-10-18-3-23 1-29-4-20-15-50-9-15-10-4-10 0-10 2-10 8-5 9-8 30 1 50-4 19-4 8-10 6-10-8-8-25-6-40-14-40-7-30-5-14-10-10-10-2-20 4-9 5-8 7-5 10-2 10-4 40-4 20-7 15-10 6-10-5-10-14-12-32-18-39-16-51-4-7-10-6-10-1-20 5-20 10-11 9-7 10-4 10-9 60-5 10-14 9-9 5-10 2-20-3-10-3-10-7-10-11-20-42-10-14-10-4-10 2-10 4-20 15-33 37-11 20-3 10 0 20 7 48 2 21-3 60 1 11 10 6 10-2 10-5 30-20 20-19 30-42 10-8 10-2 10 2 10 9 28 40 21 19 30 18 20 7 10 1 10-1 10-6 20-37 10-12 10-4 10 2 20 10 10-1 10-5 10-8 12-23 8-9 10-4 9 7 6 16 1 10 0 10-5 20-7 10-7 20-9 70 1 20 7 20 13 20 10 9 10 5 10 1 10-1 10-3 13-11 3-10 2-40 2-14 10-21 17-15 4-30 7-20 2-2 10-3 10 13 2 22-2 13-10 17-9 10-8 80 2 10 25 35 9 25 3 30-4 50 4 30 5 20 13 28 10 16zM996 697l-10-9-5-19 0-10 5-18 10-8 10 8 4 18 0 10-4 20zM1016 575l-6-16 0-20 6-15 9-1 8 16 1 10-1 10-8 17zM1215 584l-10-18-1-17 2-10 9-14 10 1 2 3 5 10 2 20-2 10-7 15zM607 411l-11-11-3-10-3-20 1-10 4-10 12-4 10 8 7 26-1 10-6 17zM205 889l4 3 10-4 20-17 16-22 9-20 21-70 25-100 5-30-1-10-5-3-20 13-10 2-10-2-10-7-20-20-10 1-14 16-10 20-12 30-20 60-6 40 0 20 6 30 26 64zM1563 549l10 8 10 1 10-7 5-12 5-31 9-29 11-16 17-14 2-10-1-10-13-29-15-24-10-21-15-55-10-20-15-15-20-11-20-6-10 0-10 5-10 15-4 12-4 20 2 20 6 17 6 33-1 20-5 16-10 11-9-2-15-15-5-13-10-13-10 4-5 12-2 49-7 40 2 10 8 20 14 22 10 6 10-2 10-9 3-7 18-50 8-11 10-2 10 5 10 15 16 53z"/>
<path fill="#4d0d6c" d="M616 1808l11 1 10-5 10-14 20-40 10-10 10-4 10 0 30 13 20 5 10 4 20 14 10 3 9-3 10-14 17-50 13-19 10-7 10-1 10 3 10 8 30 31 10 8 10 2 10-10 10-45 7-20 13-16 10-4 10 1 10 8 19 41 7 10 13 12 10 3 10-14 8-31 9-20 27-30 7-40 9-21 10-9 10-1 10 1 7-60 3-11 13-29 2-10-3-20-22-91-10-5-6 6-3 10-5 40-6 18-10 16-19 16-6 40-5 15-10 13-10 1-10-12-4-17 0-10 4-24 10-18 8-8 3-10 1-70-5-10-30-30-12-20-4-11-10 1 0 6 13 54 1 20-2 20-6 20-6 10-10 7-10 0-9-7-21-39-10-8-30-19-10 2-8 14-2 10 3 20 7 30 2 30-6 20-5 10-11 9-10 0-14-9-6-7-10-5-10 5-21 27-28 18-15 12-9 10-12 20-14 44-10 20-10 11-25 15-5 7-12 33-6 10-2 3-10 6-10-3-10-12-6-24-3-50-3-10-8-12-10-5-10-2-20 1-19 9-10 8-10 11-20 27-10 10-10 7-10 3-30-3-30 0-14-4-26-14-10 2-5 12-2 10 1 30 10 30 6 12 10 11 10 6 10 2 10-2 30-16 10-2 10 3 10 7 20 21 10 7 10 3 10-3 6-9 17-40 6-8 10-4 10 5 9 17 4 20 2 50 5 12zM767 1728l-10-7-2-3-6-20-2-20 3-20 4-10 3-5 10-5 10 5 8 15 3 10 1 20-2 15-7 15-3 5zM826 1582l-7-14-3-10 0-30 2-10 8-17 10 0 10 9 4 8 5 20 0 20-2 10-7 13-10 6zM896 1643l-10-22-1-23 6-20 5-7 10-3 10 8 5 12 2 10 0 20-7 21-10 7zM956 1510l-10-8-2-4-4-10-1-20 4-20 3-4 10-8 10 3 5 9 3 10 1 20-4 20-5 8zM1006 1610l-8-22-1-20 2-10 7-17 10-6 9 4 5 9 3 10 1 20-2 10-7 18-9 8zM1507 1798l6 2 10-1 10-8 8-13 8-30 7-40 1-20-7-20-27-44-10-11-10-4-10 0-10 3-9 6-10 10-5 10-2 10 10 50 3 60 4 10 7 10 12 12zM1324 1788l10-9 18-41 12-12 10-3 10 2 10 4 10 1 8-22 8-40 0-10-1-10-15-25-10-25-4-20-5-50-7-30-4-10-10-13-10-2-10 8-20 28-10 9-10 4-10 0-30-5-29 1-20-7-10 1-16 26-9 10-5 4-10 2-10-1-5 5-2 30-3 21-10 24-9 15-2 10 2 30 7 20 9 10 13 11 10 5 10-3 20-46 10-14 20-18 20-34 9-6 10 3 10 12 4 10 2 20-3 20-10 40 0 20 5 10 19 20 23 18zM1314 1641l-6-13-2-10 1-20 7-19 10-8 10 5 7 12 3 14 0 16-2 10-8 16-10 4zM1618 1688l5 4 10 1 10-5 10-11 10-19 4-10 3-20-2-60 3-10 4-10 8-7 10-3 9 3 7 7 6 10 17 41 10 4 10-6 10-12 8-17 7-20 5-30 0-90-2-20-8-3-4 3-16 7-10 1-30-11-10 1-9 5-13 17-11 30-9 60-5 20-5 10-32 40-9 20-6 20-3 30 3 10 5 10zM279 1508l10 4 10-8 8-16 5-30-2-40-6-50-13-50-16-40-6-11-10-7-10 4-20 16-10 2-20-4-10 14-3 26 0 20 5 30 11 30 14 20 23 24 10 13 20 39zM1789 1368l3 6 20-16 10-14 10-26 8-70 6-29 16-33 11-37 3-40-4-27-10 6-10 19-4 12-6 40-5 60-8 20-28 49-9 25-4 25zM1849 959l13 2 3-12 0-20-20-90-7-90-16-64-16-86-14-46-18-34-12-14-10-7-8 1-5 10-2 10-2 30 1 20 3 10 23 21 5 9 5 15 2 15-2 20-7 20-22 30-3 10 0 20 3 20 12 30 17 27 12 23 8 22 12 58 8 19 10 10zM208 859l11 3 10-5 10-9 12-19 13-30 9-30 9-40 6-30 1-20-1-10-5-10-34-26-10-5-10 2-10 11-10 18-16 40-9 30-4 20-1 30 4 30 11 30 5 9zM958 829l8 9 6-9 4-6 4-24 8-70-12-39-3-21 3-21 10-22 10-9 10 1 6 11 5 20 1 50 3 10 14 24 8 16 12 40 10 16 10-1 10-13 3-12-2-40-10-70-1-20 2-20 8-20 10-9 12-1 8 7 20 39 10 13 10 8 10 0 27-17 12-10 9-10 2-10-2-10-8-15-7-35 1-20 6-16 10-11 11-3 9 4 5 6 14 25 8-25 1-10-2-10-16-26-20-45-10-29-10-52-6-17-4-8-10-7-10 1-10 10-10 25-8 29-3 30-2 39 8 60-5 28-10 14-10 2-10-10-5-14-8-50-13-40-8-59-6-18-10-13-10-3-10 7-8 17-6 20-6 59-8 40 2 10 6 6 10 18 4 16 0 20-5 20-9 12-9 4-10-16-4-20 0-20 4-30-1-10-19-26-5-14-5-20-7-49-13-37-10-11-10-1-10 7-9 22-6 49-5 24-10 16-10 0-10-8-10-18-16-63-14-40-10-21-10-8-10 0-10 4-9 15-6 20-9 60 3 10 12 8 11 11 8 18 3 22-3 28-13 42-3 20-1 40 4 20 11 20 12 9 10 2 10-2 10-11 4-8 14-50 20-40 12-40 10-13 10 2 10 11 6 20 2 20-4 20-13 40-3 30 1 20 6 20 15 30 7 20 6 30 3 60 4 17zM1344 549l10 1 8-11 15-40 2-20-1-50 3-59-3-20-16-60-8-14-10-9-10-3-10 1-10 8-10 20-7 27-5 30 4 69-4 50 2 10 6 10 14 14 20 34zM1564 519l9 7 10-4 2-3 8-16 24-64 1-20-35-99-10-22-10-12-10-7-20-8-10 1-12 8-5 10-3 10-1 20 4 50-1 49 3 10 25 29 20 45zM622 509l15 3 10-3 10-8 20-28 10-9 10-5 30-4 9-6 7-10 2-10-3-10-15-22-50-121-10-13-10-4-10 1-10 4-10 6-10 13-6 17 1 20 15 38 3 22-3 22-10 20-10 5-10-4-20-27-10-5-9 1-19 8-7 10 14 29 21 33 30 25zM401 499l7 4 10-2 20-12 20-20 30-40 19-19 8-10-3-10-40-70-4-7-10-7-10-1-10 3-20 15-22 27-9 20-4 20 2 29 7 60 3 10zM1452 479l2 3 10-4 2-9 1-10-3-8-10-4-5 12 0 10z"/>
<path fill="#721a6e" d="M616 1778l1 3 10 5 10-6 10-15 20-42 10-7 20 4 20 7 10 1 10-6 3-14 0-40 3-20 5-10 9-10 10-1 10 5 10 14 7 22 4 30 3 10 5 5 19-25 11-12 10-6 10-3 26 1 4-10-8-40 0-30 3-10 5-9 10-9 10-2 10 6 7 14 4 10 3 30-2 20-9 20-21 20 8 14 10 8 10-5 13-37 7-10 9-10 11-9 20-11 4-10 1-40 4-20 4-10 7-9 10-5 9 2 9 12 3 10 3 20-2 20-3 14-10 22-8 14-2 10 2 10 10 20 8 7 10-3 23-44 23-30 16-50 8-13 19-17 4-10 20-80-3-27-10-30-10-5-17 32-23 30-4 10-8 30-8 18-10 10-10 2-10-5-3-5-5-20-2-20 4-30 15-40 2-20-1-13-5-17-5-7-10-1-13 48-6 12-10 12-10 6-20 7-4 3 4 13 4 27 0 30-6 20-8 10-10 2-10-6-9-16-5-20 0-20 2-10 10-20 24-20-11-30-11-16-10-7-10-4-10 6-2 11 1 60-3 20-5 10-11 14-10 7-20 3-9 6-1 10 6 40 1 20-5 20-6 10-6 6-10 3-10-4-10-15-3-10-7-40-3-10-7-6-9 2-10 7-14 17-9 20-17 50-10 14-30 23-10 20-10 27-10 14-10-1-10-6-10-11-5-10-6-20-9-55-10-14-10-5-20 0-19 9-10 9-40 47-20 12-20 4-30-3-40-7-5 3-5 10 3 20 7 16 10 10 10 3 10-2 30-15 10-1 10 4 30 29 10 7 10 2 10-6 20-35 9-11 10-3 10 4 10 12 7 16 6 40zM1500 1778l13 5 10-3 10-12 10-30 4-40-2-10-7-20-15-25-10-12-10-5-10 0-10 4-6 8-5 10-1 20 8 80 4 10 6 10zM1299 1758l15 10 10-1 10-11 20-34 10-8 10-3 20-2 8-11 4-10 2-20-1-10-20-60-13-73-10-22-10-4-12 9-13 20-4 10 1 10 8 10 10 17 6 23-2 30-4 12-10 15-10 3-10-4-14-16-3-10 1-30 11-40-2-10-21-10-12-3-29-3-30-5-10 4-20 25-20 14-6 8-22 80 0 20 7 20 11 11 10 4 10-7 20-35 21-23 29-41 9-6 10 1 8 6 9 10 6 10 2 10-1 20-9 60 4 20 7 10zM1620 1658l3 5 10 4 10-5 9-14 3-10 2-20-4-32-10-1-10 9-10 16-7 28 1 10zM1737 1578l5 4 10-5 10-14 6-15 8-40 0-30-3-30-2-10-9-9-20-2-30-7-10 2-8 6-11 19-8 31-1 30 4 10 5 4 19 9 10 10 20 34zM273 1478l6 7 10 1 10-13 4-25 0-40-8-50-11-40-15-31-10-9-10 1-20 12-23 7-7 9-3 11 0 30 7 30 9 20 37 45zM1830 929l12 0 5-10 0-10-9-70-3-60-4-30-29-118-10-30-6-12-4-14-10-20-10-10-3 4 0 10 3 9 15 21 4 20 1 20-1 20-5 20-23 50-3 10 1 20 8 30 23 40 10 21 20 68 10 16zM207 839l12 6 10-4 10-10 8-12 16-40 12-50 3-40-1-10-4-10-14-14-10-7-10-4-10 4-10 11-6 10-16 40-9 40-2 30 3 20 6 20zM1064 759l1 2 2-2 5-10 2-10-5-80 1-20 4-20 11-22 10-10 10-6 9-2 1-10-10-31-9-49-11-40-10-49-10-23-10-5-10 10-6 18-4 19-6 60 1 10 12 40 2 30-7 30-11 20-3 10 0 10 4 50 3 20 25 49zM965 739l2-10-1-50 3-30 7-20 18-30 3-10-1-70-4-20-18-40-9-49-9-29-10-14-10 0-10 15-12 67 0 10 3 10 16 30 3 10 3 20-3 30-12 50 0 30 9 30 16 30 7 18 3 2 4 10zM1146 639l9 8 10 1 10-4 16-15 5-10 1-10-5-50 3-23 10-25 20-22 4-10-2-20-29-99-3-10-10-12-10 1-10 13-12 38-4 49 6 70-5 30-5 13-10 13-19 14 19 43zM816 629l10 3 10-5 10-17 11-31 22-50 5-20 2-20-1-10-23-40-17-59-16-40-3-7-10-10-10-1-10 9-3 9-6 20-2 20 4 20 17 29 7 30-1 30-11 50-4 40 5 30 4 11zM1337 519l7 8 10-2 10-16 3-10 5-30 2-89-3-30-11-40-6-14-5-6-5-6-10-3-10 2-12 17-10 30-3 20 0 20 2 79 2 20 4 10zM1565 499l8 5 10-6 5-9 16-40 4-20 0-10-8-29-27-74-10-15-10-8-10-5-10-1-10 4-7 9-3 10-2 20 3 80 2 9 5 10 14 20 18 34zM618 489l9 5 10 1 10-3 10-8 22-25 8-6 24-14 8-10 2-10-1-9-20-60-23-54-10-14-10-6-10 1-10 5-6 8-5 10-1 20 7 40 2 20-2 20-5 19-10 17-10 9-17 4 1 10 6 10 8 10zM406 479l2 3 10 3 10-3 20-15 14-18 20-30 10-19 1-10-2-10-7-20-16-29-10-9-10-2-10 2-10 6-20 21-11 21-5 20 0 29 6 43z"/>
<path fill="#972766" d="M1512 1768l11-5 9-15 6-30 1-20-6-20-10-20-10-12-10-6-10 1-10 11-4 16 1 30 3 30 5 20 5 9 10 9zM625 1758l2 2 10-5 4-7 4-10 1-10-2-10-12-20-9-20-8-50-7-20-11-10-10-2-10 0-19 10-10 9-45 53-7 10-3 10 3 10 6 10 9 10 7 5 10 1 10-7 19-29 10-8 10-3 10 3 10 8 7 10 8 20 5 26zM1307 1748l7 4 10-2 30-40 10-7 20-7 9-8 4-10 1-10-2-20-17-50-14-60-11-11-7 11 0 10 9 40 0 20-3 20-6 20-13 17-10 3-20-5-6 5-5 10-3 20 0 20 4 15zM698 1698l9 7 10 3 10-7 3-13 0-20 0-10-3-10-10 0-10 8-8 12-3 10-1 10zM1154 1688l11 6 10-6 20-28 20-23 30-43 9-7 10-1 10 3 10 1 4-12-1-10-6-10-29-10-27-7-10-1-10 5-33 33-7 9-4 11-13 50-1 20 2 10zM806 1678l0 2 10 1 20-18 26-15 6-10-2-30 0-2-10-2-10 4-10 1-10-5-10-12-6-14-14-42-9-5-10 6-10 13-11 28-2 20 3 10 20 13 10 11 7 16zM1035 1648l0 2 10 3 36-45 6-10 18-50 23-30 5-10 12-50 3-20-3-21-10-11-10 9-25 33-14 40-11 19-10 9-20 10-1 2 0 60-10 50zM939 1618l7 9 10-4 20-15 5-10 6-50 6-20 13-12 20-8 4-10 0-50 3-40-5-10-3 0-34 30-3 10-3 60-2 10-4 10-3 4-10 6-10 1-10-4-12-17-8-26-10-16-20 19-19 13-6 10-1 20 6 27 20-7 10-1 10 6 10 15 4 10zM1732 1558l10 7 10-5 10-18 7-34 0-40-7-21-10-8-30-7-10 0-12 6-7 9-5 11-5 20 1 20 5 10 23 22zM269 1458l10 8 10-3 2-5 4-10 2-20-2-40-10-50-12-30-4-7-10-10-10 0-30 14-10 9-5 14-1 20 4 20 8 20 14 20zM933 1398l3 8 2-8-2-11zM1819 889l3 7 10-3 1-4-4-120-5-30-12-44-10-30-10-11-10 18-21 47-2 10-1 20 9 30 27 50 18 48zM216 829l3 2 10-4 10-10 10-17 14-41 7-40 1-20-5-20-7-11-10-8-10-3-10 4-14 18-12 30-10 40 0 30 3 20 9 20 4 6zM1051 709l4 5 6-15 2-60 7-30 12-20 15-20 3-10-2-30-10-50-23-75-10-7-10 14-8 48 1 30 9 40 2 30-4 26-11 34-2 20 4 40 9 25zM946 669l10 1 13-41 19-40 3-20-1-40-3-20-16-40-15-61-10-17-10 2-3 7-7 22-3 27 5 20 11 30 3 20 0 30-11 70 4 30zM1154 629l11 4 10-5 10-14 3-15-1-40 4-30 8-20 18-30 2-10-2-20-17-59-5-16-10-16-10 1-10 16-8 35-2 39 5 50 0 20-5 24-16 36-2 10 4 20 5 10zM814 609l2 3 10 4 10-7 10-18 26-62 6-30-3-20-19-40-20-62-10-22-10-12-10 1-3 6-5 10-2 20 5 20 12 29 5 30-1 30-11 60-2 20 2 23zM1344 509l10-3 10-27 3-20 3-79-5-30-11-36-10-15-10-5-10 4-8 12-10 30-2 30 2 69 2 20 9 20 17 24zM1561 479l2 4 10 4 10-8 10-20 6-20 1-10-1-19-18-60-14-30-14-15-10-5-10 1-10 9-5 20-1 30 2 40 2 10 9 19zM417 469l11 0 10-5 10-9 12-16 13-20 8-19 0-20-6-20-13-20-4-4-10-4-10 2-10 5-10 10-10 14-7 17-3 30 3 29 7 23zM623 469l4 5 10 5 10-1 10-7 46-42 5-10 1-9-2-20-13-40-17-38-10-15-10-6-10 1-7 8-5 10-1 20 4 40 0 20-5 29-11 30-1 10z"/>
<path fill="#bc3754" d="M1500 1748l3 4 10 2 10-9 7-17 2-20-3-20-6-14-10-14-10-5-10 3-4 10-3 20 4 40 3 11zM1305 1728l9 7 10-3 27-34 23-12 10-8 3-10 0-20-13-35-10 0-6 25-7 20-7 12-10 8-10 2-10 0-10 5-4 13-1 10 2 10zM514 1698l4 5 10 4 10-7 20-25 9-6 10-2 10 2 20 10 3-11-1-30-3-10-9-15-10-4-10 0-17 9-11 10-23 30-13 20-2 10zM1159 1668l6 7 10-4 40-47 25-46 1-10-9-10-7-3-10-1-10 4-31 30-9 19-7 31-2 20zM809 1658l7 4 10-6 14-18-2-10-22-22-13-28-7-18-9-10-10 5-2 3-8 20-1 10 3 10 24 30 13 28zM1052 1608l3 8 10-5 10-11 10-17 17-45 23-32 10-38 2-20-2-12-10-2-10 9-11 15-15 40-6 10-8 11-21 19-3 20zM943 1598l3 7 10 3 13-10 5-10 2-10 1-20-1-12-10-4-20-5-12-9-18-36-10 2-15 14-4 10 3 10 16 5 10 5 9 10 6 10zM1738 1548l4 3 10-7 7-16 5-30-2-30-5-10-5-6-5-4-25-6-10 1-10 7-5 8-4 10-1 20 3 10 7 10 30 37zM1002 1498l4 1 10-5 3-6 2-10 0-30-1-10-4-9-10 4-5 5-5 14-1 36 1 3zM277 1448l2 2 1-2 8-10 2-10 1-30-4-30-8-30-10-24-10-11-10-2-18 7-13 10-5 10-3 10 1 20 6 20 12 20 30 37 10 10zM1808 839l4 10 10 0 3-40-2-40-5-30-6-25-10-27-10-9-10 12-13 29-3 10-1 20 9 30zM208 809l11 9 10-2 10-11 13-26 8-30 5-30-1-20-2-10-6-10-7-7-10-3-10 4-10 12-10 22-7 22-3 20-1 20 2 20zM1045 659l10-24 5-26 26-40 5-10 1-10-3-40-14-52-10-28-10-7-10 25-2 22 1 20 8 40 2 30-2 40-8 30zM944 639l2 4 10-2 24-52 5-30-1-30-4-20-19-50-5-21-10-21-10 7-3 25 1 10 10 40 3 20 0 30-7 60 1 20zM1154 609l11 6 10-7 5-19 2-50 6-20 20-40 3-10-1-20-4-20-11-35-10-17-10 0-1 3-9 18-4 21-1 30 5 70-4 30-11 30-1 10 1 10zM826 599l10-6 10-18 19-46 6-30-4-20-17-40-14-39-10-22-10-10-7 12 1 10 11 49 1 30-2 30-8 50-1 20 5 23zM1333 489l11 6 10-7 3-9 6-30 2-59-3-30-8-30-10-18-10-5-10 5-9 18-5 20-2 30 4 69 7 20zM1563 469l10 4 10-9 2-5 7-20 2-10-1-19-7-30-15-40-8-15-6-5-4-5-10-3-10 2-8 16-3 20 1 40 4 20 4 9 22 38zM638 459l9 4 10-4 10-8 24-22 7-10 3-9-1-20-12-40-11-25-10-14-10-6-10 5-4 10-2 10 1 60-7 59zM412 449l6 7 10 2 10-5 10-9 10-13 12-21 4-20-3-20-12-20-11-7-10 1-10 6-10 11-10 19-4 20 0 19 4 20z"/>
<path fill="#da4e3c" d="M1499 1728l4 7 10 2 7-9 3-10 0-17-4-13-6-12-10-5-6 7-4 11 1 19zM547 1658l1 2 19-7 20-1 9-4 0-10-9-12-10-1-7 3-12 10zM1170 1648l5 5 10-7 20-23 10-15 8-20 0-10-8-8-10 3-10 7-10 10-10 14-7 24-1 10zM795 1608l1 3 4-3-4-19-9-14-3 3-1 10 3 10zM1064 1588l1 2 10-8 10-23 6-21 9-20 17-20 6-20 0-10-8-4-10 15-13 39-22 20-7 10-4 20 1 10zM948 1578l8 9 7-9 2-10-9-11-5 1-5 5 0 8zM1728 1528l4 5 10 4 9-9 6-20 1-20-5-20-8-10-13-5-10-1-10 3-9 13-2 10 1 10 10 20zM264 1428l5 5 10-1 2-4 4-20-1-30-5-25-10-27-10-13-10-3-10 3-9 5-8 10-4 10 0 20 6 20 5 10 20 26zM1808 819l4 4 5-14 2-20-2-30-5-25-10-29-10-10-10 10-6 14-4 15 0 15 5 20 5 13 20 33zM212 799l7 7 10-2 10-11 10-21 6-23 4-30-2-20-8-15-10-4-10 4-10 14-12 31-3 20-1 20 4 20zM951 609l5 7 10-13 10-23 3-21-3-37-10-27-5-6-5-14-3 4 0 10 0 50-4 50zM824 579l2 3 10-5 10-16 14-32 4-20 0-10-3-20-15-34-10-18-3 2-4 10-4 50-7 50 0 20 1 10zM1063 569l2 6 10-6 6-10 3-10 1-20-10-50-10-25-10-4-4 19 0 20zM1174 519l1 3 10-12 11-21 7-20 2-10-3-20-5-20-12-25-10 2-5 14-4 19 0 30zM1337 479l7 3 10-13 5-30 2-49-2-20-5-24-10-21-10-5-10 6-6 14-4 20-2 30 2 39 4 20 6 17 10 13zM1571 459l2 1 9-11 4-10 2-20-2-19-12-40-9-20-12-14-10-3-10 6-5 21-1 30 2 20 8 19 16 27 10 12zM417 439l1 3 10 4 10-3 13-14 11-19 4-20-1-10-7-18-10-8-10 1-10 6-13 19-3 10-2 20 3 19zM645 439l2 6 10 2 10-6 14-12 8-10 4-9 2-10-5-30-12-30-11-16-10-5-8 11-2 10-4 89z"/>
<path fill="#f06f20" d="M1731 1518l1 2 10 1 3-3 4-10 1-20-2-10-6-9-10-5-10 0-5 4-5 7 0 13 9 20zM266 1418l3 2 3-2 7-9 1-21-2-20-9-30-10-14-10-5-10 4-10 9-5 16 0 10 6 20 9 15 20 22zM216 789l3 4 10 0 3-4 8-10 11-30 2-20-1-20-3-11-10-7-10 4-9 14-10 30-1 30 2 10zM1795 789l7 9 10-9 0-20-3-20-7-26-10-11-10 11-3 16 0 10 5 20zM962 569l4 7 3-17-3-29-4 19zM830 559l6 2 10-15 10-26 2-11-1-20-4-10-7-16-10-5-11 71 0 20 1 8zM1073 539l2 1 1-11-1-18-10-27-3 15 3 35zM1182 489l3 2 10-18 2-14-2-25-10-21-10 6-3 20 0 20 3 24zM1329 459l5 8 10 1 5-9 5-15 3-34-1-30-3-20-9-22-10-6-10 9-5 19-2 20 2 49 4 20zM1557 439l6 7 10 1 8-18 1-19-6-30-12-30-11-14-10-1-5 5-5 10-2 20 1 20 11 29zM423 429l5 5 10-3 10-10 6-11 4-10 0-15-1-5-9-13-10-1-10 7-9 17-2 20 1 11zM654 429l3 4 10-2 10-9 8-12 3-10-1-19-3-11-7-18-10-15-10 0-4 13-3 60 0 9z"/>
<path fill="#fb9706" d="M1730 1498l2 3 4-3 1-10-5-6-5 6zM252 1398l7 6 10 1 3-7 1-20-3-20-4-10-7-13-10-6-10 5-4 4-4 10 0 10 6 20zM224 779l5 1 10-13 8-28 0-20-4-10-4-5-10 4-10 18-3 13-1 20 1 10 3 8zM1797 769l5 3 0-23-10-15-4 15 2 10 2 8zM834 529l2 8 10-11 4-17-1-10-3-13-10 7zM1331 449l3 5 10-1 7-24 2-19-2-30-4-20-3-7-10-8-10 14-3 31 2 39zM1558 429l5 5 11-5 3-19-3-20-11-31-10-11-10 0-4 12-2 10 1 20 6 20 9 15zM426 410l2 5 10 1 10-15 0-13-10-8-10 10zM656 410l1 3 10 5 10-9 3-9 1-10-3-20-11-17-10 9-2 28z"/>
<path fill="#fac62d" d="M256 1388l3 3 3-3 4-10-1-10-6-20-10-6-8 6-2 10 2 10 5 10 3 5zM225 759l4 4 8-14 3-10-1-13-10-2-2 5-4 20zM1331 429l3 9 10-5 4-23-1-20-3-20-10-10-4 10-4 20 0 20zM1563 419l5-9-1-20-4-15-10-13-9 8-1 10 1 10 9 22z"/>
<path fill="#f1f179" d="M1334 410l3-10-3-13z"/>
</g>
<use href="#lem"/>
<ellipse cx="184.13" cy="103.38" rx="6.41" ry="12.63" fill="none" stroke="#27877f" stroke-width="2.30"/>
</g>
<use href="#etk"/><use href="#efr"/>
</g>
</g>
<g id="txt">
<text transform="matrix(0.44319 0 0 0.47306 7.07 166.63)" font-family="'Liberation Sans', sans-serif" font-size="100" font-weight="bold" fill="#000">a</text>
<text transform="matrix(0.49703 0 0 0.44762 767.67 39.45)" font-family="'Liberation Sans', sans-serif" font-size="100" font-weight="bold" fill="#000">b</text>
<text transform="matrix(0.48410 0 0 0.47306 769.86 420.43)" font-family="'Liberation Sans', sans-serif" font-size="100" font-weight="bold" fill="#000">c</text>
<text transform="matrix(0.49109 0 0 0.46939 1399.94 248.13)" font-family="'Liberation Sans', sans-serif" font-size="100" font-weight="bold" fill="#000">d</text>
<text transform="matrix(0.52850 0 0 0.48402 5.89 942.62)" font-family="'Liberation Sans', sans-serif" font-size="100" font-weight="bold" fill="#000">e</text>
<text transform="matrix(0.38057 0 0 0.41185 90.27 205.00)" font-family="'Liberation Serif', serif" font-size="100" fill="#000">10</text>
<text transform="matrix(0.38057 0 0 0.41185 109.30 328.20)" font-family="'Liberation Serif', serif" font-size="100" fill="#000">0</text>
<text transform="matrix(0.38057 0 0 0.41185 90.27 451.30)" font-family="'Liberation Serif', serif" font-size="100" fill="#000">10</text>
<text transform="matrix(0.52473 0 0 0.32000 60.28 444.24)" font-family="'Liberation Serif', serif" font-size="100" fill="#000">−</text>
<text transform="matrix(0.37717 0 0 0.41185 225.20 519.19)" font-family="'Liberation Serif', serif" font-size="100" fill="#000">20</text>
<text transform="matrix(0.39765 0 0 0.41185 409.41 519.19)" font-family="'Liberation Serif', serif" font-size="100" fill="#000">0</text>
<text transform="matrix(0.38804 0 0 0.41185 591.05 519.19)" font-family="'Liberation Serif', serif" font-size="100" fill="#000">20</text>
<text transform="matrix(0.51828 0 0 0.32000 194.81 518.54)" font-family="'Liberation Serif', serif" font-size="100" fill="#000">−</text>
<text transform="matrix(0.48315 0 0 0.49670 408.13 568.25)" font-family="'Liberation Serif', serif" font-size="100" font-style="italic" fill="#000">q</text>
<text transform="matrix(0 -0.51374 0.49377 0 43.61 329.25)" font-family="'Liberation Serif', serif" font-size="100" font-style="italic" fill="#000">p</text>
<text transform="matrix(0.37748 0 0 0.41333 113.91 651.60)" font-family="'Liberation Serif', serif" font-size="100" fill="#000">3.24</text>
<text transform="matrix(0.37821 0 0 0.41333 212.98 651.60)" font-family="'Liberation Serif', serif" font-size="100" fill="#000">0.81</text>
<text transform="matrix(0.37941 0 0 0.41333 327.84 651.60)" font-family="'Liberation Serif', serif" font-size="100" fill="#000">4.86</text>
<text transform="matrix(0.38746 0 0 0.41333 441.85 651.60)" font-family="'Liberation Serif', serif" font-size="100" fill="#000">8.90</text>
<text transform="matrix(0.38163 0 0 0.41333 547.56 651.60)" font-family="'Liberation Serif', serif" font-size="100" fill="#000">12.95</text>
<text transform="matrix(0.38682 0 0 0.41333 661.72 651.60)" font-family="'Liberation Serif', serif" font-size="100" fill="#000">17.00</text>
<text transform="matrix(0.52258 0 0 0.32000 83.19 651.24)" font-family="'Liberation Serif', serif" font-size="100" fill="#000">−</text>
<text transform="matrix(0.35086 0 0 0.37481 16.63 598.83)" font-family="'Liberation Serif', serif" font-size="100" fill="#000">10</text>
<text transform="matrix(0.33763 0 0 0.32000 51.81 590.04)" font-family="'Liberation Serif', serif" font-size="100" fill="#000">−</text>
<text transform="matrix(0.25376 0 0 0.27529 70.29 586.50)" font-family="'Liberation Serif', serif" font-size="100" fill="#000">4</text>
<text transform="matrix(0.42062 0 0 0.36304 80.84 599.26)" font-family="'DejaVu Sans', sans-serif" font-size="100" fill="#000">ℰ</text>
<path d="M18.1 605.7H106.2" stroke="#000" stroke-width="1.6"/>
<text transform="matrix(0.42491 0 0 0.39695 47.73 637.60)" font-family="'Liberation Serif', serif" font-size="100" font-style="italic" fill="#000">K</text>
<text transform="matrix(0.39200 0 0 0.42370 816.17 44.48)" font-family="'Liberation Serif', serif" font-size="100" fill="#000">10</text>
<text transform="matrix(0.25647 0 0 0.30222 856.09 29.30)" font-family="'Liberation Serif', serif" font-size="100" fill="#000">4</text>
<text transform="matrix(0.39200 0 0 0.42370 816.17 126.93)" font-family="'Liberation Serif', serif" font-size="100" fill="#000">10</text>
<text transform="matrix(0.25647 0 0 0.30222 855.38 111.75)" font-family="'Liberation Serif', serif" font-size="100" fill="#000">3</text>
<text transform="matrix(0.39200 0 0 0.42370 816.17 209.38)" font-family="'Liberation Serif', serif" font-size="100" fill="#000">10</text>
<text transform="matrix(0.25647 0 0 0.30222 855.51 194.20)" font-family="'Liberation Serif', serif" font-size="100" fill="#000">2</text>
<text transform="matrix(0.39200 0 0 0.42370 816.17 291.83)" font-family="'Liberation Serif', serif" font-size="100" fill="#000">10</text>
<text transform="matrix(0.25647 0 0 0.30222 854.36 276.65)" font-family="'Liberation Serif', serif" font-size="100" fill="#000">1</text>
<text transform="matrix(0.39200 0 0 0.42370 816.17 374.28)" font-family="'Liberation Serif', serif" font-size="100" fill="#000">10</text>
<text transform="matrix(0.25647 0 0 0.30222 855.64 359.10)" font-family="'Liberation Serif', serif" font-size="100" fill="#000">0</text>
<text transform="matrix(0 -0.53807 0.52366 0 798.80 254.98)" font-family="'Liberation Serif', serif" font-size="100" fill="#000">F</text>
<text transform="matrix(0 -0.35159 0.38609 0 806.81 226.32)" font-family="'Liberation Serif', serif" font-size="100" fill="#000">otoc</text>
<text transform="matrix(0.40586 0 0 0.41041 915.27 70.69)" font-family="'Liberation Serif', serif" font-size="100" font-weight="bold" fill="#ff0000" stroke="#000" stroke-width="2.6" paint-order="stroke" stroke-linejoin="round">O</text>
<text transform="matrix(0.41702 0 0 0.41970 914.78 106.90)" font-family="'Liberation Serif', serif" font-size="100" font-weight="bold" fill="#00bfbf" stroke="#000" stroke-width="2.6" paint-order="stroke" stroke-linejoin="round">A</text>
<text transform="matrix(0.43373 0 0 0.40000 915.74 142.50)" font-family="'Liberation Serif', serif" font-size="100" font-weight="bold" fill="#80dc3c" stroke="#000" stroke-width="2.6" paint-order="stroke" stroke-linejoin="round">B</text>
<text transform="matrix(0.42845 0 0 0.41636 915.16 178.58)" font-family="'Liberation Serif', serif" font-size="100" font-weight="bold" fill="#2e8b0a" stroke="#000" stroke-width="2.6" paint-order="stroke" stroke-linejoin="round">C</text>
<text transform="matrix(0.43359 0 0 0.40000 915.74 214.00)" font-family="'Liberation Serif', serif" font-size="100" font-weight="bold" fill="#4b2878" stroke="#000" stroke-width="2.6" paint-order="stroke" stroke-linejoin="round">D</text>
<text transform="matrix(0.43013 0 0 0.40153 915.75 249.90)" font-family="'Liberation Serif', serif" font-size="100" font-weight="bold" fill="#000000" stroke="#000" stroke-width="2.6" paint-order="stroke" stroke-linejoin="round">E</text>
<text transform="matrix(0.46115 0 0 0.43333 1120.12 112.47)" font-family="'Liberation Serif', serif" font-size="100" font-style="italic" fill="#0000ff">e</text>
<text transform="matrix(0.32547 0 0 0.32453 1140.22 96.10)" font-family="'Liberation Serif', serif" font-size="100" fill="#0000ff">2</text>
<text transform="matrix(0.36069 0 0 0.33050 1157.60 97.10)" font-family="'Liberation Serif', serif" font-size="100" font-style="italic" fill="#0000ff">λ</text>
<text transform="matrix(0.38020 0 0 0.36174 1173.09 96.44)" font-family="'Liberation Serif', serif" font-size="100" font-style="italic" fill="#0000ff">t</text>
<text transform="matrix(0.40471 0 0 0.42667 840.98 469.50)" font-family="'Liberation Serif', serif" font-size="100" fill="#000">4</text>
<text transform="matrix(0.40471 0 0 0.42667 841.34 610.70)" font-family="'Liberation Serif', serif" font-size="100" fill="#000">2</text>
<text transform="matrix(0.40471 0 0 0.42667 841.08 751.90)" font-family="'Liberation Serif', serif" font-size="100" fill="#000">0</text>
<text transform="matrix(0.40941 0 0 0.42667 861.36 783.40)" font-family="'Liberation Serif', serif" font-size="100" fill="#000">0</text>
<text transform="matrix(0.39879 0 0 0.42667 1003.80 783.40)" font-family="'Liberation Serif', serif" font-size="100" fill="#000">0.01</text>
<text transform="matrix(0.40664 0 0 0.42667 1171.28 783.40)" font-family="'Liberation Serif', serif" font-size="100" fill="#000">0.02</text>
<text transform="matrix(0.40658 0 0 0.42667 1339.08 783.40)" font-family="'Liberation Serif', serif" font-size="100" fill="#000">0.03</text>
<text transform="matrix(0.48997 0 0 0.44885 1098.71 826.00)" font-family="'Liberation Serif', serif" font-size="100" font-style="italic" fill="#000">K</text>
<text transform="matrix(0.49505 0 0 0.47652 1134.37 825.82)" font-family="'Liberation Serif', serif" font-size="100" font-style="italic" fill="#000">t</text>
<text transform="matrix(0 -0.57447 0.51747 0 803.28 599.32)" font-family="'Liberation Serif', serif" font-size="100" font-style="italic" fill="#000">S</text>
<text transform="matrix(0 -0.34380 0.35623 0 810.00 570.76)" font-family="'Liberation Serif', serif" font-size="100" font-style="italic" fill="#000">H2</text>
<text transform="matrix(0.48555 0 0 0.43830 992.81 468.90)" font-family="'Liberation Serif', serif" font-size="100" font-style="italic" fill="#0000ff">λ</text>
<text transform="matrix(0.51485 0 0 0.47652 1012.78 468.12)" font-family="'Liberation Serif', serif" font-size="100" font-style="italic" fill="#0000ff">t</text>
<text transform="matrix(0.37257 0 0 0.42519 1463.34 256.87)" font-family="'Liberation Serif', serif" font-size="100" fill="#000">10</text>
<text transform="matrix(0.27765 0 0 0.30519 1501.96 242.10)" font-family="'Liberation Serif', serif" font-size="100" fill="#000">0</text>
<text transform="matrix(0.38514 0 0 0.42519 1441.13 352.87)" font-family="'Liberation Serif', serif" font-size="100" fill="#000">10</text>
<text transform="matrix(0.27765 0 0 0.30519 1500.57 338.10)" font-family="'Liberation Serif', serif" font-size="100" fill="#000">1</text>
<text transform="matrix(0.38925 0 0 0.30000 1479.75 340.18)" font-family="'Liberation Serif', serif" font-size="100" fill="#000">−</text>
<text transform="matrix(0.38514 0 0 0.42519 1441.13 448.87)" font-family="'Liberation Serif', serif" font-size="100" fill="#000">10</text>
<text transform="matrix(0.27765 0 0 0.30519 1501.82 434.10)" font-family="'Liberation Serif', serif" font-size="100" fill="#000">2</text>
<text transform="matrix(0.38925 0 0 0.30000 1479.75 436.18)" font-family="'Liberation Serif', serif" font-size="100" fill="#000">−</text>
<text transform="matrix(0.38514 0 0 0.42519 1441.13 544.87)" font-family="'Liberation Serif', serif" font-size="100" fill="#000">10</text>
<text transform="matrix(0.27765 0 0 0.30519 1501.68 530.10)" font-family="'Liberation Serif', serif" font-size="100" fill="#000">3</text>
<text transform="matrix(0.38925 0 0 0.30000 1479.75 532.17)" font-family="'Liberation Serif', serif" font-size="100" fill="#000">−</text>
<text transform="matrix(0.41647 0 0 0.42963 1512.94 571.30)" font-family="'Liberation Serif', serif" font-size="100" fill="#000">0</text>
<text transform="matrix(0.39363 0 0 0.42963 1613.02 571.30)" font-family="'Liberation Serif', serif" font-size="100" fill="#000">0.004</text>
<text transform="matrix(0.39402 0 0 0.42963 1747.52 571.30)" font-family="'Liberation Serif', serif" font-size="100" fill="#000">0.008</text>
<text transform="matrix(0.39954 0 0 0.42963 1881.50 571.30)" font-family="'Liberation Serif', serif" font-size="100" fill="#000">0.012</text>
<text transform="matrix(0.48858 0 0 0.44885 1700.71 613.70)" font-family="'Liberation Serif', serif" font-size="100" font-style="italic" fill="#000">K</text>
<text transform="matrix(0.45941 0 0 0.47304 1736.63 613.73)" font-family="'Liberation Serif', serif" font-size="100" font-style="italic" fill="#000">t</text>
<text transform="matrix(0 -0.57021 0.51747 0 1424.58 403.51)" font-family="'Liberation Serif', serif" font-size="100" font-style="italic" fill="#000">S</text>
<text transform="matrix(0 -0.38475 0.35573 0 1431.10 375.71)" font-family="'Liberation Serif', serif" font-size="100" font-style="italic" fill="#000">P</text>
<text transform="matrix(0.37055 0 0 0.39859 617.43 943.50)" font-family="'Liberation Sans', sans-serif" font-size="100" fill="#000">SNAPSHOTS OF THE HUSIMI FUNCTIONS</text>
<text transform="matrix(0.42915 0 0 0.44981 46.94 1075.06)" font-family="'Liberation Serif', serif" font-size="100" fill="#000">12</text>
<text transform="matrix(0.42915 0 0 0.44981 67.65 1143.97)" font-family="'Liberation Serif', serif" font-size="100" fill="#000">0</text>
<text transform="matrix(0.42915 0 0 0.44981 46.94 1212.89)" font-family="'Liberation Serif', serif" font-size="100" fill="#000">12</text>
<text transform="matrix(0.46538 0 0 0.53333 32.05 1215.03)" font-family="'Liberation Serif', serif" font-size="100" fill="#000">-</text>
<text transform="matrix(0 -0.45877 0.43663 0 22.12 1143.16)" font-family="'Liberation Serif', serif" font-size="100" font-style="italic" fill="#000">p</text>
<text transform="matrix(0.42915 0 0 0.44981 46.94 1302.66)" font-family="'Liberation Serif', serif" font-size="100" fill="#000">12</text>
<text transform="matrix(0.42915 0 0 0.44981 67.65 1371.58)" font-family="'Liberation Serif', serif" font-size="100" fill="#000">0</text>
<text transform="matrix(0.42915 0 0 0.44981 46.94 1440.49)" font-family="'Liberation Serif', serif" font-size="100" fill="#000">12</text>
<text transform="matrix(0.46538 0 0 0.53333 32.05 1442.63)" font-family="'Liberation Serif', serif" font-size="100" fill="#000">-</text>
<text transform="matrix(0 -0.45877 0.43663 0 22.12 1370.76)" font-family="'Liberation Serif', serif" font-size="100" font-style="italic" fill="#000">p</text>
<text transform="matrix(0.42915 0 0 0.44981 46.94 1530.36)" font-family="'Liberation Serif', serif" font-size="100" fill="#000">12</text>
<text transform="matrix(0.42915 0 0 0.44981 67.65 1599.27)" font-family="'Liberation Serif', serif" font-size="100" fill="#000">0</text>
<text transform="matrix(0.42915 0 0 0.44981 46.94 1668.19)" font-family="'Liberation Serif', serif" font-size="100" fill="#000">12</text>
<text transform="matrix(0.46538 0 0 0.53333 32.05 1670.33)" font-family="'Liberation Serif', serif" font-size="100" fill="#000">-</text>
<text transform="matrix(0 -0.45877 0.43663 0 22.12 1598.46)" font-family="'Liberation Serif', serif" font-size="100" font-style="italic" fill="#000">p</text>
<text transform="matrix(0.44000 0 0 0.45800 97.80 1068.20)" font-family="'Liberation Sans', sans-serif" font-size="100" fill="#fff">A</text>
<text transform="matrix(0.44000 0 0 0.45800 97.80 1295.80)" font-family="'Liberation Sans', sans-serif" font-size="100" fill="#fff">B</text>
<text transform="matrix(0.44000 0 0 0.45800 97.80 1523.50)" font-family="'Liberation Sans', sans-serif" font-size="100" fill="#fff">C</text>
<text transform="matrix(0.42915 0 0 0.44981 1059.04 1075.06)" font-family="'Liberation Serif', serif" font-size="100" fill="#000">12</text>
<text transform="matrix(0.42915 0 0 0.44981 1079.75 1143.97)" font-family="'Liberation Serif', serif" font-size="100" fill="#000">0</text>
<text transform="matrix(0.42915 0 0 0.44981 1059.04 1212.89)" font-family="'Liberation Serif', serif" font-size="100" fill="#000">12</text>
<text transform="matrix(0.46538 0 0 0.53333 1044.15 1215.03)" font-family="'Liberation Serif', serif" font-size="100" fill="#000">-</text>
<text transform="matrix(0 -0.45877 0.43663 0 1034.22 1143.16)" font-family="'Liberation Serif', serif" font-size="100" font-style="italic" fill="#000">p</text>
<text transform="matrix(0.42915 0 0 0.44981 1059.04 1302.66)" font-family="'Liberation Serif', serif" font-size="100" fill="#000">12</text>
<text transform="matrix(0.42915 0 0 0.44981 1079.75 1371.58)" font-family="'Liberation Serif', serif" font-size="100" fill="#000">0</text>
<text transform="matrix(0.42915 0 0 0.44981 1059.04 1440.49)" font-family="'Liberation Serif', serif" font-size="100" fill="#000">12</text>
<text transform="matrix(0.46538 0 0 0.53333 1044.15 1442.63)" font-family="'Liberation Serif', serif" font-size="100" fill="#000">-</text>
<text transform="matrix(0 -0.45877 0.43663 0 1034.22 1370.76)" font-family="'Liberation Serif', serif" font-size="100" font-style="italic" fill="#000">p</text>
<text transform="matrix(0.42915 0 0 0.44981 1059.04 1530.36)" font-family="'Liberation Serif', serif" font-size="100" fill="#000">12</text>
<text transform="matrix(0.42915 0 0 0.44981 1079.75 1599.27)" font-family="'Liberation Serif', serif" font-size="100" fill="#000">0</text>
<text transform="matrix(0.42915 0 0 0.44981 1059.04 1668.19)" font-family="'Liberation Serif', serif" font-size="100" fill="#000">12</text>
<text transform="matrix(0.46538 0 0 0.53333 1044.15 1670.33)" font-family="'Liberation Serif', serif" font-size="100" fill="#000">-</text>
<text transform="matrix(0 -0.45877 0.43663 0 1034.22 1598.46)" font-family="'Liberation Serif', serif" font-size="100" font-style="italic" fill="#000">p</text>
<text transform="matrix(0.44000 0 0 0.45800 1109.90 1068.20)" font-family="'Liberation Sans', sans-serif" font-size="100" fill="#fff">O</text>
<text transform="matrix(0.44000 0 0 0.45800 1109.90 1295.80)" font-family="'Liberation Sans', sans-serif" font-size="100" fill="#fff">D</text>
<text transform="matrix(0.44000 0 0 0.45800 1109.90 1523.50)" font-family="'Liberation Sans', sans-serif" font-size="100" fill="#fff">E</text>
<text transform="matrix(0.41749 0 0 0.44593 90.80 1725.35)" font-family="'Liberation Serif', serif" font-size="100" fill="#000">30</text>
<text transform="matrix(0.40769 0 0 0.60000 76.95 1726.20)" font-family="'Liberation Serif', serif" font-size="100" fill="#000">-</text>
<text transform="matrix(0.41749 0 0 0.44593 181.51 1725.35)" font-family="'Liberation Serif', serif" font-size="100" fill="#000">0</text>
<text transform="matrix(0.41749 0 0 0.44593 258.34 1725.35)" font-family="'Liberation Serif', serif" font-size="100" fill="#000">30</text>
<text transform="matrix(0.40674 0 0 0.43077 182.38 1767.10)" font-family="'Liberation Serif', serif" font-size="100" font-style="italic" fill="#000">q</text>
<text transform="matrix(0.45675 0 0 0.46107 131.77 1024.80)" font-family="'Liberation Serif', serif" font-size="100" font-style="italic" fill="#000">K</text>
<text transform="matrix(0.51089 0 0 0.49043 165.10 1024.51)" font-family="'Liberation Serif', serif" font-size="100" font-style="italic" fill="#000">t</text>
<text transform="matrix(0.58710 0 0 0.28800 191.86 1025.38)" font-family="'Liberation Serif', serif" font-size="100" fill="#000">=</text>
<text transform="matrix(0.41647 0 0 0.44889 235.04 1024.85)" font-family="'Liberation Serif', serif" font-size="100" fill="#000">0</text>
<text transform="matrix(0.41749 0 0 0.44593 314.85 1725.35)" font-family="'Liberation Serif', serif" font-size="100" fill="#000">30</text>
<text transform="matrix(0.40769 0 0 0.60000 301.00 1726.20)" font-family="'Liberation Serif', serif" font-size="100" fill="#000">-</text>
<text transform="matrix(0.41749 0 0 0.44593 405.56 1725.35)" font-family="'Liberation Serif', serif" font-size="100" fill="#000">0</text>
<text transform="matrix(0.41749 0 0 0.44593 482.39 1725.35)" font-family="'Liberation Serif', serif" font-size="100" fill="#000">30</text>
<text transform="matrix(0.40674 0 0 0.43077 406.43 1767.10)" font-family="'Liberation Serif', serif" font-size="100" font-style="italic" fill="#000">q</text>
<text transform="matrix(0.40554 0 0 0.46107 310.86 1024.80)" font-family="'Liberation Serif', serif" font-size="100" font-style="italic" fill="#000">K</text>
<text transform="matrix(0.51089 0 0 0.49043 345.45 1024.51)" font-family="'Liberation Serif', serif" font-size="100" font-style="italic" fill="#000">t</text>
<text transform="matrix(0.58925 0 0 0.28800 371.30 1025.38)" font-family="'Liberation Serif', serif" font-size="100" fill="#000">=</text>
<text transform="matrix(0.39738 0 0 0.44559 414.66 1024.63)" font-family="'Liberation Serif', serif" font-size="100" fill="#000">0.0075</text>
<text transform="matrix(0.41749 0 0 0.44593 539.80 1725.35)" font-family="'Liberation Serif', serif" font-size="100" fill="#000">30</text>
<text transform="matrix(0.40769 0 0 0.60000 525.95 1726.20)" font-family="'Liberation Serif', serif" font-size="100" fill="#000">-</text>
<text transform="matrix(0.41749 0 0 0.44593 630.51 1725.35)" font-family="'Liberation Serif', serif" font-size="100" fill="#000">0</text>
<text transform="matrix(0.41749 0 0 0.44593 707.34 1725.35)" font-family="'Liberation Serif', serif" font-size="100" fill="#000">30</text>
<text transform="matrix(0.40674 0 0 0.43077 631.38 1767.10)" font-family="'Liberation Serif', serif" font-size="100" font-style="italic" fill="#000">q</text>
<text transform="matrix(0.36678 0 0 0.46107 545.56 1024.80)" font-family="'Liberation Serif', serif" font-size="100" font-style="italic" fill="#000">K</text>
<text transform="matrix(0.50693 0 0 0.49043 579.02 1024.51)" font-family="'Liberation Serif', serif" font-size="100" font-style="italic" fill="#000">t</text>
<text transform="matrix(0.60645 0 0 0.28800 605.57 1025.38)" font-family="'Liberation Serif', serif" font-size="100" fill="#000">=</text>
<text transform="matrix(0.40552 0 0 0.44559 648.58 1024.63)" font-family="'Liberation Serif', serif" font-size="100" fill="#000">0.013</text>
<text transform="matrix(0.41749 0 0 0.44593 764.20 1725.35)" font-family="'Liberation Serif', serif" font-size="100" fill="#000">30</text>
<text transform="matrix(0.40769 0 0 0.60000 750.35 1726.20)" font-family="'Liberation Serif', serif" font-size="100" fill="#000">-</text>
<text transform="matrix(0.41749 0 0 0.44593 854.91 1725.35)" font-family="'Liberation Serif', serif" font-size="100" fill="#000">0</text>
<text transform="matrix(0.41749 0 0 0.44593 931.74 1725.35)" font-family="'Liberation Serif', serif" font-size="100" fill="#000">30</text>
<text transform="matrix(0.40674 0 0 0.43077 855.78 1767.10)" font-family="'Liberation Serif', serif" font-size="100" font-style="italic" fill="#000">q</text>
<text transform="matrix(0.38339 0 0 0.46107 779.53 1024.80)" font-family="'Liberation Serif', serif" font-size="100" font-style="italic" fill="#000">K</text>
<text transform="matrix(0.47525 0 0 0.49043 814.81 1024.51)" font-family="'Liberation Serif', serif" font-size="100" font-style="italic" fill="#000">t</text>
<text transform="matrix(0.59140 0 0 0.28800 839.59 1025.38)" font-family="'Liberation Serif', serif" font-size="100" fill="#000">=</text>
<text transform="matrix(0.40530 0 0 0.44559 882.53 1024.63)" font-family="'Liberation Serif', serif" font-size="100" fill="#000">0.14</text>
<text transform="matrix(0.41749 0 0 0.44593 1102.90 1725.35)" font-family="'Liberation Serif', serif" font-size="100" fill="#000">30</text>
<text transform="matrix(0.40769 0 0 0.60000 1089.05 1726.20)" font-family="'Liberation Serif', serif" font-size="100" fill="#000">-</text>
<text transform="matrix(0.41749 0 0 0.44593 1193.61 1725.35)" font-family="'Liberation Serif', serif" font-size="100" fill="#000">0</text>
<text transform="matrix(0.41749 0 0 0.44593 1270.44 1725.35)" font-family="'Liberation Serif', serif" font-size="100" fill="#000">30</text>
<text transform="matrix(0.40674 0 0 0.43077 1194.48 1767.10)" font-family="'Liberation Serif', serif" font-size="100" font-style="italic" fill="#000">q</text>
<text transform="matrix(0.45675 0 0 0.46107 1143.87 1024.80)" font-family="'Liberation Serif', serif" font-size="100" font-style="italic" fill="#000">K</text>
<text transform="matrix(0.51089 0 0 0.49043 1177.20 1024.51)" font-family="'Liberation Serif', serif" font-size="100" font-style="italic" fill="#000">t</text>
<text transform="matrix(0.58710 0 0 0.28800 1203.96 1025.38)" font-family="'Liberation Serif', serif" font-size="100" fill="#000">=</text>
<text transform="matrix(0.41647 0 0 0.44889 1247.14 1024.85)" font-family="'Liberation Serif', serif" font-size="100" fill="#000">0</text>
<text transform="matrix(0.41749 0 0 0.44593 1327.45 1725.35)" font-family="'Liberation Serif', serif" font-size="100" fill="#000">30</text>
<text transform="matrix(0.40769 0 0 0.60000 1313.60 1726.20)" font-family="'Liberation Serif', serif" font-size="100" fill="#000">-</text>
<text transform="matrix(0.41749 0 0 0.44593 1418.16 1725.35)" font-family="'Liberation Serif', serif" font-size="100" fill="#000">0</text>
<text transform="matrix(0.41749 0 0 0.44593 1494.99 1725.35)" font-family="'Liberation Serif', serif" font-size="100" fill="#000">30</text>
<text transform="matrix(0.40674 0 0 0.43077 1419.03 1767.10)" font-family="'Liberation Serif', serif" font-size="100" font-style="italic" fill="#000">q</text>
<text transform="matrix(0.40554 0 0 0.46107 1323.46 1024.80)" font-family="'Liberation Serif', serif" font-size="100" font-style="italic" fill="#000">K</text>
<text transform="matrix(0.51089 0 0 0.49043 1358.05 1024.51)" font-family="'Liberation Serif', serif" font-size="100" font-style="italic" fill="#000">t</text>
<text transform="matrix(0.58925 0 0 0.28800 1383.90 1025.38)" font-family="'Liberation Serif', serif" font-size="100" fill="#000">=</text>
<text transform="matrix(0.39738 0 0 0.44559 1427.26 1024.63)" font-family="'Liberation Serif', serif" font-size="100" fill="#000">0.0075</text>
<text transform="matrix(0.41749 0 0 0.44593 1552.00 1725.35)" font-family="'Liberation Serif', serif" font-size="100" fill="#000">30</text>
<text transform="matrix(0.40769 0 0 0.60000 1538.15 1726.20)" font-family="'Liberation Serif', serif" font-size="100" fill="#000">-</text>
<text transform="matrix(0.41749 0 0 0.44593 1642.71 1725.35)" font-family="'Liberation Serif', serif" font-size="100" fill="#000">0</text>
<text transform="matrix(0.41749 0 0 0.44593 1719.54 1725.35)" font-family="'Liberation Serif', serif" font-size="100" fill="#000">30</text>
<text transform="matrix(0.40674 0 0 0.43077 1643.58 1767.10)" font-family="'Liberation Serif', serif" font-size="100" font-style="italic" fill="#000">q</text>
<text transform="matrix(0.36678 0 0 0.46107 1557.76 1024.80)" font-family="'Liberation Serif', serif" font-size="100" font-style="italic" fill="#000">K</text>
<text transform="matrix(0.50693 0 0 0.49043 1591.22 1024.51)" font-family="'Liberation Serif', serif" font-size="100" font-style="italic" fill="#000">t</text>
<text transform="matrix(0.60645 0 0 0.28800 1617.77 1025.38)" font-family="'Liberation Serif', serif" font-size="100" fill="#000">=</text>
<text transform="matrix(0.40552 0 0 0.44559 1660.78 1024.63)" font-family="'Liberation Serif', serif" font-size="100" fill="#000">0.013</text>
<text transform="matrix(0.41749 0 0 0.44593 1777.00 1725.35)" font-family="'Liberation Serif', serif" font-size="100" fill="#000">30</text>
<text transform="matrix(0.40769 0 0 0.60000 1763.15 1726.20)" font-family="'Liberation Serif', serif" font-size="100" fill="#000">-</text>
<text transform="matrix(0.41749 0 0 0.44593 1867.71 1725.35)" font-family="'Liberation Serif', serif" font-size="100" fill="#000">0</text>
<text transform="matrix(0.41749 0 0 0.44593 1944.54 1725.35)" font-family="'Liberation Serif', serif" font-size="100" fill="#000">30</text>
<text transform="matrix(0.40674 0 0 0.43077 1868.58 1767.10)" font-family="'Liberation Serif', serif" font-size="100" font-style="italic" fill="#000">q</text>
<text transform="matrix(0.38339 0 0 0.46107 1792.33 1024.80)" font-family="'Liberation Serif', serif" font-size="100" font-style="italic" fill="#000">K</text>
<text transform="matrix(0.47525 0 0 0.49043 1827.61 1024.51)" font-family="'Liberation Serif', serif" font-size="100" font-style="italic" fill="#000">t</text>
<text transform="matrix(0.59140 0 0 0.28800 1852.39 1025.38)" font-family="'Liberation Serif', serif" font-size="100" fill="#000">=</text>
<text transform="matrix(0.40530 0 0 0.44559 1895.33 1024.63)" font-family="'Liberation Serif', serif" font-size="100" fill="#000">0.14</text>
</g>
</svg></body></html>
